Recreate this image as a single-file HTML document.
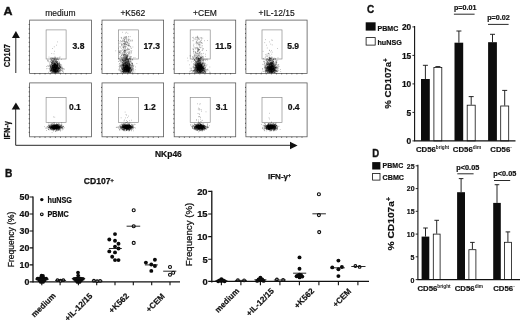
<!DOCTYPE html>
<html lang="en">
<head>
<meta charset="utf-8">
<title>Figure: CD107 and IFN-gamma responses of NK cells</title>
<style>
html,body{margin:0;padding:0;background:#fff;}
body{width:520px;height:322px;overflow:hidden;}
svg{display:block;font-family:'Liberation Sans', Arial, Helvetica, sans-serif;fill:#111;}
</style>
</head>
<body>
<svg width="520" height="322" viewBox="0 0 520 322">
<rect width="520" height="322" fill="#fff"/>
<g id="panelA">
<text x="3.5" y="14.5" font-size="10.5" font-weight="700" text-anchor="start" textLength="9" lengthAdjust="spacingAndGlyphs" stroke="#111" stroke-width="0.35">A</text>
<text x="60.4" y="15.6" font-size="8.5" text-anchor="middle" stroke="#111" stroke-width="0.15">medium</text>
<text x="132.8" y="15.6" font-size="8.5" text-anchor="middle" stroke="#111" stroke-width="0.15">+K562</text>
<text x="205.0" y="15.6" font-size="8.5" text-anchor="middle" stroke="#111" stroke-width="0.15">+CEM</text>
<text x="276.7" y="15.6" font-size="8.5" text-anchor="middle" stroke="#111" stroke-width="0.15">+IL-12/15</text>
<rect x="29.6" y="20.1" width="61.9" height="53.3" fill="none" stroke="#5a5a5a" stroke-width="0.8"/>
<path d="M28.7 24.5h0.9M34.8 74.3v-0.9M28.7 29.0h0.9M39.9 74.3v-0.9M28.7 33.4h0.9M45.1 74.3v-0.9M28.7 37.9h0.9M50.2 74.3v-0.9M28.7 42.3h0.9M55.4 74.3v-0.9M28.7 46.8h0.9M60.5 74.3v-0.9M28.7 51.2h0.9M65.7 74.3v-0.9M28.7 55.6h0.9M70.9 74.3v-0.9M28.7 60.1h0.9M76.0 74.3v-0.9M28.7 64.5h0.9M81.2 74.3v-0.9M28.7 69.0h0.9M86.3 74.3v-0.9" stroke="#222" stroke-width="0.8" fill="none"/>
<rect x="46.1" y="29.9" width="20" height="29.1" fill="none" stroke="#868686" stroke-width="0.65"/>
<text x="72.6" y="48.7" font-size="8.5" font-weight="700" stroke="#111" stroke-width="0.22" text-anchor="start">3.8</text>
<path d="M57.8 70.3h0.6M54.9 69.7h0.6M49.2 70.9h0.6M62.4 69.6h0.6M51.8 66.7h0.6M56.2 71.4h0.6M56.0 70.7h0.6M60.7 69.8h0.6M53.4 72.3h0.6M59.1 72.8h0.6M52.3 67.7h0.6M59.6 68.4h0.6M62.6 68.5h0.6M56.4 67.5h0.6M55.6 68.7h0.6M63.9 69.0h0.6M56.6 66.6h0.6M52.0 70.2h0.6M58.1 67.3h0.6M50.6 67.4h0.6M59.6 72.1h0.6M59.9 68.6h0.6M53.0 69.9h0.6M52.8 71.5h0.6M55.9 71.9h0.6M55.3 69.4h0.6M51.4 70.2h0.6M57.4 68.3h0.6M53.5 71.5h0.6M53.6 67.7h0.6M54.1 70.1h0.6M56.4 71.7h0.6M50.4 71.2h0.6M52.7 68.9h0.6M49.9 69.9h0.6M50.6 67.3h0.6M56.6 70.6h0.6M51.4 70.4h0.6M59.3 70.3h0.6M59.2 65.5h0.6M61.3 68.6h0.6M54.0 70.3h0.6M51.0 67.3h0.6M59.2 68.2h0.6M56.4 69.3h0.6M59.6 70.9h0.6M55.2 69.7h0.6M59.9 68.1h0.6M58.5 71.8h0.6M58.0 68.9h0.6M57.2 69.0h0.6M56.8 67.1h0.6M56.1 68.4h0.6M56.1 71.5h0.6M59.1 66.5h0.6M53.2 69.9h0.6M62.0 71.7h0.6M54.8 69.3h0.6M59.0 70.6h0.6M54.8 67.6h0.6M63.1 72.5h0.6M54.0 70.6h0.6M50.2 66.2h0.6M52.4 67.8h0.6M54.0 72.2h0.6M56.0 70.8h0.6M51.3 68.8h0.6M56.6 69.7h0.6M57.8 70.1h0.6M62.2 71.0h0.6M52.5 66.7h0.6M57.6 72.2h0.6M51.2 67.6h0.6M55.1 67.1h0.6M54.2 70.9h0.6M46.1 68.7h0.6M57.5 64.9h0.6M57.3 71.9h0.6M53.5 70.4h0.6M50.0 69.1h0.6M56.2 70.4h0.6M59.2 68.4h0.6M60.7 70.3h0.6M53.2 67.8h0.6M58.4 68.4h0.6M54.3 70.9h0.6M55.0 68.9h0.6M54.9 69.1h0.6M59.5 72.0h0.6M55.7 71.9h0.6M54.6 71.3h0.6M54.1 71.2h0.6M51.7 70.1h0.6M55.0 68.0h0.6M53.0 69.5h0.6M54.7 67.1h0.6M52.8 69.3h0.6M63.0 71.2h0.6M57.0 68.6h0.6M55.0 70.1h0.6M63.7 69.3h0.6M56.5 68.5h0.6M54.9 67.5h0.6M56.4 70.2h0.6M56.4 66.3h0.6M60.7 70.3h0.6M55.1 70.1h0.6M63.4 68.7h0.6M51.8 67.9h0.6M57.9 67.1h0.6M62.3 67.1h0.6M55.0 71.4h0.6M58.8 69.3h0.6M60.1 67.6h0.6M50.9 72.4h0.6M49.8 68.0h0.6M55.7 69.4h0.6M54.8 72.4h0.6M53.8 70.8h0.6M53.7 68.8h0.6M52.3 71.3h0.6M57.3 67.3h0.6M47.7 68.5h0.6M54.7 65.2h0.6M53.6 69.8h0.6M57.1 69.8h0.6M54.6 69.4h0.6M51.1 70.1h0.6M57.9 71.4h0.6M58.9 58.1h0.6M54.6 58.2h0.6M57.5 64.1h0.6M56.1 62.7h0.6M54.0 59.7h0.6M55.0 57.6h0.6M54.9 62.0h0.6M52.4 58.3h0.6M58.0 63.9h0.6M51.2 60.4h0.6M57.8 64.4h0.6M57.3 58.3h0.6M54.6 61.7h0.6M52.8 58.3h0.6M54.2 64.1h0.6M56.0 62.3h0.6M56.7 59.5h0.6M55.5 65.7h0.6M57.4 63.3h0.6M53.4 60.4h0.6M55.4 64.8h0.6M50.7 60.7h0.6M56.8 65.5h0.6M55.2 60.0h0.6M53.7 65.9h0.6M57.8 58.0h0.6M56.6 63.7h0.6M47.5 60.0h0.6M54.9 61.1h0.6M51.0 62.9h0.6M57.6 57.9h0.6M61.3 59.4h0.6M53.5 58.4h0.6M55.0 63.8h0.6M54.1 59.4h0.6M55.7 61.7h0.6M56.5 60.3h0.6M58.1 59.5h0.6M52.2 65.4h0.6M58.9 61.8h0.6M52.4 63.0h0.6M55.5 63.5h0.6M57.8 64.5h0.6M56.7 59.7h0.6M52.4 58.2h0.6M53.0 61.5h0.6M53.6 58.9h0.6M54.7 57.7h0.6M57.8 65.3h0.6M51.4 62.8h0.6M56.0 61.0h0.6M56.4 58.7h0.6M56.3 64.0h0.6M56.0 62.0h0.6M58.7 59.0h0.6M56.1 65.8h0.6M57.0 65.6h0.6M56.3 65.4h0.6M59.5 64.5h0.6M49.9 62.0h0.6M58.1 60.1h0.6M54.1 63.0h0.6M54.1 58.8h0.6M52.3 62.7h0.6M49.9 58.1h0.6M53.8 57.6h0.6M53.0 63.6h0.6M56.1 60.4h0.6M51.0 63.4h0.6M58.5 64.1h0.6M55.5 64.6h0.6M54.2 62.7h0.6M53.0 64.7h0.6M52.8 63.1h0.6M51.9 65.4h0.6M53.4 65.1h0.6M54.8 57.9h0.6M54.3 59.8h0.6M51.1 60.8h0.6M54.1 59.6h0.6M52.5 59.0h0.6M55.2 64.9h0.6M59.6 57.7h0.6M56.4 59.0h0.6M54.0 64.0h0.6M50.6 59.4h0.6M51.1 59.7h0.6M50.4 65.7h0.6M56.7 64.0h0.6M52.8 61.3h0.6M55.0 58.7h0.6M53.2 59.8h0.6M55.0 65.8h0.6M58.4 64.2h0.6M53.0 58.1h0.6M53.9 63.5h0.6M52.7 60.7h0.6M57.1 63.6h0.6M52.1 60.0h0.6M51.9 58.6h0.6M51.2 57.7h0.6M51.1 60.0h0.6M56.0 64.8h0.6M61.5 65.1h0.6M52.2 63.3h0.6M57.3 63.9h0.6M55.5 59.2h0.6M51.9 60.5h0.6M54.1 65.1h0.6M54.2 65.9h0.6M53.0 61.3h0.6M59.8 64.1h0.6M49.8 65.4h0.6M55.8 66.0h0.6M55.7 60.0h0.6M53.3 63.1h0.6M55.2 60.8h0.6M57.1 61.5h0.6M55.2 61.4h0.6M55.9 59.9h0.6M56.6 57.7h0.6M49.5 64.0h0.6M58.6 63.4h0.6M60.7 64.6h0.6M57.4 58.8h0.6M57.4 59.5h0.6M51.1 62.6h0.6M54.5 65.5h0.6M52.7 61.5h0.6M53.3 59.2h0.6M57.3 63.1h0.6M53.5 63.1h0.6M54.7 56.4h0.6M54.5 58.6h0.6M54.8 58.2h0.6M54.5 64.0h0.6M51.5 64.5h0.6M47.4 61.0h0.6M51.8 57.7h0.6M47.6 60.6h0.6M54.1 61.0h0.6M53.9 59.0h0.6M48.7 57.1h0.6M56.0 62.2h0.6M56.6 62.7h0.6M54.2 62.2h0.6M59.1 62.5h0.6M59.7 56.8h0.6M50.2 58.1h0.6M57.1 64.7h0.6M55.3 62.9h0.6M55.2 64.2h0.6M56.8 62.1h0.6M51.7 62.6h0.6M52.1 63.4h0.6M51.3 58.7h0.6M51.6 62.7h0.6M53.6 60.6h0.6M49.4 62.1h0.6M50.7 58.6h0.6M55.7 58.9h0.6M53.7 62.3h0.6M55.1 59.7h0.6M48.0 60.8h0.6M51.5 53.5h0.6M52.2 63.5h0.6M54.0 60.6h0.6M52.1 61.5h0.6M56.8 62.0h0.6M53.7 53.8h0.6M54.0 51.3h0.6M53.9 46.8h0.6M56.1 45.2h0.6M52.4 48.5h0.6M57.4 41.9h0.6" stroke="#111" stroke-width="0.6" stroke-opacity="0.62" fill="none"/>
<path d="M55.2 71.7h0.6M52.8 67.6h0.6M54.0 70.5h0.6M52.5 68.7h0.6M55.4 68.6h0.6M53.9 64.3h0.6M53.5 71.5h0.6M56.5 68.2h0.6M56.2 72.5h0.6M55.5 68.9h0.6M52.7 66.3h0.6M55.1 69.1h0.6M57.1 70.5h0.6M51.6 68.4h0.6M54.0 69.8h0.6M50.1 66.7h0.6M51.7 61.9h0.6M50.2 71.0h0.6M54.6 70.4h0.6M51.8 68.7h0.6M55.9 68.5h0.6M55.6 71.4h0.6M54.7 66.9h0.6M48.4 66.2h0.6M53.7 67.7h0.6M55.1 71.9h0.6M55.5 64.1h0.6M51.1 71.9h0.6M53.9 66.4h0.6M52.6 65.0h0.6M53.0 72.1h0.6M58.1 68.0h0.6M53.0 64.4h0.6M55.1 67.2h0.6M57.6 71.1h0.6M53.6 71.9h0.6M54.9 67.0h0.6M55.5 69.5h0.6M55.4 70.4h0.6M51.9 66.4h0.6M55.4 69.4h0.6M58.9 68.2h0.6M51.0 66.7h0.6M57.5 66.8h0.6M55.5 68.5h0.6M53.5 68.4h0.6M60.6 66.6h0.6M57.3 67.0h0.6M52.0 71.6h0.6M55.4 68.9h0.6M56.8 71.0h0.6M54.7 71.9h0.6M57.0 70.1h0.6M57.0 65.8h0.6M59.1 70.7h0.6M53.4 67.3h0.6M55.5 62.4h0.6M52.0 65.4h0.6M53.6 70.3h0.6M54.7 70.7h0.6M57.6 70.5h0.6M58.3 68.1h0.6M51.6 69.7h0.6M53.1 70.3h0.6M56.9 68.1h0.6M49.8 71.4h0.6M53.9 61.5h0.6M54.9 70.2h0.6M58.6 65.2h0.6M57.1 71.2h0.6M54.3 67.6h0.6M54.2 65.6h0.6M54.5 69.4h0.6M59.3 65.6h0.6M54.0 65.6h0.6M54.4 63.6h0.6M56.2 68.2h0.6M54.9 69.8h0.6M54.7 71.4h0.6M52.2 67.9h0.6M55.2 71.4h0.6M54.0 68.4h0.6M58.3 68.0h0.6M57.0 70.0h0.6M55.1 71.5h0.6M57.0 67.3h0.6M54.3 67.6h0.6M58.0 67.8h0.6M55.2 68.5h0.6M56.8 65.6h0.6M51.7 71.4h0.6M56.1 67.1h0.6M50.6 69.7h0.6M49.7 65.8h0.6M54.4 69.4h0.6M52.8 69.5h0.6M55.6 67.0h0.6M53.0 69.4h0.6M55.8 71.2h0.6M56.5 66.3h0.6M54.7 67.2h0.6M54.6 69.6h0.6M57.1 68.5h0.6M56.6 68.4h0.6M52.4 67.4h0.6M55.0 62.9h0.6M55.3 67.6h0.6M52.4 61.6h0.6M55.9 69.4h0.6M52.9 66.1h0.6M57.8 66.2h0.6M55.7 67.6h0.6M55.4 69.1h0.6M53.6 64.0h0.6M54.9 63.1h0.6M49.8 65.1h0.6M52.1 62.2h0.6M56.2 65.4h0.6M57.5 65.1h0.6M50.5 70.3h0.6M57.2 64.2h0.6M52.9 69.2h0.6M57.3 67.3h0.6M55.6 68.1h0.6M51.1 70.0h0.6M59.1 68.9h0.6M55.0 68.7h0.6M54.5 65.4h0.6M54.8 70.1h0.6M52.6 67.6h0.6M58.2 70.8h0.6M53.7 68.2h0.6M53.1 62.4h0.6M53.5 67.4h0.6M51.8 70.9h0.6M58.6 67.2h0.6M54.8 65.9h0.6M57.8 67.5h0.6M55.2 64.2h0.6M53.3 68.7h0.6M53.7 71.7h0.6M55.2 65.0h0.6M54.2 65.7h0.6M54.4 67.1h0.6M51.5 71.3h0.6M53.0 65.8h0.6M59.7 66.2h0.6M53.4 71.0h0.6M52.4 70.9h0.6M56.1 67.2h0.6M59.0 64.9h0.6M51.3 63.7h0.6M54.6 66.2h0.6M53.5 61.6h0.6M50.4 70.5h0.6M57.2 66.4h0.6M55.1 69.7h0.6M53.2 71.8h0.6M56.4 64.8h0.6M53.7 70.9h0.6M54.8 71.8h0.6M52.2 66.1h0.6M51.9 65.4h0.6M58.8 68.0h0.6M53.8 63.5h0.6M56.0 72.7h0.6M55.1 61.1h0.6M54.0 65.0h0.6M53.8 67.5h0.6M56.9 67.6h0.6M54.4 68.8h0.6M54.8 69.1h0.6M55.3 67.7h0.6M58.4 71.7h0.6M57.0 61.9h0.6M56.2 68.3h0.6M53.7 66.2h0.6M51.5 68.7h0.6M57.8 69.0h0.6M57.8 65.6h0.6M54.8 66.4h0.6M56.7 70.7h0.6M57.3 69.3h0.6M57.4 66.3h0.6M59.3 63.9h0.6M51.8 69.2h0.6M56.5 70.7h0.6M57.6 69.0h0.6M60.3 67.7h0.6M59.2 66.7h0.6M52.1 67.7h0.6M50.6 66.6h0.6M57.4 70.5h0.6M52.5 67.1h0.6M55.2 67.0h0.6M57.5 64.7h0.6M50.8 68.2h0.6M49.5 65.6h0.6M55.9 67.8h0.6M55.3 71.4h0.6M54.5 69.4h0.6M55.3 69.8h0.6M52.9 69.4h0.6M51.1 68.5h0.6M54.8 67.9h0.6M52.6 67.4h0.6M50.8 70.6h0.6M56.6 65.0h0.6M55.0 72.3h0.6M56.3 68.4h0.6M52.5 66.1h0.6M53.4 66.8h0.6M52.5 66.3h0.6M52.8 68.8h0.6M55.7 66.1h0.6M53.1 71.7h0.6M56.2 66.0h0.6M56.1 61.5h0.6M60.7 66.1h0.6M51.4 62.3h0.6M57.6 68.2h0.6M55.0 71.5h0.6M55.2 70.2h0.6M51.3 64.3h0.6M54.0 66.0h0.6M55.0 69.3h0.6M55.4 68.3h0.6M54.4 71.5h0.6M55.1 72.2h0.6M49.3 68.7h0.6M53.3 69.4h0.6M49.9 70.2h0.6M46.4 66.5h0.6M53.8 65.1h0.6M58.8 68.5h0.6M55.3 65.5h0.6M52.0 68.1h0.6M52.7 68.6h0.6M55.6 65.7h0.6M55.3 67.9h0.6M55.1 67.8h0.6M55.3 69.6h0.6M57.4 71.4h0.6M56.7 66.8h0.6M55.8 65.8h0.6M52.4 63.4h0.6M56.6 65.5h0.6M53.4 69.9h0.6M58.2 68.4h0.6M51.8 65.3h0.6M54.8 67.2h0.6M55.2 68.4h0.6M51.6 69.8h0.6M59.8 66.5h0.6M59.1 67.5h0.6M53.9 62.8h0.6M57.3 64.8h0.6M48.1 61.7h0.6M55.9 67.3h0.6M55.0 69.0h0.6M55.4 67.2h0.6M52.3 65.9h0.6M54.5 68.1h0.6M54.7 68.3h0.6M58.4 68.1h0.6M56.1 62.7h0.6M55.2 67.9h0.6M59.3 65.7h0.6M53.7 66.7h0.6M54.1 69.0h0.6M50.3 70.2h0.6M59.4 71.0h0.6M57.8 66.8h0.6M57.7 71.1h0.6M57.0 71.8h0.6M55.5 71.7h0.6M55.8 72.5h0.6M54.5 67.9h0.6M54.7 67.8h0.6M55.3 70.8h0.6M59.3 64.2h0.6M56.7 68.9h0.6M55.0 66.7h0.6M53.6 67.2h0.6M53.5 63.1h0.6M59.5 65.6h0.6M56.6 68.2h0.6M55.4 71.0h0.6M54.3 71.3h0.6M52.2 68.1h0.6M55.0 67.7h0.6M57.6 65.8h0.6M54.1 69.5h0.6M54.6 67.6h0.6M54.6 70.1h0.6M50.9 68.2h0.6M54.6 63.8h0.6M52.9 65.7h0.6M57.6 63.9h0.6M53.1 64.7h0.6M56.8 72.2h0.6M59.3 69.0h0.6M54.4 63.7h0.6M53.6 70.3h0.6M55.7 72.1h0.6M55.2 67.2h0.6M52.5 66.3h0.6M56.4 67.3h0.6M60.6 69.2h0.6M54.5 70.2h0.6M54.7 71.8h0.6M52.4 71.9h0.6M56.1 71.9h0.6M51.8 72.4h0.6M52.2 70.3h0.6M58.7 63.7h0.6M52.8 67.9h0.6M58.1 69.2h0.6M59.3 67.2h0.6M55.9 71.0h0.6M56.7 67.2h0.6M60.5 65.5h0.6M54.7 72.6h0.6M53.6 70.3h0.6M51.5 69.0h0.6M55.3 71.1h0.6M59.2 71.5h0.6M57.8 69.3h0.6M52.7 60.9h0.6M52.9 66.3h0.6M53.8 66.9h0.6M56.0 65.3h0.6M54.6 68.9h0.6M55.8 71.9h0.6M56.0 66.8h0.6M54.4 64.9h0.6M55.8 66.9h0.6M55.0 64.6h0.6M56.6 69.0h0.6M60.3 69.6h0.6M56.8 66.2h0.6M55.4 70.7h0.6M50.6 66.8h0.6M56.2 65.5h0.6M49.9 68.8h0.6M51.4 70.6h0.6M57.5 66.4h0.6M57.1 69.3h0.6M54.8 68.0h0.6M54.2 66.2h0.6M53.4 72.5h0.6M56.9 68.1h0.6M61.3 67.9h0.6M55.8 70.5h0.6M53.1 71.0h0.6M52.0 72.1h0.6M55.0 69.3h0.6M54.7 66.5h0.6M52.1 66.7h0.6M55.5 69.8h0.6M52.1 70.0h0.6M58.2 72.5h0.6M58.1 69.6h0.6M58.1 71.5h0.6M56.6 68.8h0.6M54.8 63.8h0.6M54.2 64.8h0.6M54.3 64.0h0.6M51.3 65.8h0.6M57.3 72.0h0.6M54.7 70.1h0.6M57.9 71.3h0.6M50.5 68.0h0.6M53.1 67.7h0.6M55.7 68.6h0.6M56.3 68.8h0.6M54.2 66.7h0.6M58.0 68.2h0.6M51.9 63.2h0.6M52.7 69.1h0.6M57.4 65.6h0.6M56.5 68.9h0.6M50.1 70.8h0.6M58.8 68.1h0.6M56.8 70.6h0.6M58.8 63.5h0.6M54.2 71.6h0.6M54.4 66.5h0.6M52.2 70.2h0.6M62.0 68.8h0.6M54.7 60.5h0.6M59.5 66.0h0.6M53.5 69.0h0.6M50.7 69.2h0.6M54.2 69.1h0.6M57.9 64.1h0.6M51.8 72.6h0.6M56.1 68.4h0.6M52.4 67.6h0.6M53.8 63.4h0.6M54.0 70.9h0.6M53.8 70.5h0.6M53.0 72.1h0.6M54.4 69.9h0.6M52.4 65.3h0.6M51.7 72.3h0.6M55.1 64.6h0.6M57.6 67.7h0.6M51.1 69.1h0.6M55.2 70.9h0.6M53.4 69.5h0.6M52.6 69.5h0.6M57.5 66.0h0.6M53.8 64.4h0.6M59.2 68.5h0.6M53.1 66.2h0.6M56.2 64.4h0.6M54.6 64.5h0.6M53.2 66.8h0.6M56.8 62.7h0.6M54.8 64.3h0.6M56.8 63.4h0.6M55.1 68.8h0.6M52.3 69.5h0.6M55.3 63.8h0.6M57.8 66.3h0.6M52.8 71.0h0.6M55.1 67.6h0.6M50.6 67.3h0.6M52.3 67.3h0.6M50.3 64.8h0.6M55.0 64.3h0.6M58.2 69.3h0.6M51.1 69.2h0.6M52.3 64.2h0.6M53.2 65.3h0.6M52.2 69.9h0.6M56.2 70.0h0.6M53.0 66.4h0.6M53.3 70.2h0.6M56.8 70.0h0.6M53.2 63.0h0.6M56.4 67.4h0.6M52.6 69.5h0.6M51.9 66.6h0.6M50.2 61.9h0.6M60.2 67.5h0.6M54.3 70.6h0.6M55.1 61.7h0.6M55.3 64.9h0.6M60.4 71.2h0.6M52.4 72.0h0.6M51.0 71.2h0.6M52.5 68.7h0.6M51.6 64.8h0.6M57.2 70.2h0.6M57.4 66.2h0.6M52.6 60.7h0.6M54.2 70.4h0.6M47.6 65.6h0.6M56.6 72.7h0.6M52.3 68.2h0.6M54.4 64.7h0.6M51.1 67.8h0.6M52.6 61.7h0.6M58.9 63.2h0.6M57.4 68.6h0.6M54.1 65.3h0.6M52.9 67.8h0.6M50.1 68.0h0.6M55.1 72.2h0.6M55.0 68.2h0.6M54.9 71.9h0.6M52.2 66.0h0.6M55.0 67.3h0.6M55.1 71.0h0.6M58.7 64.6h0.6M60.2 67.5h0.6M54.8 64.3h0.6M53.1 68.7h0.6M53.6 66.0h0.6M53.2 69.0h0.6M55.0 65.6h0.6M52.4 64.9h0.6M56.8 64.6h0.6M54.9 72.7h0.6M54.7 69.7h0.6M53.2 66.2h0.6M52.6 70.4h0.6M54.6 67.3h0.6M53.7 70.7h0.6M55.8 69.2h0.6M55.2 69.1h0.6M51.5 70.1h0.6M55.4 66.6h0.6M51.6 67.1h0.6M53.5 63.1h0.6M54.4 67.0h0.6M49.6 64.0h0.6M55.4 67.9h0.6M55.6 65.4h0.6M54.8 68.6h0.6M54.1 69.7h0.6M54.2 64.0h0.6M52.6 65.9h0.6M54.5 65.5h0.6M53.7 70.5h0.6M51.9 70.9h0.6M55.8 67.3h0.6M55.6 72.7h0.6M54.8 63.8h0.6M54.0 72.8h0.6M56.7 66.3h0.6M50.7 60.0h0.6M56.0 65.2h0.6M56.2 68.8h0.6M53.4 67.7h0.6M54.5 68.6h0.6M56.9 63.9h0.6M56.4 66.3h0.6M55.8 69.7h0.6M51.1 69.0h0.6M56.7 71.9h0.6M58.4 68.5h0.6M55.8 66.2h0.6M51.0 69.1h0.6M57.7 62.6h0.6M54.8 64.5h0.6M48.4 72.3h0.6M56.2 65.5h0.6M51.2 69.9h0.6M51.7 68.1h0.6M53.5 65.2h0.6M58.6 67.3h0.6M54.2 66.8h0.6M55.9 66.8h0.6M59.9 70.6h0.6M59.5 70.3h0.6M54.9 66.6h0.6M54.5 65.6h0.6M51.8 69.1h0.6M53.3 68.0h0.6M56.3 71.4h0.6M55.5 70.8h0.6M57.9 68.2h0.6M53.1 67.8h0.6M55.0 65.7h0.6M57.2 65.6h0.6M56.8 65.3h0.6M58.1 67.1h0.6M56.3 67.0h0.6M54.4 70.5h0.6M56.2 67.1h0.6M52.5 67.7h0.6M50.8 64.6h0.6M55.1 69.8h0.6M50.6 70.7h0.6M54.2 72.8h0.6M53.6 67.6h0.6M52.9 70.5h0.6M54.3 64.6h0.6M57.6 71.8h0.6M53.6 69.6h0.6M55.2 70.6h0.6M57.2 72.1h0.6M47.7 66.3h0.6M54.9 69.6h0.6M56.7 65.6h0.6M57.0 66.2h0.6M59.8 66.4h0.6M58.3 67.9h0.6M56.0 68.7h0.6M56.0 69.7h0.6M57.3 63.9h0.6M55.1 71.9h0.6M57.6 70.5h0.6M60.5 67.2h0.6M54.8 68.0h0.6M55.1 70.0h0.6M55.7 69.6h0.6M58.8 63.1h0.6M55.1 70.6h0.6M52.6 62.6h0.6M54.7 71.4h0.6M54.7 69.4h0.6M57.3 68.0h0.6M58.0 72.5h0.6M51.1 64.7h0.6M52.7 68.8h0.6M53.4 67.7h0.6M51.1 67.0h0.6M58.0 68.7h0.6M56.5 66.9h0.6M53.9 65.5h0.6M58.0 71.0h0.6M54.6 64.4h0.6M58.2 70.4h0.6M52.7 68.0h0.6M52.9 60.3h0.6M55.8 68.3h0.6M53.3 65.0h0.6M57.0 66.9h0.6M52.7 64.9h0.6M55.4 65.0h0.6M54.3 72.7h0.6M57.7 68.7h0.6M54.0 69.3h0.6M58.5 65.6h0.6M61.2 68.1h0.6M60.6 72.1h0.6M55.4 71.2h0.6M55.8 68.3h0.6M59.3 68.5h0.6M54.9 68.0h0.6M52.6 66.5h0.6M56.4 68.3h0.6M53.0 64.8h0.6M50.8 66.8h0.6M51.3 70.5h0.6M57.0 70.3h0.6M53.2 67.9h0.6M54.8 66.2h0.6M55.8 68.4h0.6M56.9 63.1h0.6M54.3 64.3h0.6M56.5 70.8h0.6M52.8 66.8h0.6M54.2 69.5h0.6M52.4 72.1h0.6M58.3 70.3h0.6M55.1 68.4h0.6M54.2 70.4h0.6M54.6 67.2h0.6M57.1 70.6h0.6M50.9 69.6h0.6M52.4 65.7h0.6M54.2 68.5h0.6M62.0 67.8h0.6M57.8 62.2h0.6M54.9 67.8h0.6M57.1 67.4h0.6M60.8 66.9h0.6M54.6 63.2h0.6M54.2 67.2h0.6M58.5 68.2h0.6M56.5 68.6h0.6M57.0 64.8h0.6M53.8 70.3h0.6M60.4 64.6h0.6M59.8 67.6h0.6M56.7 72.3h0.6M57.0 66.2h0.6M49.7 66.7h0.6M56.9 71.6h0.6M54.7 67.1h0.6M56.4 67.4h0.6M57.0 69.0h0.6M54.3 71.5h0.6M50.6 61.5h0.6M56.2 65.7h0.6M53.2 65.2h0.6M54.3 65.0h0.6M53.6 65.7h0.6M54.3 65.7h0.6M49.0 69.2h0.6M58.5 65.6h0.6M55.9 68.7h0.6M58.2 69.5h0.6M60.5 66.1h0.6M55.3 68.7h0.6M52.8 69.3h0.6M51.9 66.3h0.6M53.8 68.1h0.6M55.4 65.5h0.6M49.8 69.1h0.6M56.1 70.9h0.6M51.1 65.8h0.6M56.0 67.7h0.6M54.9 71.7h0.6M54.4 66.8h0.6M55.0 68.9h0.6M53.7 65.2h0.6M53.5 65.8h0.6M50.7 66.7h0.6M60.2 67.1h0.6M60.5 66.7h0.6M58.8 66.6h0.6M57.1 67.8h0.6M53.4 70.3h0.6M59.1 68.9h0.6M55.0 68.9h0.6M54.4 72.6h0.6M55.4 69.1h0.6M54.0 70.1h0.6M55.0 64.0h0.6M52.3 67.9h0.6M54.2 68.1h0.6M61.4 67.6h0.6M55.0 61.8h0.6M54.6 70.9h0.6M56.6 67.1h0.6M57.1 67.0h0.6M52.2 67.5h0.6M54.6 67.6h0.6M57.7 69.5h0.6M55.9 64.5h0.6M55.5 65.5h0.6M59.4 69.2h0.6M53.4 68.7h0.6M55.4 67.2h0.6M53.8 66.6h0.6M59.2 65.8h0.6M49.9 68.1h0.6M53.4 71.8h0.6M53.8 65.1h0.6M56.8 70.8h0.6M59.0 66.9h0.6M51.0 70.6h0.6M57.2 63.9h0.6M54.4 63.1h0.6M53.4 64.4h0.6M56.7 67.1h0.6M52.7 67.3h0.6M49.6 66.8h0.6M54.2 68.6h0.6M51.2 61.9h0.6M53.4 69.8h0.6M56.2 64.0h0.6M56.0 66.3h0.6M59.5 67.1h0.6M54.7 64.8h0.6M51.1 64.2h0.6M53.2 65.3h0.6M52.7 68.3h0.6M51.9 70.1h0.6M56.4 70.0h0.6M53.5 65.3h0.6M49.9 65.9h0.6M57.1 65.5h0.6M54.9 69.6h0.6M56.2 62.2h0.6M55.5 72.0h0.6M56.9 66.8h0.6M55.3 65.9h0.6M58.5 69.3h0.6M56.3 71.4h0.6M56.3 69.3h0.6M56.3 71.5h0.6M51.3 68.7h0.6M54.8 72.0h0.6M54.5 72.0h0.6M55.8 68.0h0.6M51.5 72.6h0.6M59.6 68.8h0.6M55.5 68.6h0.6M51.9 65.5h0.6M50.6 67.4h0.6M54.4 70.6h0.6M55.0 64.4h0.6M53.3 70.2h0.6M55.4 69.3h0.6M53.5 69.1h0.6M56.7 61.7h0.6M53.2 68.0h0.6M55.1 70.2h0.6M57.8 66.0h0.6M62.1 68.6h0.6M52.5 61.2h0.6M53.9 70.3h0.6M52.9 66.3h0.6M57.3 70.9h0.6M52.1 62.8h0.6M53.9 70.4h0.6M55.1 67.6h0.6M52.6 70.7h0.6M52.6 65.5h0.6M53.9 66.4h0.6M51.3 65.8h0.6M54.1 66.2h0.6M55.6 67.5h0.6M54.7 65.2h0.6M50.4 71.9h0.6M57.4 66.2h0.6M56.7 63.1h0.6M55.0 71.8h0.6M52.8 71.6h0.6M56.9 70.8h0.6M53.6 71.8h0.6M52.0 65.7h0.6M53.0 67.8h0.6M59.1 64.1h0.6M55.8 64.0h0.6M58.3 71.2h0.6M53.9 66.3h0.6M53.6 68.5h0.6M54.8 66.4h0.6M61.9 70.7h0.6M53.8 69.8h0.6M55.0 64.6h0.6M56.1 69.4h0.6M58.5 72.4h0.6M53.9 66.8h0.6M50.5 66.0h0.6M54.4 71.3h0.6M55.2 68.7h0.6M55.5 65.0h0.6M58.8 67.2h0.6M56.1 66.0h0.6M57.4 69.2h0.6M52.2 68.6h0.6M57.5 71.8h0.6M60.9 70.4h0.6M57.3 63.6h0.6M55.9 69.5h0.6M55.6 71.0h0.6M60.0 69.7h0.6M52.7 71.4h0.6M54.9 66.7h0.6M56.4 65.4h0.6M57.2 71.1h0.6M54.0 65.1h0.6M56.0 61.8h0.6M54.4 71.4h0.6M55.5 66.1h0.6M54.8 67.4h0.6M52.1 64.1h0.6M55.1 64.3h0.6M57.6 64.8h0.6M52.6 67.2h0.6M54.5 69.4h0.6M57.0 61.4h0.6M52.3 70.6h0.6M55.7 64.8h0.6M52.3 65.1h0.6" stroke="#000" stroke-width="0.6" stroke-opacity="0.6" fill="none"/>
<rect x="102.0" y="20.1" width="61.6" height="53.3" fill="none" stroke="#5a5a5a" stroke-width="0.8"/>
<path d="M101.1 24.5h0.9M107.1 74.3v-0.9M101.1 29.0h0.9M112.3 74.3v-0.9M101.1 33.4h0.9M117.4 74.3v-0.9M101.1 37.9h0.9M122.5 74.3v-0.9M101.1 42.3h0.9M127.7 74.3v-0.9M101.1 46.8h0.9M132.8 74.3v-0.9M101.1 51.2h0.9M137.9 74.3v-0.9M101.1 55.6h0.9M143.1 74.3v-0.9M101.1 60.1h0.9M148.2 74.3v-0.9M101.1 64.5h0.9M153.3 74.3v-0.9M101.1 69.0h0.9M158.5 74.3v-0.9" stroke="#222" stroke-width="0.8" fill="none"/>
<rect x="118.6" y="29.9" width="20" height="29.1" fill="none" stroke="#868686" stroke-width="0.65"/>
<text x="143.4" y="48.7" font-size="8.5" font-weight="700" stroke="#111" stroke-width="0.22" text-anchor="start">17.3</text>
<path d="M122.3 67.8h0.6M122.5 68.8h0.6M122.1 72.6h0.6M124.5 67.9h0.6M128.0 70.6h0.6M121.9 69.2h0.6M126.6 71.1h0.6M119.7 70.7h0.6M124.3 71.3h0.6M128.5 70.0h0.6M126.9 72.4h0.6M125.6 69.4h0.6M129.5 69.2h0.6M128.3 68.2h0.6M129.2 68.9h0.6M126.0 70.1h0.6M125.1 67.6h0.6M127.5 65.3h0.6M124.6 72.3h0.6M127.7 68.2h0.6M130.5 68.8h0.6M129.6 69.2h0.6M124.7 67.8h0.6M121.2 67.6h0.6M126.0 70.3h0.6M130.5 71.6h0.6M124.7 71.6h0.6M125.4 66.7h0.6M129.1 69.9h0.6M124.4 67.4h0.6M125.6 71.7h0.6M132.9 69.5h0.6M132.0 70.1h0.6M128.7 69.8h0.6M127.3 68.7h0.6M122.4 66.6h0.6M128.4 71.2h0.6M126.4 66.9h0.6M127.1 67.4h0.6M124.2 69.3h0.6M126.2 68.4h0.6M125.5 70.5h0.6M127.4 72.2h0.6M131.8 70.5h0.6M127.6 70.4h0.6M119.8 70.0h0.6M122.4 71.9h0.6M120.1 65.9h0.6M123.1 70.8h0.6M128.4 67.9h0.6M127.8 67.3h0.6M123.9 70.0h0.6M127.3 69.1h0.6M123.3 71.3h0.6M120.7 72.4h0.6M120.7 64.9h0.6M122.9 69.8h0.6M121.0 71.9h0.6M131.4 70.2h0.6M125.5 66.8h0.6M126.0 67.5h0.6M123.8 71.5h0.6M126.1 72.1h0.6M128.8 68.4h0.6M126.2 69.4h0.6M130.1 70.5h0.6M130.8 66.1h0.6M127.5 69.2h0.6M127.5 69.7h0.6M127.8 68.8h0.6M127.0 68.2h0.6M122.8 65.0h0.6M134.6 72.1h0.6M122.4 69.1h0.6M127.3 70.7h0.6M118.7 70.4h0.6M123.1 66.0h0.6M122.4 69.2h0.6M125.7 69.6h0.6M127.4 65.1h0.6M130.5 72.0h0.6M129.3 72.1h0.6M130.8 68.6h0.6M128.5 70.2h0.6M124.4 70.8h0.6M130.5 72.1h0.6M124.3 70.2h0.6M132.1 69.4h0.6M129.3 68.6h0.6M127.0 68.9h0.6M129.1 64.4h0.6M129.6 68.2h0.6M120.9 72.2h0.6M125.8 70.6h0.6M121.6 68.2h0.6M126.7 70.7h0.6M123.6 65.5h0.6M131.5 69.4h0.6M128.2 71.1h0.6M123.0 71.5h0.6M126.1 68.3h0.6M121.5 72.0h0.6M128.3 69.0h0.6M127.2 71.6h0.6M118.7 66.6h0.6M124.9 65.7h0.6M128.2 71.3h0.6M127.4 70.1h0.6M130.7 70.4h0.6M121.2 68.7h0.6M128.2 69.3h0.6M123.6 71.8h0.6M127.8 69.5h0.6M128.9 66.4h0.6M123.9 72.8h0.6M126.9 71.3h0.6M121.6 71.5h0.6M120.7 70.4h0.6M126.0 70.2h0.6M119.9 71.1h0.6M122.9 65.9h0.6M126.2 68.7h0.6M132.2 68.5h0.6M130.2 69.9h0.6M129.3 70.8h0.6M119.2 68.3h0.6M128.0 67.6h0.6M127.7 69.0h0.6M127.8 70.5h0.6M125.3 67.2h0.6M133.0 71.2h0.6M131.9 71.4h0.6M125.8 69.3h0.6M130.8 61.2h0.6M126.1 64.5h0.6M126.6 64.1h0.6M123.4 64.8h0.6M121.5 61.2h0.6M124.2 63.0h0.6M125.0 58.3h0.6M124.7 58.1h0.6M127.9 58.4h0.6M119.7 63.8h0.6M122.9 60.5h0.6M121.1 65.2h0.6M129.4 58.2h0.6M124.4 59.0h0.6M124.5 64.6h0.6M123.0 61.1h0.6M128.2 59.4h0.6M124.8 64.1h0.6M126.4 59.5h0.6M120.6 65.8h0.6M128.9 59.8h0.6M126.9 64.8h0.6M127.3 61.6h0.6M129.1 65.5h0.6M125.4 60.0h0.6M125.4 65.4h0.6M127.7 60.1h0.6M127.0 61.3h0.6M125.2 62.9h0.6M126.0 62.2h0.6M124.6 63.2h0.6M127.7 63.4h0.6M128.3 59.8h0.6M125.9 57.6h0.6M130.8 63.6h0.6M121.9 62.6h0.6M125.3 62.3h0.6M130.3 61.7h0.6M124.8 65.4h0.6M121.7 60.0h0.6M129.5 65.3h0.6M127.3 58.9h0.6M122.8 63.4h0.6M127.9 65.5h0.6M123.2 58.8h0.6M122.4 64.0h0.6M125.5 59.8h0.6M124.6 58.0h0.6M123.0 61.2h0.6M124.9 63.4h0.6M123.3 59.9h0.6M126.0 65.6h0.6M125.8 57.5h0.6M127.8 59.8h0.6M124.7 60.4h0.6M122.4 60.7h0.6M122.4 60.0h0.6M125.2 57.7h0.6M129.9 59.3h0.6M128.1 59.7h0.6M124.2 63.2h0.6M128.3 60.7h0.6M122.9 63.6h0.6M128.5 61.3h0.6M124.9 60.4h0.6M127.9 58.9h0.6M127.5 59.4h0.6M125.2 65.2h0.6M126.7 61.4h0.6M123.1 60.2h0.6M125.7 59.4h0.6M128.7 65.0h0.6M136.6 63.5h0.6M127.7 63.4h0.6M126.1 64.3h0.6M123.2 59.6h0.6M128.6 63.7h0.6M121.6 58.1h0.6M123.8 63.2h0.6M126.8 60.2h0.6M122.7 63.1h0.6M129.9 59.4h0.6M128.7 60.5h0.6M124.4 63.2h0.6M124.4 65.5h0.6M122.4 60.4h0.6M122.2 58.9h0.6M127.0 58.6h0.6M127.5 63.2h0.6M126.8 65.1h0.6M126.6 57.6h0.6M124.4 60.4h0.6M126.8 58.9h0.6M122.0 65.6h0.6M125.9 58.6h0.6M129.7 58.1h0.6M129.3 64.0h0.6M124.7 66.0h0.6M125.0 64.1h0.6M129.5 58.5h0.6M130.5 61.0h0.6M122.0 61.9h0.6M124.8 65.1h0.6M126.5 63.9h0.6M129.1 58.0h0.6M123.7 61.4h0.6M127.6 64.1h0.6M125.1 62.1h0.6M132.1 63.2h0.6M127.0 65.7h0.6M125.5 65.8h0.6M125.0 64.6h0.6M128.6 62.4h0.6M127.7 60.1h0.6M123.1 58.9h0.6M126.4 58.9h0.6M122.4 62.9h0.6M123.9 64.1h0.6M122.5 64.8h0.6M122.4 65.3h0.6M124.1 59.9h0.6M123.3 60.3h0.6M127.3 59.2h0.6M128.0 62.1h0.6M125.3 65.5h0.6M123.0 63.9h0.6M128.0 61.2h0.6M120.6 58.9h0.6M120.8 64.7h0.6M127.8 65.1h0.6M124.7 59.3h0.6M126.3 56.9h0.6M124.1 61.7h0.6M124.9 52.4h0.6M134.7 57.5h0.6M124.4 52.1h0.6M122.1 32.3h0.6M125.9 56.2h0.6M124.1 57.7h0.6M124.1 60.8h0.6M124.8 47.0h0.6M127.5 45.4h0.6M125.8 54.6h0.6M121.4 44.8h0.6M124.7 59.8h0.6M126.6 60.6h0.6M123.7 52.0h0.6M128.7 53.7h0.6M127.5 58.7h0.6M122.0 60.0h0.6M126.1 59.1h0.6M131.2 48.4h0.6M129.9 57.9h0.6M124.9 54.9h0.6M127.9 52.1h0.6M123.0 54.8h0.6M120.6 52.1h0.6M126.8 61.9h0.6M125.9 59.1h0.6M126.7 50.7h0.6M125.0 58.5h0.6M126.1 41.1h0.6M123.5 55.8h0.6M126.6 55.5h0.6M127.7 55.3h0.6M124.9 58.4h0.6M127.6 54.5h0.6M119.6 50.9h0.6M122.7 57.1h0.6M129.6 56.1h0.6M130.6 60.2h0.6M125.9 62.2h0.6M124.8 46.7h0.6M121.2 57.9h0.6M126.2 57.6h0.6M127.5 57.4h0.6M120.5 50.6h0.6M126.8 49.5h0.6M126.6 62.5h0.6M126.5 58.6h0.6M121.6 55.3h0.6M126.8 57.3h0.6M120.5 60.2h0.6M129.7 54.0h0.6M125.5 61.8h0.6M121.5 60.8h0.6M129.3 58.3h0.6M128.7 61.4h0.6M123.1 46.2h0.6M131.9 40.7h0.6M122.0 64.8h0.6M126.1 59.8h0.6M128.8 43.6h0.6M118.1 48.2h0.6M128.2 61.4h0.6M124.9 62.8h0.6M125.1 60.8h0.6M121.8 50.3h0.6M126.1 53.4h0.6M121.7 59.3h0.6M122.1 59.1h0.6M123.7 62.1h0.6M121.3 54.9h0.6M130.0 60.0h0.6M121.0 62.1h0.6M122.8 61.3h0.6M124.1 44.1h0.6M125.1 63.8h0.6M127.6 49.4h0.6M127.6 48.7h0.6M124.2 54.9h0.6M123.9 60.4h0.6M125.2 57.3h0.6M127.6 54.8h0.6M127.3 57.3h0.6M123.5 63.8h0.6M118.7 61.6h0.6M131.7 59.2h0.6M128.0 61.8h0.6M125.9 55.9h0.6M126.2 57.6h0.6M123.5 41.7h0.6M122.0 59.8h0.6M124.1 58.8h0.6M124.4 43.6h0.6M123.2 51.3h0.6M120.6 62.2h0.6M124.1 52.6h0.6M126.9 61.8h0.6M123.6 54.8h0.6M125.2 33.1h0.6M118.7 59.0h0.6M124.5 50.6h0.6M124.7 53.5h0.6M121.3 44.5h0.6M119.7 60.2h0.6M126.4 57.0h0.6M122.6 52.9h0.6M126.6 59.3h0.6M123.8 60.4h0.6M127.0 55.6h0.6M124.0 51.8h0.6M120.4 53.6h0.6M124.8 61.4h0.6M124.1 56.0h0.6M127.1 56.8h0.6M123.7 46.5h0.6M123.9 61.0h0.6M127.8 59.4h0.6M128.7 43.0h0.6M127.5 59.2h0.6M128.3 61.8h0.6M126.5 59.8h0.6M127.5 60.1h0.6M127.8 60.1h0.6M126.4 44.4h0.6M125.3 61.0h0.6M125.5 63.3h0.6M132.6 47.0h0.6M125.1 56.3h0.6M124.4 54.1h0.6M124.0 56.2h0.6M125.0 54.4h0.6M125.9 53.1h0.6M121.6 55.9h0.6M119.0 63.5h0.6M126.0 57.2h0.6M120.1 61.9h0.6M125.9 55.7h0.6M125.5 57.1h0.6M128.7 45.8h0.6M130.3 61.7h0.6M126.2 62.0h0.6M123.4 62.1h0.6M121.5 53.8h0.6M122.6 62.3h0.6M125.2 62.1h0.6M118.7 52.7h0.6M125.3 62.7h0.6M125.1 63.6h0.6M127.1 62.1h0.6M124.1 57.1h0.6M125.4 63.2h0.6M122.8 57.6h0.6M123.7 61.2h0.6M119.6 51.2h0.6M125.5 58.9h0.6M129.9 41.2h0.6M125.6 58.4h0.6M126.2 61.6h0.6M122.1 57.4h0.6M129.5 59.0h0.6M122.7 60.5h0.6M127.6 33.3h0.6M125.4 47.4h0.6M122.1 49.8h0.6M128.3 49.7h0.6M125.1 62.0h0.6M125.7 60.5h0.6M126.5 62.7h0.6M125.0 49.3h0.6M123.9 41.2h0.6M126.5 59.8h0.6M123.8 58.2h0.6M125.3 59.8h0.6M123.0 55.5h0.6M120.5 56.9h0.6M123.0 55.7h0.6M123.6 54.3h0.6M125.1 56.8h0.6M128.8 59.0h0.6M119.9 47.2h0.6M125.5 54.9h0.6M118.2 61.4h0.6M121.9 45.7h0.6M123.5 58.1h0.6M118.1 51.0h0.6M119.3 58.1h0.6M125.6 42.1h0.6M125.3 42.1h0.6M124.7 57.4h0.6M122.6 58.5h0.6M131.8 59.3h0.6M124.6 54.2h0.6M122.4 53.8h0.6M130.3 64.2h0.6M127.0 61.9h0.6M124.0 46.0h0.6M128.8 56.6h0.6M125.6 64.3h0.6M127.1 57.6h0.6M125.8 61.3h0.6M121.9 59.9h0.6M128.1 62.1h0.6M125.6 59.9h0.6M122.0 62.5h0.6M122.7 60.3h0.6M128.1 61.7h0.6M124.0 51.3h0.6M125.2 59.6h0.6M127.1 56.4h0.6M125.5 60.9h0.6M120.4 52.4h0.6M127.1 56.6h0.6M128.0 60.3h0.6M127.8 49.6h0.6M130.1 58.9h0.6M126.2 32.3h0.6M127.5 56.3h0.6M130.0 56.8h0.6M124.2 56.7h0.6M130.5 46.9h0.6M130.5 56.5h0.6M127.5 59.9h0.6M130.8 62.7h0.6M127.7 41.9h0.6M122.4 47.0h0.6M128.6 44.2h0.6M126.1 58.1h0.6M126.4 62.5h0.6M125.6 55.9h0.6M129.3 61.9h0.6M126.8 60.2h0.6M122.9 47.6h0.6M126.6 60.4h0.6M127.4 62.8h0.6M122.9 57.2h0.6M123.8 47.5h0.6M123.9 37.6h0.6M123.2 53.1h0.6M126.2 38.9h0.6M128.3 55.9h0.6M131.0 51.5h0.6M128.8 41.2h0.6M128.3 53.6h0.6M128.6 45.1h0.6M129.2 49.3h0.6M123.9 50.1h0.6M127.3 43.2h0.6M126.1 46.7h0.6M124.7 55.8h0.6M123.7 57.7h0.6M123.5 57.3h0.6M124.3 50.4h0.6M121.3 57.9h0.6M126.7 39.9h0.6M125.0 60.6h0.6M125.4 37.6h0.6M126.1 58.5h0.6M127.3 55.9h0.6M123.3 46.1h0.6M124.8 55.9h0.6M120.1 60.0h0.6M118.2 40.5h0.6M119.1 52.4h0.6M129.9 36.6h0.6M119.4 52.8h0.6M126.6 38.0h0.6M129.7 52.9h0.6M123.7 37.2h0.6M130.2 46.4h0.6M130.8 57.7h0.6M128.0 44.0h0.6M132.5 60.2h0.6M127.0 48.0h0.6M122.8 41.0h0.6M126.7 59.4h0.6M123.7 40.3h0.6M121.1 51.1h0.6M121.2 59.6h0.6M132.3 59.5h0.6M123.4 50.1h0.6M125.0 41.7h0.6M123.1 48.8h0.6M125.6 43.7h0.6M124.4 44.2h0.6M123.9 44.3h0.6M121.4 41.4h0.6M120.8 37.4h0.6M122.8 54.9h0.6M126.0 36.8h0.6M131.6 50.5h0.6M128.4 45.5h0.6M130.8 52.4h0.6M126.6 50.7h0.6M124.9 48.2h0.6M121.0 55.5h0.6M125.2 50.5h0.6M118.5 58.5h0.6M124.2 50.8h0.6M130.2 58.0h0.6M126.2 57.7h0.6M128.7 53.8h0.6M124.0 44.6h0.6M120.9 48.4h0.6M123.7 38.4h0.6M123.9 54.3h0.6M128.9 52.3h0.6M131.3 56.5h0.6M122.9 38.6h0.6M124.1 39.6h0.6M124.7 52.3h0.6M124.1 54.4h0.6M121.3 38.3h0.6M125.5 37.3h0.6M126.3 44.5h0.6M126.4 44.8h0.6M121.4 37.8h0.6M124.8 38.9h0.6M119.8 41.5h0.6M128.0 36.8h0.6M122.0 40.1h0.6M124.3 37.1h0.6M123.8 45.6h0.6M123.4 54.8h0.6M121.9 52.7h0.6M119.7 51.3h0.6M130.6 48.0h0.6M126.0 41.1h0.6M126.0 37.7h0.6M131.7 41.0h0.6M124.9 59.7h0.6M126.9 56.4h0.6M125.3 50.5h0.6M128.9 51.5h0.6M126.8 54.8h0.6M126.2 56.6h0.6M124.4 42.4h0.6M126.1 56.2h0.6M128.8 52.4h0.6M118.8 43.3h0.6M124.8 43.5h0.6M123.9 40.7h0.6M124.3 49.9h0.6M119.1 60.2h0.6M127.5 55.8h0.6M122.6 40.6h0.6M124.5 39.4h0.6M123.6 43.4h0.6M120.0 40.5h0.6M123.8 40.0h0.6M119.5 54.4h0.6M122.3 44.2h0.6M124.2 50.4h0.6M125.2 44.2h0.6M125.4 60.6h0.6M124.8 51.0h0.6M131.8 39.9h0.6M126.6 55.5h0.6M121.4 43.6h0.6M123.3 47.6h0.6M123.2 43.5h0.6M124.7 48.5h0.6M123.3 44.0h0.6M122.6 44.4h0.6M130.3 40.4h0.6M125.3 60.0h0.6M124.2 41.6h0.6M124.4 43.4h0.6M124.5 46.6h0.6M129.5 39.4h0.6M126.7 42.1h0.6M128.7 46.5h0.6M115.5 50.8h0.6M126.2 49.6h0.6M128.5 45.5h0.6M131.3 53.1h0.6M125.3 54.8h0.6M119.9 43.0h0.6M127.0 42.4h0.6M123.4 51.8h0.6M119.7 46.6h0.6M123.3 56.8h0.6M128.5 36.7h0.6M128.9 49.8h0.6M127.4 45.0h0.6M122.0 41.7h0.6M133.0 57.8h0.6M121.6 41.8h0.6M125.0 55.8h0.6M120.7 57.4h0.6M129.3 60.2h0.6M126.6 39.4h0.6M128.0 40.3h0.6M125.5 38.6h0.6M125.0 44.4h0.6M125.8 58.7h0.6M119.4 52.3h0.6M128.3 40.3h0.6M128.1 39.1h0.6M124.0 54.9h0.6M125.2 51.8h0.6M126.2 36.6h0.6M130.1 50.9h0.6M126.6 41.2h0.6M125.4 43.7h0.6M123.6 39.0h0.6M120.6 60.8h0.6M123.4 47.7h0.6M125.5 51.6h0.6M124.5 41.5h0.6M125.5 45.7h0.6M127.5 52.4h0.6M126.6 54.8h0.6M126.1 58.7h0.6M127.3 42.6h0.6M125.8 42.4h0.6M125.1 46.4h0.6M126.7 44.1h0.6M119.9 56.6h0.6M129.1 45.6h0.6M121.2 45.7h0.6M127.8 48.8h0.6M125.3 50.3h0.6M128.7 45.2h0.6M125.4 36.7h0.6M122.3 54.5h0.6M128.6 39.3h0.6M125.8 57.4h0.6M125.6 42.5h0.6" stroke="#111" stroke-width="0.6" stroke-opacity="0.62" fill="none"/>
<path d="M127.6 71.6h0.6M126.8 68.2h0.6M126.5 71.4h0.6M127.8 65.5h0.6M129.1 70.1h0.6M129.0 67.6h0.6M127.4 68.9h0.6M128.8 68.5h0.6M126.7 71.1h0.6M129.8 62.2h0.6M126.3 69.3h0.6M120.8 63.8h0.6M130.0 71.9h0.6M126.7 62.4h0.6M123.2 65.3h0.6M125.9 63.3h0.6M132.1 64.4h0.6M127.7 68.6h0.6M122.2 66.7h0.6M127.9 62.9h0.6M125.3 67.3h0.6M131.6 70.3h0.6M123.6 67.7h0.6M120.3 71.1h0.6M126.6 67.2h0.6M125.5 68.3h0.6M125.3 67.1h0.6M120.6 69.3h0.6M130.9 69.4h0.6M121.2 68.9h0.6M129.6 66.4h0.6M124.9 66.0h0.6M132.7 72.7h0.6M127.6 65.0h0.6M125.9 65.6h0.6M129.4 68.0h0.6M127.8 67.0h0.6M128.3 61.2h0.6M125.0 69.4h0.6M121.6 70.4h0.6M131.9 64.9h0.6M125.5 66.4h0.6M124.8 69.6h0.6M122.2 65.5h0.6M122.7 63.6h0.6M125.1 71.2h0.6M126.6 67.3h0.6M129.4 61.7h0.6M125.1 72.7h0.6M127.7 67.7h0.6M128.0 71.7h0.6M123.5 68.2h0.6M127.0 67.2h0.6M123.9 66.9h0.6M129.3 72.7h0.6M127.6 72.6h0.6M126.4 61.9h0.6M122.8 65.5h0.6M124.3 67.2h0.6M128.3 64.2h0.6M126.1 68.3h0.6M124.2 68.0h0.6M128.9 68.0h0.6M128.3 66.9h0.6M124.8 67.4h0.6M129.5 66.9h0.6M125.6 69.3h0.6M125.6 65.9h0.6M126.7 67.4h0.6M124.4 67.9h0.6M125.2 72.2h0.6M126.0 69.4h0.6M130.5 68.0h0.6M130.4 69.9h0.6M125.7 69.5h0.6M130.7 71.6h0.6M126.3 69.8h0.6M128.8 72.3h0.6M127.2 68.2h0.6M132.9 67.1h0.6M127.1 70.9h0.6M123.2 69.8h0.6M129.9 68.0h0.6M125.3 63.9h0.6M125.6 62.8h0.6M118.3 69.3h0.6M129.1 70.6h0.6M128.6 70.7h0.6M128.6 64.4h0.6M129.0 71.4h0.6M131.0 66.7h0.6M126.3 69.5h0.6M128.9 69.6h0.6M124.4 65.9h0.6M125.4 66.5h0.6M129.3 62.1h0.6M127.5 65.5h0.6M122.8 62.9h0.6M127.4 69.6h0.6M125.9 68.5h0.6M124.2 71.0h0.6M127.6 69.4h0.6M125.3 66.4h0.6M122.2 69.3h0.6M123.4 67.1h0.6M131.2 70.1h0.6M122.3 69.2h0.6M127.0 65.3h0.6M128.0 68.3h0.6M128.1 68.5h0.6M123.1 67.4h0.6M125.5 71.0h0.6M128.6 67.2h0.6M124.7 67.2h0.6M123.3 61.6h0.6M129.1 67.9h0.6M129.4 67.0h0.6M127.4 61.8h0.6M124.8 69.2h0.6M127.5 70.1h0.6M126.7 66.1h0.6M128.7 67.2h0.6M123.0 65.4h0.6M126.7 70.6h0.6M126.0 63.7h0.6M123.4 67.4h0.6M126.5 68.5h0.6M125.3 69.7h0.6M127.5 67.9h0.6M122.6 64.8h0.6M126.3 68.2h0.6M127.6 69.5h0.6M127.2 65.2h0.6M129.3 69.3h0.6M123.2 72.0h0.6M122.3 71.5h0.6M127.0 63.6h0.6M127.6 65.4h0.6M132.1 63.5h0.6M128.1 71.5h0.6M124.0 70.1h0.6M128.6 70.4h0.6M124.1 65.7h0.6M122.4 64.8h0.6M133.4 68.5h0.6M127.3 68.6h0.6M128.3 65.7h0.6M127.9 68.7h0.6M131.3 70.2h0.6M127.2 69.0h0.6M129.7 65.2h0.6M123.6 62.0h0.6M122.6 67.5h0.6M130.3 68.8h0.6M130.4 67.5h0.6M127.8 67.0h0.6M127.0 66.2h0.6M126.8 70.4h0.6M124.5 68.1h0.6M130.6 68.7h0.6M128.2 65.4h0.6M127.8 66.4h0.6M127.4 68.8h0.6M129.2 65.3h0.6M127.8 64.5h0.6M128.4 67.3h0.6M123.2 71.9h0.6M127.8 68.9h0.6M132.3 72.7h0.6M125.0 67.9h0.6M126.1 67.4h0.6M128.8 64.1h0.6M129.0 66.6h0.6M128.1 72.6h0.6M122.0 69.3h0.6M127.8 70.5h0.6M123.2 70.4h0.6M124.2 68.3h0.6M127.9 67.7h0.6M125.6 68.7h0.6M128.6 70.3h0.6M134.9 69.7h0.6M128.5 69.8h0.6M128.4 68.8h0.6M124.0 66.0h0.6M124.7 67.5h0.6M123.5 65.5h0.6M125.0 71.3h0.6M123.5 62.0h0.6M124.6 67.6h0.6M123.7 67.3h0.6M122.6 64.9h0.6M122.7 68.2h0.6M127.6 72.2h0.6M126.6 67.8h0.6M129.2 70.1h0.6M129.2 68.6h0.6M125.5 67.2h0.6M122.5 68.5h0.6M132.6 66.7h0.6M129.6 66.8h0.6M125.8 69.4h0.6M123.3 69.5h0.6M127.4 70.6h0.6M121.4 68.7h0.6M124.3 64.0h0.6M128.4 69.9h0.6M126.6 67.4h0.6M125.1 67.4h0.6M129.0 63.9h0.6M123.6 66.6h0.6M127.2 66.1h0.6M125.1 68.2h0.6M124.1 63.9h0.6M127.7 68.5h0.6M123.7 68.7h0.6M131.5 64.9h0.6M124.8 66.4h0.6M131.8 65.7h0.6M123.4 71.0h0.6M128.0 60.7h0.6M123.2 67.3h0.6M122.8 63.3h0.6M126.8 67.0h0.6M128.2 70.8h0.6M123.0 66.4h0.6M129.6 68.7h0.6M124.2 65.8h0.6M127.4 71.0h0.6M128.0 71.7h0.6M121.5 64.3h0.6M130.8 65.0h0.6M127.9 71.5h0.6M125.3 67.7h0.6M123.6 67.5h0.6M121.8 69.3h0.6M122.7 64.5h0.6M127.9 70.6h0.6M125.5 68.4h0.6M123.3 69.7h0.6M125.0 66.3h0.6M130.6 69.8h0.6M125.5 66.2h0.6M124.8 71.2h0.6M130.0 71.7h0.6M127.6 71.0h0.6M126.5 69.8h0.6M124.8 70.2h0.6M122.2 60.2h0.6M123.2 70.8h0.6M125.1 67.5h0.6M125.8 68.6h0.6M127.4 67.4h0.6M127.9 64.1h0.6M127.0 66.7h0.6M127.0 70.3h0.6M123.7 72.6h0.6M120.6 66.4h0.6M125.0 65.6h0.6M123.8 72.7h0.6M124.6 65.7h0.6M123.0 68.5h0.6M123.4 65.6h0.6M126.1 71.3h0.6M124.6 64.0h0.6M125.8 67.5h0.6M123.6 72.8h0.6M126.5 67.2h0.6M131.5 63.6h0.6M124.6 69.8h0.6M129.5 71.1h0.6M124.2 70.4h0.6M131.8 67.6h0.6M126.7 66.7h0.6M125.7 67.4h0.6M125.8 65.8h0.6M128.0 67.5h0.6M126.5 60.7h0.6M125.9 68.8h0.6M129.9 68.2h0.6M123.6 70.6h0.6M128.5 66.9h0.6M128.3 70.0h0.6M129.4 64.6h0.6M123.5 66.5h0.6M129.3 62.7h0.6M127.7 72.6h0.6M131.2 70.1h0.6M123.0 64.8h0.6M127.0 68.1h0.6M125.7 71.1h0.6M122.1 69.8h0.6M124.5 69.4h0.6M129.4 65.7h0.6M125.1 66.4h0.6M124.4 68.6h0.6M128.7 71.1h0.6M129.1 65.8h0.6M129.1 64.9h0.6M124.3 71.7h0.6M126.2 65.5h0.6M129.2 71.5h0.6M124.6 69.0h0.6M124.4 70.9h0.6M130.6 70.4h0.6M123.3 70.6h0.6M119.4 65.5h0.6M122.5 66.2h0.6M123.7 70.2h0.6M128.1 72.5h0.6M124.5 69.2h0.6M126.8 68.9h0.6M123.8 71.3h0.6M126.3 68.4h0.6M124.7 68.1h0.6M133.6 65.2h0.6M128.6 71.3h0.6M124.1 65.1h0.6M123.7 69.8h0.6M125.2 64.0h0.6M122.0 71.6h0.6M124.4 65.2h0.6M124.4 70.8h0.6M128.8 63.5h0.6M125.2 67.0h0.6M124.3 71.8h0.6M122.8 65.9h0.6M123.2 68.5h0.6M126.2 66.9h0.6M125.8 61.4h0.6M129.5 69.2h0.6M124.7 69.6h0.6M129.3 65.0h0.6M127.1 70.0h0.6M126.4 65.9h0.6M121.0 65.3h0.6M122.9 68.3h0.6M128.4 66.3h0.6M127.0 63.6h0.6M128.5 70.5h0.6M125.3 71.3h0.6M125.4 62.4h0.6M124.6 63.1h0.6M129.0 70.0h0.6M127.3 66.9h0.6M125.8 69.5h0.6M125.5 71.7h0.6M127.9 67.2h0.6M127.3 65.1h0.6M124.2 60.1h0.6M131.0 68.9h0.6M127.1 65.5h0.6M126.4 69.2h0.6M130.4 69.0h0.6M129.2 64.1h0.6M127.8 71.5h0.6M123.5 70.8h0.6M124.7 64.7h0.6M120.3 67.1h0.6M129.7 66.7h0.6M121.3 67.1h0.6M128.2 64.9h0.6M124.2 69.6h0.6M123.8 69.0h0.6M125.9 69.4h0.6M127.1 66.8h0.6M128.1 72.2h0.6M131.2 68.9h0.6M127.4 60.1h0.6M128.8 66.4h0.6M124.8 68.1h0.6M128.3 71.2h0.6M126.8 67.4h0.6M125.1 67.5h0.6M126.1 66.3h0.6M126.2 70.3h0.6M126.9 67.0h0.6M127.5 66.5h0.6M125.0 66.1h0.6M124.4 70.0h0.6M128.4 66.7h0.6M121.8 63.3h0.6M124.7 70.2h0.6M130.6 66.2h0.6M119.1 69.4h0.6M124.5 69.4h0.6M128.3 71.9h0.6M121.9 71.4h0.6M133.4 66.6h0.6M119.4 67.8h0.6M130.3 64.4h0.6M128.9 69.6h0.6M125.8 72.5h0.6M127.4 67.3h0.6M124.0 62.2h0.6M123.4 68.6h0.6M125.7 68.7h0.6M129.1 68.5h0.6M123.4 70.2h0.6M125.4 69.9h0.6M126.8 63.5h0.6M122.8 71.6h0.6M129.5 66.7h0.6M127.3 66.9h0.6M126.3 71.1h0.6M124.3 67.3h0.6M124.6 62.7h0.6M126.6 68.8h0.6M124.5 69.9h0.6M129.0 68.1h0.6M124.5 64.6h0.6M129.1 65.9h0.6M126.3 64.5h0.6M128.7 68.9h0.6M124.9 70.8h0.6M125.0 71.4h0.6M123.3 66.1h0.6M128.0 69.0h0.6M128.9 70.0h0.6M132.1 66.8h0.6M129.9 67.9h0.6M125.8 68.9h0.6M127.4 70.9h0.6M126.3 67.0h0.6M130.4 68.4h0.6M128.9 63.2h0.6M124.1 68.2h0.6M124.5 71.9h0.6M127.2 71.9h0.6M125.8 70.4h0.6M129.6 68.5h0.6M125.4 66.5h0.6M125.6 67.8h0.6M125.2 70.1h0.6M121.1 65.9h0.6M128.7 71.1h0.6M123.1 65.3h0.6M124.9 63.0h0.6M124.4 65.3h0.6M128.4 63.3h0.6M126.2 64.2h0.6M126.4 71.7h0.6M121.9 67.7h0.6M126.2 69.0h0.6M122.4 71.8h0.6M127.2 72.1h0.6M127.4 66.8h0.6M126.4 72.3h0.6M131.9 69.5h0.6M127.8 68.3h0.6M128.0 69.6h0.6M126.8 64.0h0.6M125.9 65.9h0.6M129.0 68.0h0.6M129.4 70.1h0.6M122.9 67.2h0.6M129.2 67.9h0.6M127.8 71.2h0.6M129.0 72.5h0.6M127.7 70.6h0.6M123.0 72.1h0.6M123.2 67.1h0.6M131.3 67.4h0.6M127.1 69.3h0.6M122.6 67.4h0.6M127.3 66.8h0.6M121.4 67.7h0.6M120.2 65.4h0.6M122.1 69.8h0.6M126.3 68.5h0.6M125.7 72.0h0.6M127.2 67.0h0.6M128.0 66.8h0.6M120.7 66.2h0.6M125.6 67.9h0.6M123.1 64.8h0.6M126.1 65.3h0.6M125.7 67.6h0.6M122.5 70.8h0.6M125.1 70.2h0.6M131.8 69.1h0.6M123.6 63.4h0.6M121.8 69.4h0.6M127.1 65.2h0.6M127.7 67.7h0.6M123.4 68.9h0.6M129.1 64.9h0.6M124.3 66.9h0.6M123.3 64.4h0.6M124.8 71.2h0.6M126.1 67.5h0.6M128.3 70.0h0.6M128.1 66.2h0.6M126.3 66.8h0.6M128.9 72.2h0.6M126.6 65.4h0.6M128.8 62.9h0.6M122.6 69.5h0.6M122.1 64.9h0.6M128.5 67.0h0.6M122.6 71.0h0.6M125.6 65.8h0.6M126.1 70.9h0.6M125.1 66.3h0.6M125.2 72.8h0.6M130.2 72.3h0.6M119.6 66.9h0.6M128.8 67.7h0.6M132.6 65.8h0.6M126.5 68.9h0.6M126.3 71.7h0.6M128.4 64.0h0.6M131.3 71.1h0.6M123.2 64.3h0.6M126.6 65.7h0.6M125.9 62.9h0.6M126.8 68.5h0.6M128.2 69.0h0.6M125.3 66.3h0.6M126.5 71.5h0.6M124.6 62.0h0.6M124.6 68.4h0.6M126.0 67.2h0.6M123.2 68.4h0.6M130.6 70.3h0.6M126.0 65.9h0.6M122.7 68.4h0.6M129.4 71.2h0.6M124.4 68.9h0.6M127.8 69.4h0.6M126.4 67.3h0.6M127.1 69.2h0.6M126.9 68.5h0.6M124.8 72.7h0.6M126.5 70.5h0.6M131.9 67.6h0.6M120.4 61.0h0.6M126.6 70.4h0.6M127.6 70.6h0.6M123.6 65.5h0.6M122.7 62.3h0.6M132.2 64.9h0.6M125.4 71.1h0.6M132.0 65.1h0.6M127.8 66.9h0.6M126.6 69.0h0.6M127.7 72.0h0.6M128.1 68.2h0.6M129.6 68.0h0.6M127.6 66.7h0.6M126.9 71.5h0.6M130.1 68.0h0.6M128.6 64.1h0.6M123.7 65.9h0.6M124.7 70.0h0.6M127.3 66.1h0.6M124.7 71.0h0.6M125.4 69.4h0.6M123.8 69.2h0.6M125.7 70.3h0.6M127.5 69.8h0.6M129.1 65.7h0.6M126.4 67.3h0.6M126.2 64.7h0.6M135.0 66.9h0.6M129.1 71.5h0.6M127.7 67.8h0.6M125.1 65.9h0.6M118.8 64.3h0.6M126.0 69.9h0.6M126.9 71.4h0.6M131.6 72.5h0.6M122.7 68.5h0.6M131.5 71.4h0.6M125.7 65.2h0.6M128.4 68.8h0.6M119.5 66.3h0.6M126.8 68.8h0.6M125.5 70.6h0.6M128.2 71.5h0.6M126.6 65.3h0.6M123.3 72.1h0.6M129.0 66.9h0.6M128.3 65.2h0.6M128.0 67.8h0.6M129.1 63.9h0.6M129.4 68.3h0.6M126.3 69.2h0.6M122.7 67.7h0.6M122.7 69.9h0.6M130.0 67.4h0.6M128.3 68.3h0.6M126.7 64.0h0.6M125.2 68.4h0.6M126.5 65.7h0.6M126.5 67.0h0.6M125.5 68.0h0.6M124.5 68.9h0.6M132.2 63.4h0.6M127.0 63.6h0.6M124.8 67.4h0.6M122.9 69.7h0.6M124.4 69.4h0.6M128.3 71.0h0.6M128.4 72.2h0.6M125.8 69.8h0.6M126.5 68.2h0.6M125.6 65.2h0.6M123.4 65.5h0.6M129.9 66.9h0.6M127.4 69.1h0.6M133.1 69.0h0.6M124.4 68.3h0.6M126.0 67.8h0.6M128.8 70.2h0.6M125.7 68.9h0.6M122.7 69.2h0.6M123.8 69.2h0.6M126.7 66.7h0.6M127.3 65.2h0.6M126.1 69.8h0.6M129.1 69.6h0.6M129.1 67.6h0.6M127.3 67.1h0.6M125.7 66.0h0.6M127.9 67.6h0.6M128.9 69.1h0.6M126.6 64.8h0.6M127.6 68.7h0.6M122.6 71.1h0.6M123.7 70.2h0.6M128.5 70.1h0.6M127.6 68.6h0.6M130.7 71.2h0.6M126.6 67.8h0.6M128.7 67.0h0.6M130.0 68.6h0.6M129.1 71.0h0.6M124.8 69.3h0.6M125.9 70.3h0.6M126.8 62.2h0.6M123.7 71.9h0.6M129.2 72.3h0.6M125.1 67.3h0.6M131.7 65.8h0.6M125.6 69.1h0.6M125.9 65.3h0.6M125.8 70.5h0.6M124.5 66.7h0.6M127.5 71.2h0.6M126.5 72.4h0.6M130.9 62.2h0.6M128.0 69.2h0.6M127.9 66.2h0.6M125.8 64.1h0.6M122.6 66.4h0.6M126.2 67.6h0.6M124.1 71.4h0.6M129.0 63.7h0.6M126.3 71.5h0.6M128.4 70.1h0.6M128.7 69.9h0.6M127.0 68.3h0.6M127.0 64.8h0.6M128.2 69.9h0.6M128.9 69.5h0.6M124.5 70.5h0.6M133.5 70.5h0.6M126.2 69.6h0.6M124.5 64.3h0.6M122.5 64.9h0.6M129.6 67.2h0.6M126.6 66.3h0.6M127.2 70.4h0.6M131.4 67.3h0.6M129.2 70.6h0.6M128.1 67.1h0.6M127.5 70.2h0.6M127.7 70.7h0.6M126.3 65.1h0.6M130.7 69.3h0.6M128.1 70.4h0.6M127.3 68.9h0.6M128.8 71.9h0.6M127.6 65.8h0.6M127.3 68.7h0.6M131.1 65.8h0.6M127.8 70.0h0.6M126.2 65.7h0.6M124.1 71.1h0.6M125.5 69.5h0.6M123.6 71.2h0.6M126.7 67.9h0.6M127.1 63.9h0.6M126.5 67.8h0.6M128.2 72.4h0.6M126.9 69.6h0.6M123.8 70.3h0.6M124.5 69.3h0.6M123.1 72.5h0.6M123.5 63.8h0.6M126.4 70.9h0.6M129.1 67.6h0.6M129.6 67.9h0.6M127.0 68.3h0.6M123.2 69.3h0.6M124.0 62.7h0.6M125.9 68.4h0.6M121.6 66.2h0.6M126.7 71.8h0.6M128.1 67.0h0.6M126.0 69.7h0.6M127.6 67.1h0.6M123.9 70.3h0.6M122.5 71.3h0.6M124.7 67.1h0.6M129.5 68.4h0.6M129.2 64.0h0.6M125.2 69.2h0.6M129.7 70.9h0.6M125.5 66.6h0.6M130.5 71.7h0.6M127.7 62.1h0.6M125.2 62.7h0.6M128.5 64.1h0.6M124.3 66.8h0.6M123.9 68.4h0.6M122.5 68.1h0.6M127.1 68.1h0.6M126.3 70.5h0.6M126.2 66.9h0.6M125.3 64.5h0.6M130.3 64.6h0.6M124.4 61.2h0.6M129.8 67.8h0.6M130.2 72.7h0.6M127.3 69.8h0.6M121.7 65.8h0.6M124.8 68.3h0.6M128.1 70.9h0.6M126.4 71.9h0.6M130.6 65.6h0.6M122.7 70.6h0.6M128.2 69.1h0.6M124.7 71.6h0.6M130.0 72.5h0.6M126.2 67.3h0.6M129.2 64.0h0.6M124.7 69.5h0.6M123.4 70.4h0.6M124.8 69.0h0.6M129.6 65.2h0.6M130.0 71.0h0.6M127.1 66.6h0.6M123.6 68.4h0.6M126.1 68.6h0.6M130.3 65.5h0.6M127.3 66.7h0.6M127.7 63.5h0.6M125.3 69.8h0.6M121.0 66.9h0.6M124.3 69.6h0.6M123.4 65.1h0.6M127.4 67.2h0.6M126.7 71.4h0.6M124.2 67.8h0.6M125.4 70.2h0.6M130.6 69.9h0.6M123.8 67.2h0.6M123.9 63.6h0.6M125.8 71.3h0.6M124.5 68.8h0.6M125.2 71.2h0.6M127.8 62.3h0.6M131.1 63.3h0.6M121.6 61.9h0.6M126.4 65.7h0.6M126.5 71.4h0.6M126.2 70.0h0.6M125.9 68.2h0.6M125.5 68.7h0.6M129.1 70.6h0.6M125.1 67.4h0.6M126.1 69.5h0.6M126.4 68.7h0.6M126.7 61.7h0.6M125.9 67.1h0.6M129.1 72.4h0.6M126.4 67.1h0.6M126.9 67.9h0.6M126.3 66.5h0.6M123.7 66.8h0.6M124.2 71.7h0.6M123.6 67.5h0.6M126.9 65.2h0.6M124.5 59.0h0.6M123.5 66.6h0.6M127.0 62.4h0.6M127.8 62.8h0.6M121.6 70.7h0.6M131.0 70.4h0.6M126.5 62.5h0.6M126.1 70.9h0.6M129.3 69.7h0.6M126.6 65.9h0.6M124.8 70.5h0.6M132.3 63.4h0.6M123.5 64.7h0.6M126.1 64.0h0.6M128.7 65.0h0.6M123.5 70.9h0.6M126.1 64.3h0.6M127.4 64.8h0.6M132.9 65.4h0.6M124.0 68.9h0.6M126.3 67.3h0.6M128.2 70.9h0.6M126.6 66.2h0.6M123.2 64.4h0.6M127.5 66.8h0.6M126.7 68.4h0.6M127.6 65.5h0.6M129.5 69.1h0.6M127.5 66.5h0.6M127.2 68.4h0.6M123.4 72.3h0.6M126.0 66.3h0.6M127.0 65.7h0.6M125.3 65.0h0.6M126.7 69.5h0.6M124.2 69.8h0.6M130.5 67.8h0.6M132.2 68.4h0.6M125.3 72.1h0.6M127.5 70.8h0.6M125.8 64.0h0.6M129.8 68.2h0.6M127.6 68.6h0.6M126.6 70.4h0.6M125.8 67.6h0.6M126.7 66.3h0.6M123.7 66.9h0.6M128.2 62.9h0.6M124.5 68.1h0.6M127.8 66.4h0.6M126.8 69.6h0.6" stroke="#000" stroke-width="0.6" stroke-opacity="0.6" fill="none"/>
<rect x="174.2" y="20.1" width="61.5" height="53.3" fill="none" stroke="#5a5a5a" stroke-width="0.8"/>
<path d="M173.3 24.5h0.9M179.3 74.3v-0.9M173.3 29.0h0.9M184.4 74.3v-0.9M173.3 33.4h0.9M189.6 74.3v-0.9M173.3 37.9h0.9M194.7 74.3v-0.9M173.3 42.3h0.9M199.8 74.3v-0.9M173.3 46.8h0.9M204.9 74.3v-0.9M173.3 51.2h0.9M210.1 74.3v-0.9M173.3 55.6h0.9M215.2 74.3v-0.9M173.3 60.1h0.9M220.3 74.3v-0.9M173.3 64.5h0.9M225.4 74.3v-0.9M173.3 69.0h0.9M230.6 74.3v-0.9" stroke="#222" stroke-width="0.8" fill="none"/>
<rect x="190.2" y="29.9" width="20" height="29.1" fill="none" stroke="#868686" stroke-width="0.65"/>
<text x="215.3" y="48.7" font-size="8.5" font-weight="700" stroke="#111" stroke-width="0.22" text-anchor="start">11.5</text>
<path d="M197.8 70.3h0.6M201.4 72.3h0.6M205.8 69.7h0.6M197.1 72.1h0.6M198.5 66.6h0.6M194.9 63.4h0.6M198.9 69.4h0.6M199.1 71.1h0.6M197.9 69.3h0.6M196.7 67.9h0.6M193.5 71.0h0.6M195.8 69.9h0.6M201.8 68.5h0.6M197.5 68.2h0.6M201.8 70.0h0.6M201.5 71.4h0.6M196.6 72.8h0.6M197.1 72.5h0.6M201.8 68.1h0.6M200.8 72.2h0.6M196.3 72.0h0.6M200.3 71.2h0.6M199.3 72.3h0.6M203.5 68.9h0.6M196.2 69.9h0.6M202.7 68.9h0.6M201.0 71.8h0.6M195.7 68.7h0.6M203.3 71.0h0.6M202.8 67.7h0.6M194.5 69.8h0.6M206.8 69.3h0.6M195.1 69.8h0.6M196.0 70.4h0.6M198.2 69.7h0.6M202.3 69.6h0.6M201.6 65.5h0.6M199.0 72.5h0.6M204.5 68.7h0.6M200.9 69.6h0.6M204.6 68.3h0.6M209.9 72.3h0.6M200.1 68.1h0.6M189.8 71.2h0.6M197.7 72.7h0.6M199.7 72.7h0.6M199.8 71.5h0.6M194.8 67.5h0.6M198.4 72.7h0.6M198.7 71.9h0.6M189.6 71.9h0.6M203.0 70.3h0.6M199.5 69.0h0.6M199.4 72.5h0.6M195.6 67.8h0.6M199.2 72.1h0.6M203.3 70.7h0.6M203.5 72.1h0.6M201.1 70.7h0.6M198.3 72.6h0.6M196.3 72.4h0.6M204.4 72.1h0.6M201.4 67.1h0.6M197.8 71.9h0.6M191.2 70.2h0.6M196.1 67.7h0.6M192.1 71.7h0.6M204.1 67.1h0.6M200.1 72.1h0.6M198.4 69.0h0.6M209.3 72.1h0.6M204.0 71.1h0.6M194.3 71.6h0.6M198.9 67.2h0.6M194.7 71.5h0.6M192.8 70.4h0.6M200.1 71.8h0.6M208.6 70.2h0.6M205.3 72.5h0.6M199.6 70.7h0.6M198.0 71.6h0.6M203.3 70.6h0.6M193.8 72.3h0.6M192.3 70.7h0.6M206.6 71.3h0.6M200.5 69.0h0.6M205.5 71.8h0.6M205.1 70.0h0.6M197.1 71.9h0.6M201.3 71.1h0.6M205.4 67.8h0.6M203.3 70.9h0.6M202.8 69.1h0.6M196.8 66.3h0.6M193.9 70.6h0.6M201.4 68.8h0.6M202.7 70.1h0.6M194.6 70.2h0.6M202.7 68.8h0.6M202.0 70.7h0.6M197.6 69.0h0.6M189.8 68.2h0.6M203.3 70.0h0.6M202.8 68.4h0.6M192.7 67.7h0.6M193.6 70.0h0.6M203.3 68.7h0.6M202.5 67.2h0.6M198.4 65.6h0.6M197.3 67.1h0.6M198.2 70.4h0.6M200.4 65.6h0.6M197.8 67.2h0.6M202.2 70.6h0.6M196.3 69.0h0.6M206.5 70.1h0.6M195.0 68.1h0.6M201.1 70.4h0.6M204.4 69.4h0.6M190.8 70.5h0.6M203.3 72.8h0.6M205.0 68.9h0.6M190.8 70.8h0.6M196.8 69.0h0.6M199.0 68.8h0.6M197.7 69.3h0.6M204.6 68.8h0.6M196.8 66.4h0.6M204.2 65.9h0.6M201.6 68.6h0.6M193.7 70.5h0.6M195.5 72.8h0.6M197.6 69.0h0.6M198.7 63.1h0.6M200.8 63.7h0.6M201.0 57.5h0.6M198.8 60.1h0.6M199.0 60.4h0.6M203.9 63.0h0.6M198.2 58.3h0.6M197.8 59.8h0.6M195.0 59.0h0.6M200.2 57.9h0.6M198.4 61.5h0.6M204.0 59.2h0.6M198.2 61.6h0.6M201.2 59.3h0.6M201.5 64.2h0.6M203.3 58.4h0.6M195.8 64.1h0.6M203.1 63.1h0.6M199.1 58.8h0.6M198.8 60.7h0.6M198.3 60.7h0.6M198.1 61.4h0.6M198.2 63.2h0.6M193.2 57.6h0.6M200.4 58.9h0.6M199.3 63.4h0.6M196.7 58.3h0.6M198.9 64.7h0.6M204.9 60.6h0.6M200.1 57.8h0.6M198.1 64.0h0.6M203.4 59.6h0.6M197.1 66.0h0.6M198.7 65.3h0.6M197.7 65.0h0.6M198.5 65.0h0.6M200.9 58.1h0.6M200.6 57.7h0.6M197.2 60.9h0.6M198.8 61.1h0.6M199.3 61.0h0.6M198.1 62.6h0.6M199.0 64.2h0.6M197.3 64.2h0.6M197.2 65.4h0.6M199.2 63.3h0.6M196.5 65.0h0.6M200.1 58.3h0.6M198.6 57.7h0.6M196.7 61.3h0.6M197.5 65.0h0.6M197.9 60.8h0.6M198.7 58.4h0.6M199.4 58.6h0.6M198.6 59.4h0.6M196.9 64.8h0.6M202.7 60.4h0.6M201.4 64.8h0.6M199.4 65.5h0.6M201.5 64.1h0.6M199.9 65.3h0.6M198.4 59.7h0.6M199.3 59.2h0.6M205.8 59.6h0.6M201.6 57.7h0.6M201.7 65.4h0.6M198.1 59.3h0.6M200.6 62.9h0.6M204.8 59.9h0.6M200.2 62.1h0.6M201.8 61.2h0.6M202.3 63.6h0.6M200.7 59.2h0.6M203.1 60.0h0.6M199.7 58.7h0.6M200.3 60.3h0.6M197.5 64.6h0.6M205.7 65.7h0.6M199.8 57.6h0.6M199.4 64.7h0.6M202.6 63.7h0.6M197.8 58.2h0.6M199.1 58.9h0.6M197.1 64.9h0.6M199.1 59.2h0.6M198.1 65.2h0.6M200.4 62.1h0.6M198.8 65.9h0.6M197.6 61.8h0.6M198.3 58.6h0.6M198.8 62.7h0.6M197.8 61.3h0.6M201.4 58.1h0.6M200.8 64.5h0.6M199.4 65.1h0.6M196.1 65.7h0.6M200.4 63.0h0.6M195.9 62.5h0.6M199.5 59.2h0.6M199.2 65.7h0.6M197.6 63.7h0.6M197.0 63.2h0.6M197.3 63.4h0.6M204.2 64.7h0.6M198.4 60.4h0.6M198.6 58.5h0.6M201.5 65.9h0.6M200.1 57.8h0.6M201.7 59.8h0.6M196.0 61.7h0.6M196.3 57.8h0.6M207.4 60.1h0.6M199.0 64.9h0.6M198.3 62.8h0.6M199.5 62.5h0.6M201.6 57.7h0.6M196.1 61.1h0.6M199.8 58.5h0.6M199.0 60.8h0.6M200.8 60.8h0.6M199.5 61.1h0.6M197.7 60.2h0.6M196.9 64.1h0.6M193.0 61.4h0.6M201.5 65.2h0.6M195.4 60.4h0.6M198.1 58.7h0.6M203.2 60.5h0.6M198.0 64.9h0.6M200.6 60.6h0.6M198.8 62.7h0.6M194.5 57.0h0.6M194.5 62.6h0.6M197.3 61.5h0.6M198.3 63.1h0.6M194.2 59.8h0.6M194.7 64.9h0.6M199.7 62.0h0.6M201.2 62.6h0.6M196.3 63.5h0.6M195.8 59.0h0.6M195.7 62.5h0.6M205.7 59.2h0.6M199.5 63.4h0.6M197.8 61.0h0.6M201.1 53.7h0.6M205.1 56.4h0.6M201.6 60.8h0.6M193.6 63.8h0.6M197.7 61.5h0.6M196.7 53.0h0.6M196.9 55.0h0.6M194.2 64.7h0.6M196.8 58.1h0.6M194.6 63.1h0.6M199.0 49.5h0.6M198.1 58.5h0.6M193.6 51.5h0.6M192.7 48.8h0.6M196.5 57.5h0.6M200.0 56.7h0.6M199.5 52.8h0.6M197.8 61.6h0.6M187.7 60.8h0.6M196.4 58.1h0.6M195.7 55.1h0.6M196.9 61.3h0.6M194.2 60.3h0.6M196.6 42.2h0.6M195.9 57.5h0.6M206.4 50.5h0.6M200.2 62.6h0.6M197.4 51.6h0.6M197.8 49.2h0.6M198.6 60.7h0.6M196.7 61.9h0.6M197.9 57.8h0.6M201.2 57.6h0.6M200.6 61.7h0.6M198.9 49.5h0.6M202.1 58.8h0.6M198.7 57.9h0.6M194.9 51.8h0.6M192.5 57.2h0.6M195.8 56.7h0.6M197.8 64.6h0.6M199.2 55.1h0.6M201.3 56.5h0.6M196.2 59.5h0.6M195.5 52.0h0.6M200.4 51.8h0.6M201.6 62.0h0.6M196.5 48.0h0.6M199.0 62.7h0.6M202.3 56.7h0.6M199.0 42.1h0.6M197.8 53.5h0.6M191.5 61.9h0.6M202.1 59.0h0.6M200.0 62.1h0.6M198.4 50.4h0.6M196.5 59.7h0.6M194.1 56.3h0.6M197.7 59.4h0.6M197.6 53.6h0.6M201.4 55.8h0.6M194.2 55.8h0.6M202.5 56.9h0.6M198.1 62.4h0.6M201.7 50.3h0.6M195.0 52.3h0.6M199.1 63.5h0.6M201.8 63.3h0.6M198.3 59.0h0.6M193.4 53.2h0.6M196.9 63.3h0.6M199.6 53.3h0.6M193.6 52.2h0.6M193.5 50.3h0.6M198.7 59.0h0.6M195.0 52.8h0.6M200.1 60.3h0.6M194.3 60.0h0.6M192.3 56.9h0.6M195.6 58.6h0.6M202.6 57.1h0.6M195.3 49.1h0.6M198.0 55.5h0.6M198.7 58.7h0.6M195.0 61.1h0.6M201.4 64.8h0.6M198.5 49.3h0.6M199.4 54.9h0.6M192.8 56.5h0.6M192.5 59.4h0.6M189.4 64.8h0.6M197.4 58.9h0.6M197.3 53.9h0.6M200.2 57.0h0.6M202.6 60.2h0.6M197.2 60.4h0.6M197.1 37.1h0.6M199.4 60.6h0.6M202.7 56.2h0.6M195.4 61.4h0.6M199.9 41.0h0.6M197.2 63.7h0.6M196.9 61.8h0.6M200.5 54.7h0.6M195.5 63.9h0.6M194.7 54.3h0.6M200.1 60.6h0.6M197.9 58.5h0.6M197.2 57.7h0.6M197.6 51.4h0.6M199.5 62.4h0.6M196.8 48.7h0.6M200.4 59.0h0.6M199.3 63.8h0.6M202.6 63.5h0.6M201.9 64.8h0.6M200.6 60.8h0.6M197.4 55.9h0.6M198.4 49.6h0.6M196.1 53.2h0.6M206.8 59.1h0.6M197.3 36.2h0.6M199.7 53.2h0.6M202.2 60.3h0.6M193.8 60.1h0.6M195.4 37.4h0.6M196.8 56.0h0.6M194.9 61.3h0.6M194.1 60.0h0.6M196.4 61.7h0.6M202.0 63.0h0.6M200.2 63.5h0.6M198.1 63.2h0.6M198.1 60.3h0.6M192.8 49.2h0.6M200.2 64.3h0.6M199.3 60.3h0.6M194.6 57.8h0.6M198.6 39.5h0.6M197.4 40.4h0.6M196.4 61.1h0.6M194.9 47.7h0.6M195.9 57.3h0.6M195.1 63.1h0.6M199.4 62.4h0.6M199.1 59.8h0.6M199.0 44.4h0.6M197.4 57.4h0.6M196.7 47.3h0.6M204.3 40.7h0.6M192.2 37.6h0.6M201.7 53.9h0.6M199.1 45.0h0.6M198.2 60.4h0.6M196.4 41.8h0.6M197.3 59.9h0.6M194.3 55.0h0.6M193.7 55.2h0.6M197.7 51.4h0.6M192.9 58.2h0.6M200.6 42.2h0.6M201.5 57.8h0.6M187.3 58.1h0.6M193.2 51.4h0.6M198.9 52.7h0.6M198.7 42.1h0.6M198.4 48.5h0.6M199.3 50.9h0.6M200.3 44.2h0.6M200.7 37.5h0.6M203.6 59.8h0.6M198.1 56.2h0.6M200.7 45.4h0.6M193.0 49.5h0.6M197.6 51.0h0.6M194.2 60.0h0.6M202.3 50.2h0.6M205.3 54.2h0.6M199.7 56.2h0.6M194.0 39.0h0.6M197.7 50.8h0.6M198.1 59.3h0.6M198.6 56.7h0.6M201.4 59.1h0.6M201.0 40.5h0.6M189.8 55.6h0.6M202.3 43.3h0.6M196.5 58.0h0.6M196.3 55.7h0.6M202.4 45.7h0.6M197.2 50.7h0.6M193.8 48.0h0.6M193.9 59.6h0.6M198.2 50.1h0.6M200.8 38.4h0.6M202.7 49.6h0.6M197.5 37.0h0.6M196.6 39.8h0.6M203.1 48.5h0.6M196.6 47.8h0.6M202.5 38.2h0.6M198.8 44.8h0.6M198.8 43.5h0.6M197.3 43.5h0.6M198.9 47.4h0.6M196.6 37.3h0.6M195.9 37.3h0.6M197.6 42.3h0.6M196.0 54.0h0.6M199.0 59.4h0.6M198.3 55.0h0.6M197.2 38.4h0.6M197.4 56.7h0.6M197.3 56.6h0.6M203.4 57.2h0.6M198.0 54.3h0.6M196.2 42.9h0.6M197.1 48.6h0.6M200.1 47.3h0.6M197.4 37.4h0.6M197.6 49.7h0.6M197.2 43.0h0.6M198.5 59.8h0.6M199.2 52.8h0.6M199.4 56.3h0.6M193.0 37.3h0.6M194.7 53.9h0.6M189.9 56.2h0.6M200.5 47.8h0.6M201.5 42.7h0.6M202.1 48.4h0.6M198.5 50.0h0.6M201.6 47.1h0.6M197.9 44.3h0.6M197.7 52.9h0.6M193.3 58.3h0.6M195.6 43.1h0.6M196.2 58.1h0.6M200.9 37.8h0.6M203.2 53.4h0.6M196.6 44.9h0.6M199.2 49.4h0.6M198.9 45.2h0.6M195.6 38.5h0.6M192.7 40.6h0.6M195.7 60.7h0.6M193.6 46.7h0.6M197.0 59.8h0.6M197.6 49.2h0.6M197.5 58.5h0.6M197.5 47.4h0.6M199.5 60.8h0.6M195.1 48.2h0.6M200.8 42.8h0.6M192.8 40.8h0.6M198.2 38.3h0.6M199.2 39.2h0.6M195.6 53.2h0.6M193.1 45.4h0.6M200.0 57.9h0.6M195.9 41.3h0.6M200.4 59.4h0.6M200.4 41.2h0.6M198.0 43.1h0.6M198.0 44.8h0.6M201.1 42.9h0.6M199.2 46.7h0.6M195.1 56.2h0.6M198.5 38.2h0.6M199.7 42.5h0.6M198.6 37.8h0.6M198.6 55.5h0.6M197.6 39.4h0.6M197.6 49.0h0.6M195.1 57.8h0.6M193.6 44.2h0.6M201.5 39.3h0.6M196.0 43.0h0.6M198.7 59.5h0.6M193.4 38.8h0.6M198.5 57.7h0.6M195.5 39.5h0.6M207.2 40.5h0.6M194.9 55.4h0.6" stroke="#111" stroke-width="0.6" stroke-opacity="0.62" fill="none"/>
<path d="M199.8 64.2h0.6M202.2 71.3h0.6M201.7 68.5h0.6M200.2 69.4h0.6M195.3 69.2h0.6M198.4 72.7h0.6M199.8 64.6h0.6M204.4 71.4h0.6M200.6 65.8h0.6M199.3 70.4h0.6M202.8 72.2h0.6M199.2 64.1h0.6M199.5 69.4h0.6M200.0 67.4h0.6M195.5 67.3h0.6M202.1 68.3h0.6M200.7 65.1h0.6M198.8 65.3h0.6M196.5 70.1h0.6M200.1 70.7h0.6M203.3 66.5h0.6M197.8 63.9h0.6M200.7 71.5h0.6M195.2 69.3h0.6M193.6 65.1h0.6M198.4 66.5h0.6M197.7 68.9h0.6M198.8 65.4h0.6M200.4 68.6h0.6M199.0 69.4h0.6M197.9 65.1h0.6M198.3 65.5h0.6M201.3 65.9h0.6M202.1 69.0h0.6M202.0 67.4h0.6M201.4 67.3h0.6M190.7 69.1h0.6M196.9 68.9h0.6M198.7 72.6h0.6M200.1 67.6h0.6M195.2 65.2h0.6M203.4 68.2h0.6M200.4 72.5h0.6M197.9 66.6h0.6M200.0 68.3h0.6M198.6 67.1h0.6M197.5 69.4h0.6M200.9 69.0h0.6M198.3 65.8h0.6M195.8 67.5h0.6M197.8 71.0h0.6M199.3 71.4h0.6M196.6 70.9h0.6M203.0 70.7h0.6M196.6 67.2h0.6M204.3 67.1h0.6M202.0 70.9h0.6M197.0 64.7h0.6M199.9 68.0h0.6M202.8 62.7h0.6M199.1 67.1h0.6M196.3 66.1h0.6M199.9 64.6h0.6M204.9 69.9h0.6M195.5 66.0h0.6M201.1 67.1h0.6M199.6 67.4h0.6M199.3 66.0h0.6M198.5 72.4h0.6M198.7 66.7h0.6M202.4 68.8h0.6M201.2 64.4h0.6M196.9 66.8h0.6M203.8 67.2h0.6M196.1 67.3h0.6M201.4 66.5h0.6M200.1 68.6h0.6M202.8 72.8h0.6M200.5 67.8h0.6M202.4 67.8h0.6M199.5 67.1h0.6M205.4 69.8h0.6M197.7 70.3h0.6M202.8 66.1h0.6M200.8 67.8h0.6M200.1 68.8h0.6M198.1 68.6h0.6M200.8 65.7h0.6M195.6 65.9h0.6M195.9 69.7h0.6M201.5 69.1h0.6M195.4 62.0h0.6M203.5 68.5h0.6M198.9 71.9h0.6M200.3 66.3h0.6M199.8 68.9h0.6M200.7 63.9h0.6M198.8 70.7h0.6M198.6 64.9h0.6M199.3 64.5h0.6M202.4 67.3h0.6M203.0 66.4h0.6M200.6 64.5h0.6M199.1 69.6h0.6M195.1 68.9h0.6M201.9 64.5h0.6M198.5 63.5h0.6M201.8 67.3h0.6M203.1 69.3h0.6M199.9 69.3h0.6M202.5 71.4h0.6M200.4 63.8h0.6M194.9 65.8h0.6M198.3 67.8h0.6M198.5 70.7h0.6M201.0 69.6h0.6M197.3 67.0h0.6M198.4 65.2h0.6M197.0 70.8h0.6M199.5 71.0h0.6M202.2 67.7h0.6M200.1 64.7h0.6M200.3 66.6h0.6M199.9 66.2h0.6M199.9 66.8h0.6M203.8 65.6h0.6M192.9 66.6h0.6M199.1 68.1h0.6M200.5 66.9h0.6M202.7 70.2h0.6M196.7 68.0h0.6M200.5 68.2h0.6M201.9 72.5h0.6M198.4 69.1h0.6M194.5 68.7h0.6M198.6 68.2h0.6M196.4 68.4h0.6M201.4 69.9h0.6M197.3 65.9h0.6M204.4 71.6h0.6M197.4 71.6h0.6M198.2 66.8h0.6M196.7 63.5h0.6M200.7 66.9h0.6M203.6 68.7h0.6M199.0 70.6h0.6M202.1 67.7h0.6M197.1 67.3h0.6M200.4 72.7h0.6M205.8 66.2h0.6M195.8 71.3h0.6M202.9 70.9h0.6M202.8 64.3h0.6M194.5 69.0h0.6M195.7 66.6h0.6M197.0 65.4h0.6M202.2 62.8h0.6M198.4 63.6h0.6M199.2 69.4h0.6M201.5 67.1h0.6M199.9 69.0h0.6M200.2 65.1h0.6M198.7 67.3h0.6M202.6 67.4h0.6M197.5 63.7h0.6M204.1 63.3h0.6M198.7 69.5h0.6M197.5 68.6h0.6M201.4 65.5h0.6M200.8 67.9h0.6M194.3 70.2h0.6M196.0 65.6h0.6M197.4 70.0h0.6M197.3 68.4h0.6M200.6 72.5h0.6M198.6 60.6h0.6M204.8 72.5h0.6M199.3 68.2h0.6M196.4 62.7h0.6M196.6 70.5h0.6M197.1 71.3h0.6M199.9 71.8h0.6M199.6 71.7h0.6M202.2 68.1h0.6M200.0 66.0h0.6M199.9 66.9h0.6M200.5 68.1h0.6M199.2 69.4h0.6M200.4 66.8h0.6M201.7 68.4h0.6M201.7 70.8h0.6M198.1 69.2h0.6M200.3 64.8h0.6M192.9 66.5h0.6M198.3 64.4h0.6M200.8 64.8h0.6M198.0 69.8h0.6M196.6 65.3h0.6M204.3 65.1h0.6M203.3 67.4h0.6M198.9 70.6h0.6M203.1 67.2h0.6M203.1 67.2h0.6M196.5 70.9h0.6M206.8 69.6h0.6M197.0 69.6h0.6M198.8 71.0h0.6M196.6 65.2h0.6M199.8 68.8h0.6M196.0 66.3h0.6M199.5 71.2h0.6M202.5 70.6h0.6M200.1 65.1h0.6M198.8 72.2h0.6M203.7 64.8h0.6M197.1 71.7h0.6M202.2 68.8h0.6M198.7 65.6h0.6M200.1 64.9h0.6M199.6 67.3h0.6M199.9 68.1h0.6M199.4 66.1h0.6M197.4 69.9h0.6M198.0 64.1h0.6M200.7 68.2h0.6M199.2 68.2h0.6M196.4 62.7h0.6M197.6 69.1h0.6M197.7 64.5h0.6M199.4 60.8h0.6M200.0 66.4h0.6M199.8 67.5h0.6M197.8 70.9h0.6M199.6 66.8h0.6M195.8 72.6h0.6M191.7 72.5h0.6M199.4 71.4h0.6M195.0 72.1h0.6M197.0 69.2h0.6M196.2 66.6h0.6M201.2 70.1h0.6M196.2 71.1h0.6M200.2 68.9h0.6M198.2 67.5h0.6M196.2 63.6h0.6M195.2 70.2h0.6M200.7 69.2h0.6M200.5 64.4h0.6M201.6 68.5h0.6M204.4 70.3h0.6M200.2 67.9h0.6M200.2 70.5h0.6M199.1 70.4h0.6M199.7 63.8h0.6M198.5 67.3h0.6M197.0 69.6h0.6M204.8 70.9h0.6M194.4 72.4h0.6M200.1 62.5h0.6M200.6 68.0h0.6M199.8 70.3h0.6M196.8 71.8h0.6M198.2 65.4h0.6M196.5 67.1h0.6M199.3 65.1h0.6M198.3 70.6h0.6M197.9 64.3h0.6M201.3 71.7h0.6M196.6 71.0h0.6M200.6 69.7h0.6M197.8 61.8h0.6M200.6 66.2h0.6M199.6 70.4h0.6M200.1 64.0h0.6M196.8 67.5h0.6M197.3 67.9h0.6M197.1 70.8h0.6M199.9 69.0h0.6M201.4 69.0h0.6M202.3 66.9h0.6M198.0 68.2h0.6M199.6 67.8h0.6M195.0 70.4h0.6M193.4 67.7h0.6M197.0 71.3h0.6M197.6 63.2h0.6M195.2 71.8h0.6M194.6 67.7h0.6M200.8 71.6h0.6M197.2 68.5h0.6M194.8 70.7h0.6M205.6 72.6h0.6M199.8 66.6h0.6M198.5 68.4h0.6M201.2 67.7h0.6M197.3 68.8h0.6M203.6 63.4h0.6M195.2 67.7h0.6M195.8 67.5h0.6M199.0 65.9h0.6M197.3 67.6h0.6M203.1 63.6h0.6M195.0 72.3h0.6M197.4 69.5h0.6M200.8 65.6h0.6M202.0 64.7h0.6M200.3 69.0h0.6M205.3 63.3h0.6M198.0 68.9h0.6M199.8 66.1h0.6M201.6 67.2h0.6M198.5 69.0h0.6M198.5 68.3h0.6M197.6 70.1h0.6M196.3 64.4h0.6M197.8 71.1h0.6M195.1 64.2h0.6M200.3 68.5h0.6M195.0 64.5h0.6M204.9 65.7h0.6M203.9 72.1h0.6M202.3 66.5h0.6M198.7 66.3h0.6M197.7 66.5h0.6M202.6 67.3h0.6M199.8 72.5h0.6M200.8 64.7h0.6M197.3 64.5h0.6M202.1 69.9h0.6M197.1 63.5h0.6M199.6 67.1h0.6M194.6 71.5h0.6M197.5 68.2h0.6M200.6 66.8h0.6M198.1 66.1h0.6M198.1 65.5h0.6M201.4 66.4h0.6M199.1 68.6h0.6M202.6 71.9h0.6M192.8 71.0h0.6M200.8 66.5h0.6M200.6 66.0h0.6M195.1 70.2h0.6M195.8 62.8h0.6M201.6 66.9h0.6M196.4 67.2h0.6M197.5 64.9h0.6M200.9 65.2h0.6M198.4 69.2h0.6M200.5 63.3h0.6M196.9 65.4h0.6M200.1 66.2h0.6M202.2 68.4h0.6M200.1 64.1h0.6M193.4 71.4h0.6M201.0 67.2h0.6M199.4 67.4h0.6M196.8 67.1h0.6M203.0 66.1h0.6M194.6 65.2h0.6M204.3 71.5h0.6M197.6 68.7h0.6M203.5 67.8h0.6M199.1 71.1h0.6M195.7 66.0h0.6M199.5 70.0h0.6M200.1 68.2h0.6M200.7 65.5h0.6M202.1 70.4h0.6M196.8 63.7h0.6M200.6 70.0h0.6M201.2 65.5h0.6M198.5 69.3h0.6M196.7 72.2h0.6M196.7 69.8h0.6M201.3 66.3h0.6M201.4 68.0h0.6M197.0 67.0h0.6M195.7 64.6h0.6M202.6 64.8h0.6M195.1 68.2h0.6M199.7 69.7h0.6M197.1 62.9h0.6M194.5 67.9h0.6M199.6 69.6h0.6M198.7 68.4h0.6M203.1 65.1h0.6M205.4 71.1h0.6M198.7 64.5h0.6M202.0 70.0h0.6M202.1 72.8h0.6M197.8 62.0h0.6M196.9 68.8h0.6M203.6 69.0h0.6M198.3 68.7h0.6M199.2 65.8h0.6M198.5 67.1h0.6M198.9 63.9h0.6M197.6 68.4h0.6M201.3 69.6h0.6M202.6 66.1h0.6M198.2 65.3h0.6M195.5 66.6h0.6M199.4 68.0h0.6M195.3 68.2h0.6M197.5 67.7h0.6M202.6 68.2h0.6M205.5 64.2h0.6M200.3 60.0h0.6M196.4 69.8h0.6M201.3 72.2h0.6M193.2 63.8h0.6M197.4 66.1h0.6M203.3 68.9h0.6M201.3 70.8h0.6M195.5 69.9h0.6M194.8 71.8h0.6M201.5 67.9h0.6M199.1 69.2h0.6M197.7 69.2h0.6M200.4 66.7h0.6M197.7 71.5h0.6M194.1 69.8h0.6M201.4 70.9h0.6M197.5 66.9h0.6M196.6 71.0h0.6M195.7 64.9h0.6M199.9 69.2h0.6M197.1 60.3h0.6M200.9 65.0h0.6M198.5 70.2h0.6M202.2 66.7h0.6M198.2 68.5h0.6M197.5 63.2h0.6M194.0 72.6h0.6M196.3 69.8h0.6M201.2 67.9h0.6M207.5 69.2h0.6M195.9 69.0h0.6M196.5 72.2h0.6M200.2 68.6h0.6M200.5 63.7h0.6M197.4 67.3h0.6M199.5 71.8h0.6M194.9 69.7h0.6M198.5 66.8h0.6M201.7 69.8h0.6M203.6 68.3h0.6M198.8 69.8h0.6M198.6 63.3h0.6M200.5 65.4h0.6M202.2 70.0h0.6M200.6 67.3h0.6M197.2 69.0h0.6M201.9 67.1h0.6M197.3 68.7h0.6M195.7 66.4h0.6M200.6 66.2h0.6M200.2 67.8h0.6M201.8 63.7h0.6M199.5 61.8h0.6M197.5 72.0h0.6M198.1 67.7h0.6M196.5 71.3h0.6M196.7 68.4h0.6M197.7 68.4h0.6M198.0 70.0h0.6M202.3 70.1h0.6M196.0 64.5h0.6M199.1 71.5h0.6M197.7 65.2h0.6M203.3 68.6h0.6M198.3 68.2h0.6M199.4 67.0h0.6M198.0 69.8h0.6M203.4 68.2h0.6M201.2 69.2h0.6M203.9 65.5h0.6M202.4 65.3h0.6M201.4 69.0h0.6M199.6 63.4h0.6M196.4 65.5h0.6M201.2 69.9h0.6M199.5 66.2h0.6M201.1 65.4h0.6M199.3 64.8h0.6M197.4 68.4h0.6M196.6 66.9h0.6M201.2 68.4h0.6M202.7 67.5h0.6M200.5 66.7h0.6M203.0 62.3h0.6M197.0 68.3h0.6M198.4 68.0h0.6M196.3 68.5h0.6M202.4 63.3h0.6M200.0 71.3h0.6M198.0 67.9h0.6M194.8 67.9h0.6M198.8 63.4h0.6M202.0 69.4h0.6M198.5 67.8h0.6M198.2 72.0h0.6M201.0 66.8h0.6M196.0 64.4h0.6M199.4 68.4h0.6M200.9 65.3h0.6M197.2 69.2h0.6M197.1 64.8h0.6M200.0 67.6h0.6M199.0 67.3h0.6M198.7 67.9h0.6M199.9 66.5h0.6M199.9 65.6h0.6M196.8 67.8h0.6M197.5 66.3h0.6M200.5 68.5h0.6M202.3 67.2h0.6M202.9 61.5h0.6M197.0 67.8h0.6M202.2 72.1h0.6M201.3 68.9h0.6M199.2 69.8h0.6M200.6 69.3h0.6M201.5 66.6h0.6M204.1 64.1h0.6M196.5 70.4h0.6M200.9 71.1h0.6M198.9 69.7h0.6M198.8 69.2h0.6M202.4 69.2h0.6M201.5 67.9h0.6M196.6 68.8h0.6M198.6 68.0h0.6M199.9 69.0h0.6M195.5 65.3h0.6M201.6 66.2h0.6M199.1 69.7h0.6M199.7 67.0h0.6M200.2 61.0h0.6M204.1 68.4h0.6M199.4 61.4h0.6M204.0 70.1h0.6M198.0 70.0h0.6M197.9 66.1h0.6M195.6 64.7h0.6M202.2 67.4h0.6M200.0 68.1h0.6M200.6 65.8h0.6M199.8 68.5h0.6M199.0 70.0h0.6M197.2 69.7h0.6M197.2 65.0h0.6M200.5 61.8h0.6M199.7 68.0h0.6M203.7 66.1h0.6M197.3 69.3h0.6M198.0 72.8h0.6M196.6 72.8h0.6M203.0 68.9h0.6M196.0 71.2h0.6M201.4 72.8h0.6M203.2 68.2h0.6M198.9 68.8h0.6M201.3 70.5h0.6M193.6 67.9h0.6M198.3 66.6h0.6M194.9 65.9h0.6M199.8 68.1h0.6M199.4 66.3h0.6M197.3 70.3h0.6M201.8 67.1h0.6M200.3 72.2h0.6M197.9 71.5h0.6M198.0 64.5h0.6M195.4 71.2h0.6M198.8 66.9h0.6M205.0 72.0h0.6M197.4 69.5h0.6M200.5 67.9h0.6M197.9 70.0h0.6M201.5 66.5h0.6M200.5 69.0h0.6M198.7 69.2h0.6M194.6 67.6h0.6M198.0 69.2h0.6M202.5 65.2h0.6M198.7 69.7h0.6M201.0 64.6h0.6M198.0 69.9h0.6M194.4 69.4h0.6M200.5 70.1h0.6M200.2 66.5h0.6M198.3 67.4h0.6M200.1 68.5h0.6M197.8 65.9h0.6M200.3 72.2h0.6M198.8 66.8h0.6M193.0 70.9h0.6M198.9 65.4h0.6M197.7 69.0h0.6M197.1 67.1h0.6M200.4 70.8h0.6M198.0 67.3h0.6M200.8 65.7h0.6M202.3 69.4h0.6M199.7 64.7h0.6M195.2 65.4h0.6M197.4 70.3h0.6M201.8 62.8h0.6M198.6 70.3h0.6M197.2 67.0h0.6M199.1 65.5h0.6M200.7 68.8h0.6M200.0 69.9h0.6M201.1 66.5h0.6M197.1 67.6h0.6M198.6 70.4h0.6M198.7 70.3h0.6M199.3 68.0h0.6M193.8 66.0h0.6M198.7 65.5h0.6M195.8 66.5h0.6M203.1 70.1h0.6M203.5 69.8h0.6M203.8 69.0h0.6M201.5 72.1h0.6M198.1 67.3h0.6M201.9 67.1h0.6M198.8 67.1h0.6M196.9 62.4h0.6M197.8 69.0h0.6M200.6 69.5h0.6M204.1 68.4h0.6M205.4 71.5h0.6M206.7 70.4h0.6M195.9 65.7h0.6M199.3 69.6h0.6M196.8 67.2h0.6M199.0 68.3h0.6M197.9 68.8h0.6M199.2 66.9h0.6M201.9 70.0h0.6M200.0 71.2h0.6M199.4 68.8h0.6M199.7 62.8h0.6M199.7 71.3h0.6M200.9 71.3h0.6M199.4 67.7h0.6M200.7 66.9h0.6M195.9 70.1h0.6M201.5 66.0h0.6M204.0 70.5h0.6M199.8 65.2h0.6M195.6 65.7h0.6M203.0 68.3h0.6M198.5 64.1h0.6M191.4 68.3h0.6M198.8 69.8h0.6M201.0 64.5h0.6M200.4 70.9h0.6M202.7 66.7h0.6M201.0 69.8h0.6M199.7 68.9h0.6M194.1 67.0h0.6M196.4 66.8h0.6M199.8 63.5h0.6M201.2 66.3h0.6M196.6 66.1h0.6M200.6 71.1h0.6M194.3 64.4h0.6M194.2 70.5h0.6M198.8 68.9h0.6M200.0 67.2h0.6M198.1 69.6h0.6M193.2 70.5h0.6M199.4 66.7h0.6M195.8 67.5h0.6M201.1 68.7h0.6M199.1 65.5h0.6M200.1 68.8h0.6M201.1 68.1h0.6M198.0 66.4h0.6M201.6 65.9h0.6M202.7 69.1h0.6M200.4 70.7h0.6M202.9 69.2h0.6M197.7 65.9h0.6M201.8 70.4h0.6M200.1 68.8h0.6M196.7 70.0h0.6M199.2 71.6h0.6M198.0 65.8h0.6M197.9 67.9h0.6M199.6 66.6h0.6M202.2 65.8h0.6M199.7 70.9h0.6M195.4 63.3h0.6M199.7 69.5h0.6M202.5 66.7h0.6M201.5 71.5h0.6M200.6 68.5h0.6M198.0 67.8h0.6M196.8 68.7h0.6M199.1 69.4h0.6M195.8 68.4h0.6M196.1 67.7h0.6M201.9 67.9h0.6M196.9 69.7h0.6M204.2 65.1h0.6M195.5 68.3h0.6M200.5 68.0h0.6M196.2 66.9h0.6M199.8 70.4h0.6M196.6 64.7h0.6M199.5 67.3h0.6M199.0 65.9h0.6M198.2 69.8h0.6M200.7 67.0h0.6M203.4 68.4h0.6M197.8 69.4h0.6M201.7 63.8h0.6M199.6 69.6h0.6M199.3 66.2h0.6M205.2 67.6h0.6M193.6 68.0h0.6M197.5 70.6h0.6M194.5 70.4h0.6M198.8 68.8h0.6M209.6 67.0h0.6M200.3 66.9h0.6M204.2 70.1h0.6M202.8 72.8h0.6M198.2 69.3h0.6M200.7 66.7h0.6M203.8 69.1h0.6M199.8 69.0h0.6M199.9 68.4h0.6M200.7 66.2h0.6M195.3 61.2h0.6M197.2 66.8h0.6M200.3 71.2h0.6M200.8 68.9h0.6M196.9 62.1h0.6M198.5 68.3h0.6M199.0 63.1h0.6M201.2 68.8h0.6M199.7 64.9h0.6M199.8 70.5h0.6M195.6 66.1h0.6M196.5 69.9h0.6M200.2 68.4h0.6M195.1 65.0h0.6M200.1 70.2h0.6M197.6 64.5h0.6M197.2 72.1h0.6M201.1 68.5h0.6M197.5 65.4h0.6M197.1 63.2h0.6M199.5 72.4h0.6M206.7 64.8h0.6M199.3 68.8h0.6M198.7 67.7h0.6M201.9 68.1h0.6M198.4 67.5h0.6M192.7 72.3h0.6M202.9 68.7h0.6M196.4 63.1h0.6M195.7 70.8h0.6M196.4 65.2h0.6M198.0 67.3h0.6M201.6 65.8h0.6M201.6 68.4h0.6M197.7 69.4h0.6M200.7 69.0h0.6M198.3 66.6h0.6M199.6 66.1h0.6M199.8 70.7h0.6M201.0 68.0h0.6M199.0 66.0h0.6M199.9 70.5h0.6M199.6 68.4h0.6M197.2 66.2h0.6M203.9 72.1h0.6M198.1 68.6h0.6M201.4 65.8h0.6M199.9 67.4h0.6M202.6 71.2h0.6M193.5 64.9h0.6M204.8 72.2h0.6M198.8 70.2h0.6M196.0 67.5h0.6M199.7 72.1h0.6M200.7 70.0h0.6M196.0 68.8h0.6M202.9 72.5h0.6M195.6 65.7h0.6M198.8 67.7h0.6M198.5 67.7h0.6M205.1 67.1h0.6M198.5 64.1h0.6M202.8 70.8h0.6M197.5 68.5h0.6M197.2 68.6h0.6M202.0 72.3h0.6M201.0 66.7h0.6M194.7 68.1h0.6M201.0 69.1h0.6M201.0 67.1h0.6M197.7 68.0h0.6M199.9 70.5h0.6M200.0 68.3h0.6M198.0 72.0h0.6M197.7 66.2h0.6M197.5 68.9h0.6M198.6 64.3h0.6M195.7 68.0h0.6M199.2 66.3h0.6M195.3 72.1h0.6M199.5 70.4h0.6M199.1 69.7h0.6M201.6 72.4h0.6M204.5 70.3h0.6M202.9 66.4h0.6M195.6 64.2h0.6M202.7 68.2h0.6M199.9 67.3h0.6M199.2 66.5h0.6M197.7 67.5h0.6M199.3 63.6h0.6M203.0 72.5h0.6M200.8 65.1h0.6M198.2 66.4h0.6M197.5 69.9h0.6M198.2 63.7h0.6M200.9 70.9h0.6M204.3 71.0h0.6M196.5 67.4h0.6M199.3 65.3h0.6M198.3 67.0h0.6M197.3 63.1h0.6M200.4 72.2h0.6M200.8 68.5h0.6M195.5 66.2h0.6M196.5 65.7h0.6M202.5 69.9h0.6M200.2 72.6h0.6M200.7 64.7h0.6M198.0 66.7h0.6M198.3 63.3h0.6M200.5 70.2h0.6M198.0 68.7h0.6M199.3 68.0h0.6M201.7 67.1h0.6M196.5 66.3h0.6M202.1 70.7h0.6M201.2 63.7h0.6M197.0 70.4h0.6M199.3 69.0h0.6M199.2 66.9h0.6M201.0 65.7h0.6M201.1 71.3h0.6" stroke="#000" stroke-width="0.6" stroke-opacity="0.6" fill="none"/>
<rect x="245.9" y="20.1" width="61.2" height="53.3" fill="none" stroke="#5a5a5a" stroke-width="0.8"/>
<path d="M245.0 24.5h0.9M251.0 74.3v-0.9M245.0 29.0h0.9M256.1 74.3v-0.9M245.0 33.4h0.9M261.2 74.3v-0.9M245.0 37.9h0.9M266.3 74.3v-0.9M245.0 42.3h0.9M271.4 74.3v-0.9M245.0 46.8h0.9M276.5 74.3v-0.9M245.0 51.2h0.9M281.6 74.3v-0.9M245.0 55.6h0.9M286.7 74.3v-0.9M245.0 60.1h0.9M291.8 74.3v-0.9M245.0 64.5h0.9M296.9 74.3v-0.9M245.0 69.0h0.9M302.0 74.3v-0.9" stroke="#222" stroke-width="0.8" fill="none"/>
<rect x="262.0" y="29.9" width="20" height="29.1" fill="none" stroke="#868686" stroke-width="0.65"/>
<text x="287.2" y="48.7" font-size="8.5" font-weight="700" stroke="#111" stroke-width="0.22" text-anchor="start">5.9</text>
<path d="M269.9 68.3h0.6M272.2 68.7h0.6M272.6 68.1h0.6M276.0 68.3h0.6M267.4 65.1h0.6M277.1 67.7h0.6M269.0 67.5h0.6M271.3 72.8h0.6M269.5 67.4h0.6M277.0 71.8h0.6M267.7 69.7h0.6M267.6 71.9h0.6M274.8 70.9h0.6M271.0 68.5h0.6M278.1 66.3h0.6M277.2 68.1h0.6M273.5 70.1h0.6M271.7 69.3h0.6M273.7 68.5h0.6M265.6 72.2h0.6M271.4 67.8h0.6M271.3 72.1h0.6M268.9 69.1h0.6M271.7 70.4h0.6M265.0 67.7h0.6M274.2 70.1h0.6M275.7 68.4h0.6M265.7 66.3h0.6M271.3 70.1h0.6M276.7 70.0h0.6M272.3 71.9h0.6M266.7 70.7h0.6M266.9 67.9h0.6M274.0 68.8h0.6M277.8 64.7h0.6M266.5 67.7h0.6M269.6 71.8h0.6M271.9 70.8h0.6M270.5 71.4h0.6M268.0 71.2h0.6M278.8 66.4h0.6M270.1 68.2h0.6M270.0 72.7h0.6M275.0 72.7h0.6M270.7 70.6h0.6M269.9 69.4h0.6M274.4 69.3h0.6M266.7 68.9h0.6M273.6 68.1h0.6M274.7 65.9h0.6M273.2 70.4h0.6M270.0 69.1h0.6M270.6 69.6h0.6M270.2 71.4h0.6M271.8 68.6h0.6M274.0 71.4h0.6M271.2 66.8h0.6M269.2 72.4h0.6M267.4 70.7h0.6M270.5 69.7h0.6M271.2 71.4h0.6M270.7 69.1h0.6M268.7 68.0h0.6M268.8 70.1h0.6M262.1 68.6h0.6M264.5 70.9h0.6M266.1 68.7h0.6M272.5 71.5h0.6M270.4 69.5h0.6M271.2 68.7h0.6M266.6 70.8h0.6M275.1 65.7h0.6M272.2 69.6h0.6M267.9 68.1h0.6M276.4 67.5h0.6M265.2 68.8h0.6M266.3 69.1h0.6M269.9 70.2h0.6M272.2 68.4h0.6M269.9 66.1h0.6M262.4 68.9h0.6M269.5 72.0h0.6M270.3 67.1h0.6M280.5 71.5h0.6M276.0 71.1h0.6M271.1 69.1h0.6M266.5 70.8h0.6M272.0 68.5h0.6M266.2 69.2h0.6M271.4 67.9h0.6M272.1 71.1h0.6M271.6 68.6h0.6M269.4 72.7h0.6M268.5 65.4h0.6M276.6 68.2h0.6M272.9 67.9h0.6M267.7 68.8h0.6M271.3 71.8h0.6M272.8 65.6h0.6M273.9 70.4h0.6M276.3 71.3h0.6M272.4 70.0h0.6M266.4 64.1h0.6M278.5 70.5h0.6M275.1 71.9h0.6M275.8 71.0h0.6M264.9 66.4h0.6M269.2 69.6h0.6M268.7 72.1h0.6M275.2 68.3h0.6M266.1 71.3h0.6M269.4 69.1h0.6M276.5 70.3h0.6M273.2 71.8h0.6M269.2 68.5h0.6M265.5 70.4h0.6M272.4 70.9h0.6M269.8 68.5h0.6M272.6 70.2h0.6M269.6 69.5h0.6M267.4 66.9h0.6M271.5 66.7h0.6M265.6 70.7h0.6M272.7 69.9h0.6M269.4 64.3h0.6M274.2 65.4h0.6M268.9 69.4h0.6M268.1 69.9h0.6M272.2 71.4h0.6M275.4 67.4h0.6M262.7 71.4h0.6M271.1 69.4h0.6M273.1 69.0h0.6M265.2 69.8h0.6M267.3 72.3h0.6M273.1 71.3h0.6M272.5 60.2h0.6M268.4 62.6h0.6M269.5 58.6h0.6M267.2 64.0h0.6M268.8 63.3h0.6M269.2 64.3h0.6M269.0 59.5h0.6M272.1 62.1h0.6M271.3 64.8h0.6M272.2 61.2h0.6M270.5 62.3h0.6M273.0 61.0h0.6M270.5 63.8h0.6M272.7 62.8h0.6M271.5 63.9h0.6M272.1 65.7h0.6M270.0 64.1h0.6M267.0 62.4h0.6M266.4 59.7h0.6M275.3 61.9h0.6M271.2 65.5h0.6M271.4 65.9h0.6M269.8 58.5h0.6M269.0 63.2h0.6M277.7 57.7h0.6M267.3 58.4h0.6M270.0 60.7h0.6M270.1 58.3h0.6M267.3 63.0h0.6M266.9 61.7h0.6M268.4 60.8h0.6M269.3 64.7h0.6M268.9 60.5h0.6M272.3 59.6h0.6M267.1 59.9h0.6M271.3 57.7h0.6M274.0 63.6h0.6M272.5 63.0h0.6M267.2 61.0h0.6M262.5 64.4h0.6M272.4 60.3h0.6M271.5 59.3h0.6M268.7 57.8h0.6M273.5 59.0h0.6M269.1 61.3h0.6M270.5 60.3h0.6M267.5 61.3h0.6M271.0 58.0h0.6M269.1 57.7h0.6M268.9 63.2h0.6M273.0 61.0h0.6M270.8 64.2h0.6M266.3 64.7h0.6M272.0 60.6h0.6M272.4 61.4h0.6M268.0 64.0h0.6M269.2 58.6h0.6M270.3 64.3h0.6M269.6 60.6h0.6M270.5 59.6h0.6M271.9 61.5h0.6M268.9 63.0h0.6M275.6 64.6h0.6M268.3 64.5h0.6M268.8 57.8h0.6M275.3 58.9h0.6M276.4 60.4h0.6M270.3 58.0h0.6M269.7 61.3h0.6M267.4 61.3h0.6M273.2 61.9h0.6M270.7 60.5h0.6M268.0 59.5h0.6M271.3 62.5h0.6M273.8 58.0h0.6M272.0 57.8h0.6M275.9 63.8h0.6M273.2 59.1h0.6M271.3 58.9h0.6M270.1 59.6h0.6M271.6 62.4h0.6M273.4 59.5h0.6M272.4 63.1h0.6M272.9 62.9h0.6M270.8 60.9h0.6M272.2 65.4h0.6M273.4 63.9h0.6M269.8 58.7h0.6M266.8 59.4h0.6M274.7 58.4h0.6M271.7 63.6h0.6M269.1 59.1h0.6M270.8 61.3h0.6M269.6 58.3h0.6M265.8 65.0h0.6M269.7 63.8h0.6M266.5 63.2h0.6M270.7 63.4h0.6M269.9 60.6h0.6M273.1 59.1h0.6M269.9 57.7h0.6M271.2 61.0h0.6M269.4 65.2h0.6M269.2 57.7h0.6M266.6 59.1h0.6M272.8 62.0h0.6M270.6 58.1h0.6M268.7 60.0h0.6M270.7 63.9h0.6M269.1 59.3h0.6M268.3 60.1h0.6M270.8 59.9h0.6M273.4 59.2h0.6M269.5 64.4h0.6M266.5 65.6h0.6M268.6 62.5h0.6M274.9 59.7h0.6M268.1 59.6h0.6M273.3 63.4h0.6M269.6 63.6h0.6M272.1 64.4h0.6M269.9 58.7h0.6M266.1 59.2h0.6M269.1 60.4h0.6M275.7 61.1h0.6M269.9 64.4h0.6M271.7 58.2h0.6M269.3 60.0h0.6M269.9 58.5h0.6M271.0 64.3h0.6M271.1 63.2h0.6M262.8 51.4h0.6M263.6 61.5h0.6M270.8 62.3h0.6M269.7 55.7h0.6M268.3 60.7h0.6M271.2 50.6h0.6M275.5 59.8h0.6M270.4 62.5h0.6M263.7 61.9h0.6M268.8 60.1h0.6M265.2 65.0h0.6M266.8 62.5h0.6M270.3 60.3h0.6M268.8 57.5h0.6M266.0 60.3h0.6M269.2 57.0h0.6M266.8 62.3h0.6M270.9 62.4h0.6M268.5 64.5h0.6M270.5 44.1h0.6M268.5 53.4h0.6M271.6 59.3h0.6M268.9 60.0h0.6M269.2 63.4h0.6M267.5 63.8h0.6M269.7 58.6h0.6M263.8 61.5h0.6M277.5 60.3h0.6M267.2 59.3h0.6M269.6 64.3h0.6M267.8 55.9h0.6M267.8 62.0h0.6M270.5 51.9h0.6M267.7 62.9h0.6M267.9 53.8h0.6M265.0 54.7h0.6M266.4 60.9h0.6M265.6 62.3h0.6M274.8 58.6h0.6M265.1 60.0h0.6M265.9 60.6h0.6M269.9 63.1h0.6M273.7 64.8h0.6M264.0 63.9h0.6M264.5 63.7h0.6M269.6 61.6h0.6M270.3 60.8h0.6M264.9 57.5h0.6M263.7 59.9h0.6M266.3 62.1h0.6M271.6 61.4h0.6M269.1 50.6h0.6M271.6 56.8h0.6M268.9 59.3h0.6M269.1 50.2h0.6M271.1 58.6h0.6M268.9 54.2h0.6M270.0 58.9h0.6M266.4 55.1h0.6M267.4 56.0h0.6M270.7 64.7h0.6M268.5 53.4h0.6M266.9 63.5h0.6M271.3 40.0h0.6M270.9 60.3h0.6M269.2 41.9h0.6M266.9 48.0h0.6M272.0 40.3h0.6M277.0 48.5h0.6M266.7 56.6h0.6M264.5 42.6h0.6M266.8 54.0h0.6M266.3 45.2h0.6M265.3 39.6h0.6M265.6 56.4h0.6M271.9 44.9h0.6M271.9 52.2h0.6M273.8 59.8h0.6M271.5 54.2h0.6" stroke="#111" stroke-width="0.6" stroke-opacity="0.62" fill="none"/>
<path d="M267.9 65.1h0.6M273.1 70.9h0.6M273.6 61.8h0.6M271.2 63.5h0.6M272.9 66.5h0.6M267.2 66.4h0.6M272.4 70.7h0.6M269.1 70.8h0.6M267.8 69.6h0.6M269.6 70.1h0.6M269.3 69.9h0.6M266.8 68.2h0.6M276.5 62.5h0.6M269.3 61.2h0.6M268.5 61.2h0.6M272.8 68.3h0.6M270.3 67.7h0.6M274.1 68.0h0.6M269.8 69.1h0.6M271.5 67.7h0.6M270.8 65.3h0.6M271.0 63.7h0.6M270.0 62.5h0.6M270.2 72.2h0.6M275.0 71.3h0.6M268.7 64.2h0.6M269.1 67.6h0.6M269.6 69.8h0.6M271.6 66.5h0.6M273.0 69.0h0.6M266.9 72.0h0.6M271.2 63.0h0.6M270.0 66.1h0.6M269.8 68.3h0.6M271.0 66.1h0.6M271.3 71.1h0.6M270.9 69.0h0.6M266.7 65.4h0.6M270.3 71.1h0.6M274.7 70.4h0.6M269.5 66.8h0.6M272.1 67.0h0.6M269.9 63.8h0.6M268.3 68.2h0.6M268.1 71.1h0.6M269.5 71.5h0.6M274.0 70.2h0.6M272.7 71.0h0.6M268.6 66.5h0.6M273.2 66.9h0.6M270.2 72.2h0.6M268.7 69.8h0.6M271.7 65.9h0.6M268.1 70.0h0.6M266.3 71.0h0.6M274.0 70.6h0.6M265.6 68.7h0.6M272.0 66.8h0.6M266.4 69.6h0.6M270.0 68.8h0.6M269.3 66.3h0.6M264.7 69.4h0.6M270.2 64.5h0.6M270.4 69.1h0.6M268.1 67.4h0.6M270.3 71.4h0.6M273.2 68.7h0.6M268.6 71.7h0.6M267.5 67.7h0.6M271.5 65.8h0.6M272.2 69.8h0.6M277.1 68.1h0.6M272.9 68.8h0.6M271.7 66.5h0.6M274.3 70.1h0.6M267.9 68.6h0.6M273.4 61.6h0.6M269.1 67.6h0.6M268.9 69.4h0.6M273.5 72.1h0.6M271.2 66.6h0.6M274.1 65.9h0.6M266.7 72.0h0.6M271.3 66.5h0.6M269.1 68.7h0.6M269.8 69.8h0.6M265.5 70.7h0.6M273.0 68.4h0.6M271.1 64.9h0.6M267.9 71.5h0.6M267.0 67.0h0.6M268.2 66.7h0.6M270.3 71.1h0.6M269.7 65.1h0.6M271.9 66.9h0.6M270.6 67.6h0.6M271.2 66.0h0.6M272.5 62.4h0.6M271.4 70.9h0.6M272.9 70.8h0.6M267.4 69.1h0.6M270.7 67.1h0.6M269.6 69.0h0.6M270.8 70.4h0.6M270.5 65.1h0.6M268.9 67.3h0.6M269.6 66.6h0.6M273.1 70.5h0.6M269.1 69.2h0.6M267.3 64.3h0.6M272.1 66.4h0.6M269.9 65.3h0.6M270.9 68.8h0.6M268.4 66.4h0.6M270.0 72.2h0.6M273.5 68.2h0.6M272.7 67.0h0.6M271.0 64.7h0.6M269.9 67.6h0.6M266.3 70.9h0.6M271.4 70.4h0.6M271.8 64.2h0.6M275.9 67.6h0.6M271.6 65.1h0.6M273.1 68.7h0.6M267.6 66.4h0.6M273.8 66.5h0.6M272.9 66.4h0.6M274.2 68.1h0.6M272.4 66.8h0.6M271.8 63.0h0.6M274.5 70.0h0.6M268.8 66.7h0.6M272.3 72.1h0.6M273.5 70.0h0.6M268.5 70.3h0.6M267.6 68.9h0.6M271.8 72.4h0.6M270.9 67.3h0.6M272.2 65.3h0.6M272.3 69.4h0.6M268.6 59.9h0.6M271.5 67.2h0.6M273.6 69.0h0.6M269.7 67.0h0.6M269.9 72.2h0.6M267.7 70.5h0.6M272.8 68.7h0.6M275.8 67.1h0.6M267.0 71.7h0.6M272.6 66.2h0.6M273.0 67.0h0.6M269.2 70.6h0.6M269.7 70.2h0.6M268.6 67.7h0.6M271.1 62.5h0.6M272.4 70.4h0.6M270.9 72.2h0.6M272.9 67.8h0.6M274.5 66.3h0.6M273.8 66.8h0.6M268.8 64.4h0.6M275.3 70.0h0.6M271.9 70.5h0.6M271.0 70.2h0.6M275.7 64.5h0.6M264.1 66.0h0.6M266.4 63.9h0.6M272.5 63.3h0.6M270.0 64.1h0.6M268.2 63.4h0.6M274.6 67.8h0.6M271.9 69.6h0.6M267.3 70.2h0.6M268.9 68.2h0.6M272.9 66.2h0.6M275.4 68.3h0.6M265.4 70.1h0.6M271.3 67.4h0.6M269.7 68.5h0.6M266.1 67.4h0.6M270.2 66.7h0.6M266.5 68.4h0.6M269.3 64.9h0.6M274.9 71.6h0.6M272.0 63.5h0.6M272.7 69.7h0.6M272.3 64.1h0.6M273.2 71.0h0.6M267.6 65.8h0.6M269.7 66.9h0.6M272.9 64.8h0.6M268.8 68.1h0.6M269.5 69.6h0.6M274.7 64.1h0.6M269.1 72.1h0.6M268.5 66.5h0.6M272.2 69.2h0.6M271.4 71.0h0.6M268.9 70.0h0.6M272.3 69.6h0.6M272.2 67.7h0.6M270.9 68.3h0.6M278.4 68.8h0.6M274.3 72.0h0.6M272.8 63.8h0.6M273.4 66.8h0.6M278.5 64.5h0.6M273.6 65.3h0.6M268.8 65.8h0.6M271.6 71.7h0.6M269.2 72.5h0.6M271.4 64.6h0.6M271.4 68.5h0.6M270.6 64.8h0.6M269.4 69.7h0.6M272.9 72.2h0.6M266.5 70.1h0.6M272.9 71.0h0.6M270.7 67.8h0.6M271.4 62.2h0.6M264.4 62.2h0.6M275.1 68.0h0.6M266.1 70.1h0.6M268.4 72.2h0.6M272.4 67.2h0.6M269.1 68.5h0.6M269.6 69.1h0.6M264.8 71.6h0.6M269.6 68.1h0.6M271.3 64.9h0.6M272.5 71.6h0.6M270.0 69.6h0.6M271.3 69.5h0.6M271.9 64.4h0.6M268.9 68.3h0.6M268.7 63.0h0.6M275.9 62.1h0.6M268.5 67.6h0.6M274.0 67.0h0.6M270.9 70.0h0.6M274.6 72.7h0.6M269.0 68.2h0.6M271.6 66.5h0.6M270.1 70.6h0.6M271.5 64.4h0.6M268.7 68.7h0.6M270.5 67.3h0.6M269.7 67.7h0.6M272.7 70.1h0.6M270.5 62.5h0.6M267.0 68.7h0.6M269.7 65.8h0.6M270.5 68.7h0.6M268.3 69.5h0.6M274.2 67.2h0.6M271.8 67.2h0.6M273.0 64.7h0.6M268.7 70.0h0.6M269.7 66.2h0.6M273.4 69.7h0.6M266.9 63.9h0.6M271.7 72.5h0.6M271.0 65.2h0.6M269.4 71.9h0.6M271.0 66.9h0.6M267.9 70.0h0.6M271.3 67.9h0.6M267.5 70.4h0.6M267.3 68.3h0.6M274.4 72.2h0.6M268.9 70.4h0.6M265.1 70.4h0.6M268.7 66.2h0.6M261.4 72.3h0.6M270.6 68.5h0.6M273.2 63.7h0.6M271.7 69.8h0.6M275.3 67.7h0.6M272.3 66.8h0.6M268.1 68.5h0.6M271.2 69.0h0.6M274.8 62.4h0.6M272.1 69.9h0.6M271.2 65.2h0.6M265.5 72.6h0.6M267.3 68.3h0.6M272.8 63.4h0.6M268.8 68.9h0.6M271.7 68.8h0.6M268.1 70.5h0.6M275.7 67.4h0.6M267.6 64.6h0.6M271.1 67.9h0.6M277.7 65.5h0.6M268.4 66.1h0.6M272.4 66.3h0.6M273.4 68.2h0.6M273.0 64.5h0.6M265.5 66.9h0.6M271.3 67.9h0.6M265.1 66.8h0.6M275.8 67.5h0.6M270.9 72.1h0.6M269.5 69.6h0.6M272.5 64.2h0.6M272.0 67.0h0.6M267.6 70.6h0.6M275.1 66.3h0.6M270.1 68.6h0.6M266.0 68.2h0.6M274.5 69.9h0.6M274.8 67.7h0.6M274.1 67.9h0.6M272.2 65.7h0.6M268.4 69.4h0.6M273.2 65.4h0.6M272.9 68.2h0.6M275.0 67.6h0.6M268.7 70.7h0.6M273.5 68.0h0.6M273.2 68.6h0.6M266.8 68.1h0.6M266.4 66.1h0.6M268.8 65.5h0.6M271.0 66.1h0.6M271.9 71.8h0.6M270.1 66.4h0.6M270.6 67.1h0.6M270.4 66.9h0.6M271.0 70.4h0.6M272.1 65.5h0.6M270.6 70.0h0.6M271.4 68.7h0.6M269.5 67.4h0.6M272.9 69.9h0.6M269.4 64.4h0.6M275.1 70.9h0.6M270.7 69.0h0.6M271.5 65.2h0.6M269.8 70.9h0.6M271.2 71.9h0.6M270.8 63.8h0.6M269.1 67.5h0.6M267.6 66.7h0.6M270.9 70.2h0.6M271.2 72.5h0.6M272.2 62.4h0.6M274.1 68.4h0.6M269.9 67.9h0.6M265.4 71.4h0.6M270.4 68.2h0.6M265.8 64.4h0.6M267.3 67.7h0.6M273.5 65.1h0.6M272.3 65.9h0.6M269.0 68.4h0.6M269.0 66.8h0.6M270.5 69.2h0.6M266.0 63.6h0.6M269.8 72.2h0.6M275.7 70.5h0.6M267.9 64.3h0.6M273.4 61.7h0.6M268.9 65.7h0.6M273.5 67.6h0.6M272.7 72.3h0.6M269.6 66.7h0.6M268.5 72.0h0.6M270.3 72.1h0.6M272.0 68.3h0.6M271.8 72.0h0.6M275.0 69.3h0.6M273.0 66.3h0.6M263.7 64.7h0.6M269.7 67.9h0.6M265.4 71.4h0.6M269.7 64.1h0.6M272.4 63.4h0.6M267.2 70.0h0.6M267.6 60.0h0.6M270.0 67.0h0.6M275.0 70.5h0.6M272.2 63.8h0.6M275.5 65.1h0.6M270.7 67.4h0.6M268.1 67.9h0.6M271.4 69.0h0.6M273.5 71.5h0.6M274.4 72.4h0.6M270.7 68.6h0.6M268.8 67.3h0.6M268.7 68.2h0.6M267.0 69.2h0.6M271.1 72.3h0.6M274.4 68.7h0.6M264.9 65.7h0.6M274.5 69.9h0.6M271.7 72.3h0.6M267.4 69.3h0.6M272.9 65.6h0.6M272.9 66.1h0.6M271.2 67.8h0.6M273.0 69.3h0.6M270.9 67.5h0.6M272.3 63.8h0.6M275.7 66.0h0.6M273.7 69.9h0.6M269.0 70.9h0.6M268.6 64.0h0.6M270.1 67.2h0.6M270.2 63.2h0.6M271.0 66.6h0.6M272.5 68.5h0.6M270.9 67.2h0.6M271.8 66.5h0.6M270.8 64.6h0.6M272.4 62.6h0.6M267.6 68.2h0.6M275.0 67.5h0.6M272.0 63.3h0.6M272.4 69.6h0.6M273.7 72.4h0.6M272.8 62.3h0.6M271.4 70.3h0.6M270.3 63.4h0.6M266.4 69.9h0.6M270.0 68.3h0.6M269.9 69.2h0.6M277.3 66.2h0.6M265.8 69.2h0.6M270.9 71.8h0.6M274.1 67.7h0.6M273.4 67.9h0.6M274.1 69.5h0.6M267.4 70.8h0.6M268.2 63.3h0.6M272.5 68.5h0.6M270.0 66.2h0.6M275.4 69.8h0.6M271.4 71.5h0.6M271.3 69.3h0.6M272.0 72.3h0.6M270.1 65.3h0.6M271.1 67.0h0.6M269.0 65.3h0.6M270.7 68.5h0.6M269.5 68.6h0.6M271.5 67.7h0.6M267.0 64.6h0.6M266.8 68.1h0.6M272.1 67.0h0.6M271.4 70.2h0.6M268.2 67.5h0.6M270.2 71.9h0.6M268.0 69.0h0.6M276.3 62.6h0.6M266.6 67.8h0.6M275.5 63.9h0.6M268.6 71.3h0.6M272.0 72.7h0.6M270.1 68.2h0.6M269.8 69.7h0.6M273.4 63.9h0.6M273.0 61.4h0.6M270.1 66.6h0.6M268.4 67.5h0.6M276.4 63.7h0.6M274.6 68.6h0.6M271.2 69.3h0.6M270.0 70.3h0.6M271.1 70.8h0.6M274.1 67.2h0.6M268.2 68.6h0.6M270.9 70.1h0.6M268.7 65.1h0.6M274.4 72.4h0.6M275.7 71.1h0.6M270.6 67.6h0.6M272.3 66.3h0.6M270.0 70.9h0.6M268.3 71.2h0.6M272.2 71.3h0.6M270.3 69.0h0.6M274.8 70.5h0.6M271.5 65.5h0.6M266.0 70.5h0.6M271.8 63.6h0.6M270.7 69.6h0.6M275.9 70.0h0.6M270.8 63.5h0.6M272.0 64.8h0.6M271.5 71.5h0.6M267.0 66.7h0.6M271.2 69.3h0.6M270.0 66.3h0.6M277.3 71.5h0.6M268.2 70.7h0.6M268.6 70.5h0.6M269.1 68.8h0.6M269.0 67.6h0.6M271.0 70.2h0.6M273.8 68.8h0.6M267.3 67.9h0.6M266.7 64.1h0.6M265.9 67.4h0.6M273.8 70.2h0.6M274.4 66.9h0.6M266.7 69.4h0.6M266.4 67.9h0.6M271.2 65.2h0.6M273.8 65.6h0.6M273.6 66.1h0.6M271.4 67.5h0.6M272.7 67.6h0.6M271.7 71.8h0.6M269.4 65.0h0.6M276.0 62.1h0.6M270.9 70.5h0.6M267.9 67.0h0.6M269.6 68.0h0.6M273.8 70.2h0.6M267.4 71.3h0.6M273.9 68.7h0.6M276.5 71.3h0.6M271.9 66.5h0.6M267.7 66.2h0.6M268.6 66.9h0.6M267.5 66.5h0.6M270.2 72.0h0.6M270.4 67.9h0.6M272.5 71.7h0.6M267.6 67.4h0.6M275.9 71.3h0.6M273.7 68.0h0.6M273.3 67.5h0.6M269.1 68.3h0.6M275.6 68.9h0.6M269.9 66.6h0.6M275.8 64.2h0.6M268.4 67.2h0.6M269.6 62.8h0.6M275.9 61.4h0.6M273.6 59.8h0.6M270.4 66.5h0.6M271.4 72.6h0.6M271.4 63.4h0.6M268.8 67.4h0.6M270.3 62.7h0.6M269.1 71.8h0.6M269.7 69.5h0.6M272.1 69.4h0.6M268.3 72.6h0.6M271.2 71.6h0.6M272.9 66.6h0.6M273.3 64.3h0.6M274.2 65.2h0.6M272.6 63.0h0.6M270.4 67.8h0.6M272.4 68.8h0.6M268.4 69.0h0.6M272.9 66.7h0.6M270.7 72.1h0.6M272.1 69.4h0.6M268.0 68.0h0.6M274.6 62.5h0.6M269.3 71.3h0.6M271.9 66.1h0.6M270.8 67.0h0.6M273.4 69.1h0.6M269.8 68.7h0.6M268.2 71.9h0.6M265.7 66.4h0.6M270.0 68.9h0.6M267.6 69.3h0.6M272.3 68.5h0.6M274.8 70.5h0.6M264.8 67.6h0.6M267.4 72.1h0.6M271.7 66.2h0.6M274.2 64.0h0.6M271.7 68.3h0.6M271.7 72.1h0.6M272.2 66.8h0.6M272.4 66.5h0.6M275.3 67.4h0.6M272.5 68.9h0.6M267.5 67.9h0.6M269.6 69.4h0.6M271.4 63.1h0.6M270.1 70.2h0.6M269.4 65.8h0.6M269.0 72.7h0.6M272.7 69.8h0.6M267.9 64.8h0.6M271.0 68.6h0.6M276.6 62.1h0.6M271.6 70.8h0.6M274.9 67.5h0.6M272.2 65.3h0.6M265.0 67.8h0.6M271.9 62.4h0.6M268.5 70.2h0.6M267.2 67.8h0.6M267.9 67.6h0.6M275.7 72.8h0.6M266.6 68.5h0.6M269.2 66.4h0.6M274.0 65.5h0.6M272.7 68.2h0.6M266.2 71.7h0.6M270.6 66.6h0.6M269.5 65.2h0.6M270.3 71.3h0.6M272.9 68.6h0.6M269.3 68.3h0.6M274.8 64.7h0.6M265.8 69.0h0.6M269.8 62.9h0.6M272.1 67.5h0.6M267.5 70.2h0.6M269.1 71.9h0.6M267.3 64.5h0.6M271.3 71.0h0.6M269.2 70.8h0.6M273.0 68.0h0.6M271.0 68.4h0.6M269.8 65.7h0.6M271.6 69.7h0.6M271.0 62.7h0.6M273.8 71.5h0.6M271.5 67.2h0.6M273.0 70.3h0.6M267.1 70.1h0.6M276.6 66.5h0.6M272.5 64.4h0.6M266.9 62.1h0.6M270.9 67.5h0.6M270.7 63.6h0.6M271.4 67.9h0.6M270.2 69.7h0.6M272.2 67.1h0.6M269.6 65.5h0.6M271.5 72.1h0.6M269.0 67.8h0.6M271.1 69.1h0.6M273.6 71.4h0.6M269.5 64.4h0.6M272.7 65.6h0.6M269.8 67.9h0.6M270.2 65.2h0.6M274.2 67.6h0.6M268.8 66.7h0.6M274.2 64.6h0.6M266.8 67.2h0.6M270.4 68.4h0.6M273.3 68.4h0.6M272.7 70.1h0.6M268.1 63.1h0.6M267.5 63.8h0.6M273.2 70.9h0.6M267.4 67.1h0.6M272.4 72.2h0.6M269.4 69.4h0.6M270.8 64.1h0.6M277.1 70.1h0.6M275.1 65.3h0.6M273.1 69.2h0.6M267.1 72.2h0.6M271.0 68.2h0.6M270.6 70.6h0.6M274.5 69.4h0.6M266.1 70.9h0.6M271.7 60.5h0.6M271.2 67.2h0.6M268.8 69.3h0.6M275.5 69.9h0.6M267.4 66.1h0.6M270.9 71.0h0.6M271.0 71.8h0.6M264.8 68.6h0.6M266.9 67.7h0.6M268.2 67.3h0.6M273.0 68.9h0.6M273.4 72.1h0.6M271.5 67.0h0.6M264.8 65.6h0.6M271.4 66.0h0.6M269.4 71.5h0.6M274.0 69.1h0.6M274.5 69.3h0.6M276.9 69.9h0.6M272.8 69.6h0.6M273.0 68.0h0.6M268.0 65.2h0.6M271.0 66.5h0.6M267.4 68.8h0.6M273.3 69.6h0.6M267.5 67.3h0.6M270.2 67.1h0.6M268.6 72.6h0.6M269.5 67.0h0.6M272.1 69.1h0.6M269.3 67.4h0.6M271.4 65.8h0.6M268.1 63.8h0.6M274.6 66.8h0.6M269.0 65.9h0.6M273.6 71.0h0.6M276.7 64.9h0.6M264.1 67.2h0.6M268.1 70.4h0.6M270.2 68.1h0.6M274.0 69.9h0.6M269.5 71.0h0.6M271.8 63.3h0.6M268.8 67.2h0.6M272.3 65.5h0.6M267.5 72.6h0.6M273.1 68.1h0.6M262.6 69.9h0.6M275.8 67.3h0.6M271.3 68.7h0.6M268.3 69.7h0.6M276.8 67.6h0.6M273.7 72.3h0.6M273.9 70.9h0.6M269.6 71.5h0.6M272.5 68.6h0.6M272.2 67.4h0.6M266.2 67.3h0.6M272.4 67.3h0.6M270.3 63.4h0.6M274.3 69.5h0.6M274.4 70.9h0.6M269.0 68.4h0.6M269.1 66.9h0.6M271.3 68.5h0.6M272.6 69.1h0.6M269.7 69.4h0.6M272.5 65.8h0.6M272.0 69.5h0.6M274.0 70.5h0.6M271.4 68.7h0.6M268.3 67.7h0.6M265.9 65.3h0.6M273.0 66.6h0.6M269.9 70.6h0.6M270.0 66.4h0.6M266.5 69.9h0.6M269.7 70.0h0.6M263.6 71.5h0.6M269.7 69.2h0.6M268.3 69.8h0.6M275.9 71.1h0.6M272.0 64.9h0.6M270.2 68.6h0.6M271.2 63.0h0.6M272.8 62.4h0.6M268.7 65.9h0.6M270.1 63.7h0.6M269.8 70.0h0.6M277.6 71.4h0.6M271.0 67.5h0.6M265.3 68.0h0.6M273.0 67.7h0.6M277.9 67.6h0.6M268.1 68.8h0.6M280.4 69.5h0.6M270.6 67.0h0.6M273.5 66.0h0.6M269.2 66.8h0.6M270.0 70.8h0.6M267.4 67.1h0.6M264.8 67.7h0.6M273.9 72.6h0.6M267.6 64.8h0.6M271.8 66.3h0.6M271.7 69.9h0.6M269.0 69.9h0.6M270.9 67.9h0.6M269.4 68.6h0.6M270.9 69.3h0.6M270.9 66.7h0.6M267.2 71.0h0.6M268.4 69.7h0.6M271.1 63.5h0.6M274.6 69.5h0.6M274.9 67.0h0.6M271.6 69.6h0.6M273.4 71.2h0.6M271.1 66.1h0.6M273.8 69.1h0.6M271.1 71.1h0.6M271.9 68.9h0.6M270.0 67.4h0.6M270.7 65.2h0.6M276.0 66.4h0.6M267.4 64.6h0.6M270.8 71.4h0.6M269.1 68.7h0.6M273.4 64.7h0.6M275.8 68.4h0.6M269.9 64.5h0.6M263.0 58.5h0.6M272.5 72.0h0.6M272.5 71.9h0.6M266.1 64.0h0.6M270.1 66.2h0.6M270.6 69.0h0.6M264.3 67.2h0.6M272.6 65.8h0.6M272.0 66.8h0.6M271.4 67.7h0.6M267.8 66.7h0.6M268.8 69.0h0.6M269.0 67.7h0.6M272.1 66.1h0.6M268.0 68.5h0.6M274.8 63.4h0.6M271.8 72.7h0.6M264.7 63.2h0.6M275.5 68.1h0.6M271.2 69.4h0.6M269.2 69.6h0.6M271.0 69.2h0.6M265.6 72.2h0.6M271.3 65.0h0.6M263.9 68.2h0.6M267.9 68.8h0.6M274.5 66.9h0.6M274.3 66.6h0.6M269.8 72.3h0.6M268.0 66.2h0.6M273.3 66.9h0.6M270.6 67.6h0.6M271.3 67.7h0.6M272.5 68.9h0.6" stroke="#000" stroke-width="0.6" stroke-opacity="0.6" fill="none"/>
<rect x="29.6" y="82.9" width="61.9" height="53.9" fill="none" stroke="#5a5a5a" stroke-width="0.8"/>
<path d="M28.7 87.4h0.9M34.8 137.7v-0.9M28.7 91.9h0.9M39.9 137.7v-0.9M28.7 96.4h0.9M45.1 137.7v-0.9M28.7 100.9h0.9M50.2 137.7v-0.9M28.7 105.4h0.9M55.4 137.7v-0.9M28.7 109.9h0.9M60.5 137.7v-0.9M28.7 114.3h0.9M65.7 137.7v-0.9M28.7 118.8h0.9M70.9 137.7v-0.9M28.7 123.3h0.9M76.0 137.7v-0.9M28.7 127.8h0.9M81.2 137.7v-0.9M28.7 132.3h0.9M86.3 137.7v-0.9" stroke="#222" stroke-width="0.8" fill="none"/>
<rect x="46.1" y="97.5" width="20" height="24.9" fill="none" stroke="#868686" stroke-width="0.65"/>
<text x="69.0" y="109.9" font-size="8.5" font-weight="700" stroke="#111" stroke-width="0.22" text-anchor="start">0.1</text>
<path d="M54.8 124.7h0.6M56.0 125.9h0.6M55.4 126.1h0.6M49.7 128.8h0.6M45.9 128.2h0.6M57.3 127.5h0.6M53.2 125.4h0.6M56.6 126.6h0.6M54.0 128.7h0.6M54.4 129.5h0.6M60.0 124.8h0.6M50.7 126.6h0.6M55.0 127.5h0.6M51.1 127.9h0.6M55.3 127.3h0.6M56.8 128.5h0.6M57.4 124.9h0.6M55.6 130.0h0.6M50.1 125.4h0.6M55.9 127.4h0.6M58.3 128.2h0.6M58.6 129.3h0.6M62.8 128.9h0.6M57.1 128.8h0.6M51.4 129.5h0.6M53.2 127.1h0.6M55.4 128.6h0.6M58.8 130.0h0.6M50.9 126.0h0.6M58.3 124.9h0.6M57.4 125.6h0.6M51.9 129.8h0.6M57.2 129.5h0.6M52.3 126.7h0.6M55.0 127.8h0.6M54.0 128.2h0.6M55.9 129.2h0.6M50.8 124.1h0.6M57.0 126.4h0.6M47.2 126.9h0.6M53.6 127.9h0.6M53.0 127.5h0.6M60.7 126.8h0.6M57.0 127.9h0.6M53.3 122.9h0.6M51.8 132.6h0.6M55.2 128.8h0.6M52.8 128.9h0.6M63.1 126.2h0.6M45.0 128.1h0.6M55.3 130.9h0.6M46.2 130.5h0.6M58.8 127.5h0.6M52.2 125.2h0.6M60.8 127.6h0.6M53.1 126.8h0.6M59.0 128.8h0.6M55.8 125.2h0.6M59.3 127.0h0.6M55.1 127.8h0.6M44.3 126.6h0.6M52.4 129.2h0.6M49.4 125.4h0.6M58.5 125.2h0.6M57.0 126.8h0.6M55.1 128.8h0.6M56.7 126.8h0.6M55.8 126.4h0.6M53.0 128.8h0.6M62.1 127.8h0.6M55.9 126.5h0.6M54.4 127.6h0.6M49.8 127.0h0.6M52.8 128.4h0.6M55.1 127.6h0.6M54.4 126.0h0.6M53.3 126.5h0.6M54.9 126.7h0.6M51.0 128.0h0.6M55.1 128.0h0.6M53.3 116.9h0.6M54.5 117.2h0.6" stroke="#111" stroke-width="0.6" stroke-opacity="0.62" fill="none"/>
<path d="M53.7 130.3h0.6M58.4 127.4h0.6M53.3 128.7h0.6M54.1 126.6h0.6M51.6 125.2h0.6M58.8 129.1h0.6M58.2 127.0h0.6M53.7 125.9h0.6M54.2 126.1h0.6M55.2 126.1h0.6M55.7 126.2h0.6M57.7 124.8h0.6M55.3 128.9h0.6M56.3 127.7h0.6M50.6 128.5h0.6M54.2 126.6h0.6M49.7 127.6h0.6M60.5 127.3h0.6M59.3 128.8h0.6M57.3 128.3h0.6M58.4 127.6h0.6M61.1 126.1h0.6M57.9 125.3h0.6M50.3 125.9h0.6M54.5 126.2h0.6M48.1 126.3h0.6M52.7 125.3h0.6M51.4 129.6h0.6M55.1 127.5h0.6M56.3 124.1h0.6M52.3 125.5h0.6M54.3 125.1h0.6M55.9 127.5h0.6M54.6 128.7h0.6M54.6 125.6h0.6M47.9 128.0h0.6M53.8 126.7h0.6M57.5 128.8h0.6M55.9 129.1h0.6M50.7 127.6h0.6M54.3 128.2h0.6M55.9 127.1h0.6M52.2 126.5h0.6M57.1 125.4h0.6M52.7 127.6h0.6M54.1 127.0h0.6M54.8 126.5h0.6M61.8 127.0h0.6M54.1 126.8h0.6M53.4 125.6h0.6M57.2 126.3h0.6M53.7 128.8h0.6M55.7 126.8h0.6M48.3 129.2h0.6M56.0 125.4h0.6M55.0 125.1h0.6M51.2 127.3h0.6M59.2 128.2h0.6M54.4 126.1h0.6M54.5 128.0h0.6M51.1 128.5h0.6M50.2 128.7h0.6M53.4 126.9h0.6M50.5 127.0h0.6M56.6 124.7h0.6M57.7 127.1h0.6M53.2 127.5h0.6M50.3 129.2h0.6M53.9 125.2h0.6M51.9 125.9h0.6M55.6 125.6h0.6M55.6 128.4h0.6M53.8 123.4h0.6M55.3 125.5h0.6M58.2 130.1h0.6M60.2 128.1h0.6M53.5 125.1h0.6M57.2 127.0h0.6M54.4 128.3h0.6M51.9 127.9h0.6M58.9 126.8h0.6M56.3 125.9h0.6M55.5 128.3h0.6M56.1 127.1h0.6M54.6 128.3h0.6M51.9 127.7h0.6M60.4 126.4h0.6M57.8 129.2h0.6M55.9 126.4h0.6M58.0 127.7h0.6M58.9 126.2h0.6M54.5 126.8h0.6M56.8 126.7h0.6M54.1 126.1h0.6M57.0 127.4h0.6M54.3 129.0h0.6M62.4 129.8h0.6M54.0 129.2h0.6M56.6 126.8h0.6M56.5 129.2h0.6M54.1 127.7h0.6M57.9 129.7h0.6M54.8 125.3h0.6M53.8 129.3h0.6M55.1 126.2h0.6M52.8 128.8h0.6M58.7 126.4h0.6M57.0 128.4h0.6M58.0 126.7h0.6M51.0 124.4h0.6M55.9 125.7h0.6M52.8 126.7h0.6M55.3 127.1h0.6M58.9 123.8h0.6M55.8 125.3h0.6M54.5 126.0h0.6M58.4 126.8h0.6M58.1 127.4h0.6M60.6 125.9h0.6M49.5 124.9h0.6M56.1 127.5h0.6M53.8 126.6h0.6M52.5 128.4h0.6M55.4 126.3h0.6M51.6 128.0h0.6M48.4 125.8h0.6M52.4 127.5h0.6M54.3 127.2h0.6M60.7 127.8h0.6M52.9 125.7h0.6M51.6 126.9h0.6M49.1 125.9h0.6M54.0 126.9h0.6M54.4 128.0h0.6M55.5 131.5h0.6M50.7 127.2h0.6M52.8 128.1h0.6M48.3 127.3h0.6M55.6 128.8h0.6M50.4 127.8h0.6M46.8 128.6h0.6M58.6 127.6h0.6M56.6 130.6h0.6M56.1 129.1h0.6M56.1 124.6h0.6M52.0 127.5h0.6M58.3 127.2h0.6M51.9 123.9h0.6M60.8 125.8h0.6M55.8 126.4h0.6M49.5 126.0h0.6M57.7 127.3h0.6M61.0 124.5h0.6M54.3 128.2h0.6M58.3 128.2h0.6M54.4 127.6h0.6M53.2 126.6h0.6M47.3 127.1h0.6M58.8 126.4h0.6M53.7 128.8h0.6M56.2 127.8h0.6M51.7 130.0h0.6M52.4 126.6h0.6M58.4 129.2h0.6M53.9 126.3h0.6M53.9 126.9h0.6M51.3 125.6h0.6M55.7 127.9h0.6M57.4 127.0h0.6M53.7 128.0h0.6M54.5 129.3h0.6M51.4 127.0h0.6M59.3 127.7h0.6M53.2 128.4h0.6M54.6 127.0h0.6M60.1 126.3h0.6M54.4 127.6h0.6M50.4 127.8h0.6M52.3 128.2h0.6M54.0 128.3h0.6M60.4 126.1h0.6M55.8 127.8h0.6M54.4 128.9h0.6M57.6 126.4h0.6M59.0 127.6h0.6M52.8 126.2h0.6M59.4 127.4h0.6M57.7 129.6h0.6M56.5 127.4h0.6M48.0 125.7h0.6M55.7 127.6h0.6M59.3 127.4h0.6M54.3 128.7h0.6M62.1 125.1h0.6M55.3 125.8h0.6M52.0 127.0h0.6M56.9 124.9h0.6M56.0 128.8h0.6M57.6 124.2h0.6M54.4 125.9h0.6M59.0 125.0h0.6M53.4 126.2h0.6M55.5 128.3h0.6M51.4 128.0h0.6M52.7 128.5h0.6M55.7 128.0h0.6M53.1 124.2h0.6M53.8 127.5h0.6M54.5 124.4h0.6M55.9 126.4h0.6M57.4 126.5h0.6M57.4 126.3h0.6M58.2 127.8h0.6M55.7 125.9h0.6M53.5 129.6h0.6M50.3 128.0h0.6M54.1 128.8h0.6M52.7 128.2h0.6M49.6 128.4h0.6M60.1 127.0h0.6M49.6 130.0h0.6M56.2 125.6h0.6M56.8 127.8h0.6M54.4 127.1h0.6M63.0 126.8h0.6M55.2 127.6h0.6M52.8 126.0h0.6M60.5 128.4h0.6M52.7 128.3h0.6M50.8 127.3h0.6M52.1 128.2h0.6M53.2 125.6h0.6M55.3 124.5h0.6M56.2 126.3h0.6M50.5 126.8h0.6M56.2 130.7h0.6M61.9 126.8h0.6M53.0 128.6h0.6M54.7 128.3h0.6M57.2 130.2h0.6M58.8 127.3h0.6M53.1 128.1h0.6M52.2 126.8h0.6M52.1 125.9h0.6M58.5 125.7h0.6M57.9 126.0h0.6M48.5 129.2h0.6M48.6 127.5h0.6M51.4 126.9h0.6M50.6 127.1h0.6M56.4 126.3h0.6M55.8 127.1h0.6M61.1 127.1h0.6M57.6 128.1h0.6M55.5 128.4h0.6M58.7 124.7h0.6M52.4 127.5h0.6M50.9 129.1h0.6M55.2 125.6h0.6M58.0 126.8h0.6M50.2 127.4h0.6M57.9 128.7h0.6M57.8 128.0h0.6M53.6 126.8h0.6M55.6 127.8h0.6M54.3 128.6h0.6M55.4 127.7h0.6M57.6 129.8h0.6M52.7 127.7h0.6M58.3 125.6h0.6M57.8 126.0h0.6M57.9 126.9h0.6M49.1 126.8h0.6M49.5 128.0h0.6M57.2 127.6h0.6M53.3 129.6h0.6M53.0 128.3h0.6M52.8 129.3h0.6M51.0 126.0h0.6M54.3 126.5h0.6M52.9 128.1h0.6M53.1 127.3h0.6M56.6 128.0h0.6M51.5 127.5h0.6M58.6 126.2h0.6M48.4 129.6h0.6M62.8 128.8h0.6M51.0 124.9h0.6M56.9 126.2h0.6M57.9 127.2h0.6M55.1 128.1h0.6M57.4 127.0h0.6M54.8 125.1h0.6M49.8 128.3h0.6M56.2 126.8h0.6M58.6 128.9h0.6M53.4 127.6h0.6M50.0 128.6h0.6M53.3 128.3h0.6M56.1 128.4h0.6M56.1 126.4h0.6M58.5 128.6h0.6M56.8 127.4h0.6M56.7 125.3h0.6M49.0 126.6h0.6M61.9 126.6h0.6M55.3 127.8h0.6M57.8 128.1h0.6M54.1 125.5h0.6M54.7 128.2h0.6M55.3 127.0h0.6M59.9 125.6h0.6M59.8 128.3h0.6M57.0 126.0h0.6M61.2 125.4h0.6M53.9 128.2h0.6M56.7 128.4h0.6M53.7 126.2h0.6M59.1 128.7h0.6M55.3 128.6h0.6M58.1 126.4h0.6M60.4 130.0h0.6M48.8 127.1h0.6M61.8 127.5h0.6M56.1 123.7h0.6M54.2 128.1h0.6M49.3 126.2h0.6M54.2 127.8h0.6M48.1 124.7h0.6M55.4 128.8h0.6M54.6 129.2h0.6M60.7 129.9h0.6M54.2 122.9h0.6M58.4 128.0h0.6M58.7 127.6h0.6M61.5 122.8h0.6M54.4 126.1h0.6M57.5 127.0h0.6M50.5 129.2h0.6M51.8 125.9h0.6M54.3 127.4h0.6M55.1 127.1h0.6M51.4 127.7h0.6M53.9 126.6h0.6M57.3 128.4h0.6M53.8 128.6h0.6M54.7 125.2h0.6M52.4 128.8h0.6M59.4 126.1h0.6M60.6 126.8h0.6M55.8 128.8h0.6M54.8 127.3h0.6M60.3 128.0h0.6M56.6 128.3h0.6M53.1 128.0h0.6M51.0 126.4h0.6M53.4 125.8h0.6M61.9 128.1h0.6M53.4 128.3h0.6M64.1 127.7h0.6M55.2 126.9h0.6M54.5 128.4h0.6M59.3 127.1h0.6M54.4 125.2h0.6M56.3 127.6h0.6M52.0 127.9h0.6M51.4 128.3h0.6M52.9 125.9h0.6M55.9 126.1h0.6M53.1 127.7h0.6M49.1 126.5h0.6M56.7 127.1h0.6M54.7 128.5h0.6M54.3 127.7h0.6M53.3 129.8h0.6M48.3 127.6h0.6M60.1 129.7h0.6M53.7 128.7h0.6M56.8 130.9h0.6M59.5 127.2h0.6M58.7 127.1h0.6M55.8 129.1h0.6M55.2 126.5h0.6M56.1 126.5h0.6M58.0 127.6h0.6M57.0 127.7h0.6M53.8 125.2h0.6M56.6 127.6h0.6M56.4 126.8h0.6M57.3 127.2h0.6M55.8 127.5h0.6M59.4 126.9h0.6M55.8 128.8h0.6M57.9 127.9h0.6M55.3 127.0h0.6M53.4 127.3h0.6M52.3 128.7h0.6M54.7 128.4h0.6M56.8 129.1h0.6M59.1 127.0h0.6M54.9 127.4h0.6M53.6 130.1h0.6M53.6 127.2h0.6M59.2 129.7h0.6M55.5 128.5h0.6M53.7 126.6h0.6M57.5 125.2h0.6M51.1 128.2h0.6M55.6 126.2h0.6M55.1 126.2h0.6M54.8 124.8h0.6M51.6 129.0h0.6M58.2 127.4h0.6M60.4 127.3h0.6M51.1 127.8h0.6M55.6 127.6h0.6M57.2 127.4h0.6M62.1 128.0h0.6M53.9 126.9h0.6M52.3 123.5h0.6M55.2 128.3h0.6M61.4 127.9h0.6M55.4 127.3h0.6M56.0 129.5h0.6M60.7 125.2h0.6M48.6 123.1h0.6M48.5 129.4h0.6M58.0 127.8h0.6M57.6 124.9h0.6M50.9 126.7h0.6M56.8 128.1h0.6M55.3 125.5h0.6M55.9 128.1h0.6M52.7 130.3h0.6M53.8 129.3h0.6M52.5 127.2h0.6M55.4 127.7h0.6M54.5 125.9h0.6M60.4 127.4h0.6M57.1 126.8h0.6M50.4 125.8h0.6M56.5 125.3h0.6M59.6 130.0h0.6M56.1 127.4h0.6M58.5 125.8h0.6M55.1 126.6h0.6M57.4 129.4h0.6M52.3 129.6h0.6M57.6 126.4h0.6M51.0 127.5h0.6M59.2 128.5h0.6M50.5 126.8h0.6M48.7 125.6h0.6M56.8 125.8h0.6M54.7 127.3h0.6M55.6 126.1h0.6M56.5 125.4h0.6M55.1 126.9h0.6M52.5 128.6h0.6M55.8 128.2h0.6M56.3 126.9h0.6M56.7 130.0h0.6M61.3 126.1h0.6M52.9 127.1h0.6M55.4 125.3h0.6M56.9 128.4h0.6M53.8 127.1h0.6M51.5 124.8h0.6M53.5 126.1h0.6M58.5 129.8h0.6M54.4 128.3h0.6M57.1 127.4h0.6M52.9 128.5h0.6M56.6 124.9h0.6M53.1 126.1h0.6M52.6 125.3h0.6M55.5 126.1h0.6M55.4 126.7h0.6M59.7 128.0h0.6M50.2 128.7h0.6M56.8 128.7h0.6M60.2 131.1h0.6M59.4 126.5h0.6M54.0 127.2h0.6M53.1 128.0h0.6M53.7 126.0h0.6M56.1 126.8h0.6M55.8 127.8h0.6M56.3 126.0h0.6M57.0 127.9h0.6M51.9 129.0h0.6M51.7 125.6h0.6M51.4 123.9h0.6M51.1 127.4h0.6M54.9 125.7h0.6M56.2 127.5h0.6M63.0 126.6h0.6M56.8 127.7h0.6M55.3 128.9h0.6M59.6 128.4h0.6M52.9 126.7h0.6M56.2 125.5h0.6M58.2 123.7h0.6M57.6 124.1h0.6M56.4 126.1h0.6M54.1 127.4h0.6M51.4 126.2h0.6M54.7 126.4h0.6M53.4 124.9h0.6M57.3 124.8h0.6M54.8 124.7h0.6M56.9 128.1h0.6M50.2 124.3h0.6M58.2 128.2h0.6M52.6 125.9h0.6M50.4 128.0h0.6M51.0 127.5h0.6M53.3 128.3h0.6M58.7 128.9h0.6M57.4 126.0h0.6M51.6 125.8h0.6M55.5 126.5h0.6M54.9 126.0h0.6M50.4 128.1h0.6M52.2 127.0h0.6M48.9 127.1h0.6M52.5 127.7h0.6M47.0 126.4h0.6M52.8 128.7h0.6M52.3 124.5h0.6M52.7 127.5h0.6M52.7 127.8h0.6M58.8 126.0h0.6M54.1 126.1h0.6M55.9 128.4h0.6M57.5 126.7h0.6M58.0 124.3h0.6M57.3 125.2h0.6M53.5 128.6h0.6M51.8 125.8h0.6M52.8 129.0h0.6M53.7 129.1h0.6M55.2 126.8h0.6M54.9 127.9h0.6M58.6 125.9h0.6M54.9 126.5h0.6M60.7 126.1h0.6M58.4 128.0h0.6M53.7 125.2h0.6M57.8 126.9h0.6M46.4 127.2h0.6M59.4 127.8h0.6M56.5 124.0h0.6M56.4 124.5h0.6M50.0 125.8h0.6M62.9 126.8h0.6M54.4 127.3h0.6M54.8 127.4h0.6M58.7 130.0h0.6M54.6 128.0h0.6M52.6 127.9h0.6M57.2 126.4h0.6M52.1 128.2h0.6M57.5 128.1h0.6M55.6 128.1h0.6M58.7 126.9h0.6M51.5 128.0h0.6M59.0 129.3h0.6M56.1 125.9h0.6M61.3 124.0h0.6M53.2 128.3h0.6M60.9 128.1h0.6M57.4 126.7h0.6M57.6 126.4h0.6M53.0 131.1h0.6M56.9 126.4h0.6M57.3 125.3h0.6M52.7 126.4h0.6M51.6 127.8h0.6M52.8 126.2h0.6M59.7 126.5h0.6M55.7 127.5h0.6M58.1 126.5h0.6M56.1 127.3h0.6M55.6 127.0h0.6M55.9 125.5h0.6M53.9 127.2h0.6M58.9 125.4h0.6M55.7 128.4h0.6M55.9 125.7h0.6M51.0 126.7h0.6M56.1 124.5h0.6M53.1 126.4h0.6M53.7 125.3h0.6M58.4 129.2h0.6M51.8 126.9h0.6M54.6 127.8h0.6M57.1 124.6h0.6M58.7 125.3h0.6M53.6 126.8h0.6M56.2 125.1h0.6M56.1 128.7h0.6M51.7 126.5h0.6M48.6 127.3h0.6M49.3 127.5h0.6M57.0 126.9h0.6M55.5 128.2h0.6M51.1 126.1h0.6M53.2 127.6h0.6M54.0 128.8h0.6M54.1 127.4h0.6M55.1 127.2h0.6M62.0 126.6h0.6M52.8 127.1h0.6M55.6 128.0h0.6M52.8 126.7h0.6M53.3 124.7h0.6M52.5 127.3h0.6M54.5 126.9h0.6M53.5 127.7h0.6M56.3 127.1h0.6M55.9 129.3h0.6M52.5 125.3h0.6M61.1 125.7h0.6M51.6 128.0h0.6M56.3 125.6h0.6M61.8 127.5h0.6M53.0 127.0h0.6M59.3 124.3h0.6M59.5 128.0h0.6M56.2 129.0h0.6M49.5 127.4h0.6M59.6 125.1h0.6M55.5 128.2h0.6M53.5 125.6h0.6M59.1 126.9h0.6M53.0 127.6h0.6M58.5 125.9h0.6M53.5 124.6h0.6M56.8 126.9h0.6M51.9 127.0h0.6M54.0 125.8h0.6M52.4 125.9h0.6M53.0 128.1h0.6M55.8 126.9h0.6M54.7 126.4h0.6M55.8 126.2h0.6M59.1 127.3h0.6M54.8 127.2h0.6M49.5 126.8h0.6M54.3 125.1h0.6M55.4 126.5h0.6M58.3 126.2h0.6M58.4 127.1h0.6M58.1 128.7h0.6M54.5 128.4h0.6M57.2 128.0h0.6M50.8 127.2h0.6M59.2 126.6h0.6M56.5 127.5h0.6M56.8 126.4h0.6M54.0 126.6h0.6M55.4 125.9h0.6M53.1 127.0h0.6M56.9 126.9h0.6M51.1 129.7h0.6M58.2 127.8h0.6M56.9 126.5h0.6M61.4 128.1h0.6M55.1 126.4h0.6M54.9 128.5h0.6M55.8 128.1h0.6M55.3 131.1h0.6M54.9 125.5h0.6M51.8 126.9h0.6M51.8 126.9h0.6M53.5 127.5h0.6M54.3 128.1h0.6M51.6 125.7h0.6M51.6 126.0h0.6M54.3 127.5h0.6M57.5 128.4h0.6M54.6 125.5h0.6M57.3 124.9h0.6M58.2 128.7h0.6M57.6 128.2h0.6M53.9 128.6h0.6M54.0 125.7h0.6M49.5 126.8h0.6M53.1 127.4h0.6M56.6 127.7h0.6M51.9 126.9h0.6M59.3 127.0h0.6M59.6 128.5h0.6M54.1 126.4h0.6M58.0 126.3h0.6M50.9 126.4h0.6M52.0 126.3h0.6M54.1 127.2h0.6M55.2 126.8h0.6M54.6 126.4h0.6M52.6 129.0h0.6M61.2 127.5h0.6M56.1 126.6h0.6M56.1 128.8h0.6M57.3 126.3h0.6M55.7 127.0h0.6M54.5 126.9h0.6M53.5 126.2h0.6M50.2 126.5h0.6M59.8 127.2h0.6M52.4 125.1h0.6M50.1 126.5h0.6M52.7 127.4h0.6M50.3 127.4h0.6M61.3 127.5h0.6M56.3 130.3h0.6M59.5 128.0h0.6M59.7 126.9h0.6M56.9 126.9h0.6M57.0 127.0h0.6M53.0 127.7h0.6M54.9 126.6h0.6M53.3 129.1h0.6M55.3 125.5h0.6M53.1 127.9h0.6M59.1 127.7h0.6M57.5 125.5h0.6M54.9 127.9h0.6M50.1 127.8h0.6M57.3 126.2h0.6M57.9 130.3h0.6M55.0 128.0h0.6M51.3 126.6h0.6M56.5 126.4h0.6M58.4 126.0h0.6M49.3 127.4h0.6M56.9 127.1h0.6M49.6 125.1h0.6M55.4 125.6h0.6M60.5 126.1h0.6M55.5 126.5h0.6M56.7 126.5h0.6M54.2 126.1h0.6M55.2 127.9h0.6M62.4 128.4h0.6M59.3 127.1h0.6M54.2 124.0h0.6M54.0 126.8h0.6M55.3 127.8h0.6" stroke="#000" stroke-width="0.6" stroke-opacity="0.6" fill="none"/>
<rect x="102.0" y="82.9" width="61.6" height="53.9" fill="none" stroke="#5a5a5a" stroke-width="0.8"/>
<path d="M101.1 87.4h0.9M107.1 137.7v-0.9M101.1 91.9h0.9M112.3 137.7v-0.9M101.1 96.4h0.9M117.4 137.7v-0.9M101.1 100.9h0.9M122.5 137.7v-0.9M101.1 105.4h0.9M127.7 137.7v-0.9M101.1 109.9h0.9M132.8 137.7v-0.9M101.1 114.3h0.9M137.9 137.7v-0.9M101.1 118.8h0.9M143.1 137.7v-0.9M101.1 123.3h0.9M148.2 137.7v-0.9M101.1 127.8h0.9M153.3 137.7v-0.9M101.1 132.3h0.9M158.5 137.7v-0.9" stroke="#222" stroke-width="0.8" fill="none"/>
<rect x="118.6" y="97.5" width="20" height="24.9" fill="none" stroke="#868686" stroke-width="0.65"/>
<text x="144.0" y="109.9" font-size="8.5" font-weight="700" stroke="#111" stroke-width="0.22" text-anchor="start">1.2</text>
<path d="M123.7 127.3h0.6M131.3 126.1h0.6M129.0 127.1h0.6M125.6 126.7h0.6M134.0 127.5h0.6M122.9 128.9h0.6M125.5 127.2h0.6M123.2 127.3h0.6M123.5 129.2h0.6M125.0 127.9h0.6M122.8 129.1h0.6M125.2 127.6h0.6M132.4 125.1h0.6M119.8 125.4h0.6M121.7 124.4h0.6M122.8 129.4h0.6M124.6 128.1h0.6M130.2 126.6h0.6M129.1 125.6h0.6M128.2 128.0h0.6M127.2 127.2h0.6M135.4 128.0h0.6M122.1 125.9h0.6M122.0 125.4h0.6M126.3 130.2h0.6M127.2 125.7h0.6M125.5 127.4h0.6M123.2 129.8h0.6M121.5 124.1h0.6M125.4 128.6h0.6M123.7 127.5h0.6M124.6 127.1h0.6M122.3 127.9h0.6M131.5 125.3h0.6M128.1 123.4h0.6M133.4 130.8h0.6M124.4 126.9h0.6M126.6 129.0h0.6M125.5 129.4h0.6M126.5 127.9h0.6M125.4 128.2h0.6M125.8 128.7h0.6M119.0 130.2h0.6M125.4 128.3h0.6M129.0 129.6h0.6M119.0 126.9h0.6M125.1 126.6h0.6M128.6 127.6h0.6M131.2 128.1h0.6M126.1 128.4h0.6M128.1 130.9h0.6M133.0 128.9h0.6M131.3 127.5h0.6M124.7 130.9h0.6M124.1 128.0h0.6M130.2 128.0h0.6M127.2 128.3h0.6M124.3 126.8h0.6M125.5 125.5h0.6M127.6 127.6h0.6M125.6 126.9h0.6M125.4 125.9h0.6M125.5 127.6h0.6M120.8 127.0h0.6M132.9 126.3h0.6M131.0 124.2h0.6M132.1 127.1h0.6M125.9 130.5h0.6M126.9 129.0h0.6M128.6 129.3h0.6M129.5 127.4h0.6M119.5 129.3h0.6M127.7 126.2h0.6M122.6 126.6h0.6M126.1 128.3h0.6M123.9 124.9h0.6M132.8 127.5h0.6M128.4 127.9h0.6M126.3 130.4h0.6M131.7 126.2h0.6M126.9 121.6h0.6M124.8 112.1h0.6M125.0 117.9h0.6M120.8 117.8h0.6M124.2 120.0h0.6M128.4 116.1h0.6M127.1 117.6h0.6M126.4 115.2h0.6M131.0 120.2h0.6M127.2 121.9h0.6M123.7 121.0h0.6M125.7 114.6h0.6M126.0 120.5h0.6M129.3 120.7h0.6" stroke="#111" stroke-width="0.6" stroke-opacity="0.62" fill="none"/>
<path d="M126.4 128.5h0.6M128.5 125.2h0.6M125.4 125.4h0.6M123.5 126.9h0.6M126.7 127.1h0.6M127.7 127.0h0.6M127.3 127.8h0.6M126.8 126.1h0.6M125.4 124.1h0.6M124.0 127.7h0.6M125.5 126.8h0.6M127.7 128.3h0.6M129.1 130.1h0.6M116.9 127.2h0.6M128.1 128.0h0.6M129.5 125.9h0.6M130.0 128.4h0.6M127.4 127.6h0.6M128.3 127.5h0.6M125.1 128.4h0.6M126.1 125.5h0.6M127.9 127.9h0.6M123.2 127.8h0.6M124.1 129.4h0.6M126.9 124.6h0.6M122.5 127.0h0.6M126.5 130.3h0.6M122.1 126.6h0.6M126.9 126.5h0.6M126.4 129.7h0.6M124.7 130.7h0.6M123.6 127.3h0.6M124.9 126.1h0.6M119.9 126.3h0.6M125.2 126.6h0.6M126.7 125.9h0.6M129.8 126.0h0.6M124.9 127.4h0.6M125.8 127.2h0.6M130.3 127.8h0.6M131.3 127.2h0.6M124.9 125.4h0.6M129.4 128.2h0.6M129.7 127.5h0.6M127.8 126.3h0.6M123.5 126.7h0.6M123.6 127.6h0.6M128.0 127.2h0.6M133.1 126.9h0.6M125.8 128.2h0.6M130.9 128.6h0.6M131.8 126.7h0.6M122.8 127.1h0.6M124.6 125.6h0.6M130.7 126.9h0.6M129.2 127.8h0.6M127.9 128.4h0.6M126.3 127.4h0.6M128.2 127.0h0.6M124.5 126.1h0.6M133.5 127.4h0.6M123.0 125.6h0.6M121.2 127.3h0.6M126.8 127.2h0.6M130.5 125.8h0.6M124.9 127.6h0.6M126.2 126.8h0.6M123.4 128.0h0.6M126.1 126.4h0.6M123.4 127.8h0.6M123.5 129.3h0.6M122.1 127.4h0.6M124.8 128.2h0.6M131.7 126.2h0.6M126.2 126.6h0.6M126.9 124.4h0.6M132.8 126.9h0.6M124.5 125.5h0.6M123.5 127.3h0.6M127.8 124.2h0.6M122.8 125.9h0.6M127.3 127.2h0.6M129.7 127.7h0.6M123.2 124.8h0.6M124.8 126.5h0.6M131.2 130.8h0.6M123.3 128.2h0.6M124.4 127.4h0.6M127.0 123.2h0.6M125.4 125.8h0.6M123.9 127.9h0.6M131.0 127.5h0.6M124.7 127.8h0.6M127.3 128.5h0.6M125.2 127.3h0.6M125.7 128.3h0.6M122.4 124.6h0.6M129.0 130.7h0.6M125.1 126.7h0.6M130.0 126.2h0.6M123.0 129.3h0.6M124.9 128.0h0.6M127.7 128.5h0.6M126.7 126.2h0.6M124.4 127.5h0.6M125.9 128.1h0.6M122.6 125.5h0.6M126.5 126.8h0.6M118.7 126.8h0.6M126.8 126.7h0.6M130.3 126.1h0.6M128.9 125.3h0.6M128.8 127.7h0.6M125.1 127.5h0.6M127.8 128.8h0.6M125.2 127.0h0.6M126.1 126.2h0.6M126.1 125.1h0.6M116.6 127.2h0.6M129.0 126.7h0.6M127.7 130.0h0.6M128.8 130.4h0.6M123.6 129.4h0.6M128.3 125.8h0.6M127.7 125.1h0.6M119.9 126.8h0.6M121.2 125.8h0.6M126.5 129.1h0.6M124.4 127.3h0.6M126.3 126.5h0.6M124.5 127.1h0.6M130.7 128.9h0.6M120.9 125.8h0.6M122.4 127.8h0.6M123.5 125.2h0.6M122.4 126.8h0.6M124.7 126.2h0.6M126.3 127.6h0.6M122.5 127.3h0.6M127.4 128.8h0.6M130.1 128.1h0.6M129.5 126.3h0.6M132.1 125.2h0.6M129.6 126.0h0.6M126.3 126.5h0.6M131.5 126.8h0.6M128.4 126.0h0.6M131.8 128.6h0.6M125.8 128.4h0.6M120.3 126.7h0.6M123.0 126.4h0.6M126.9 126.8h0.6M127.9 127.0h0.6M125.8 127.1h0.6M129.3 124.8h0.6M123.0 126.5h0.6M124.3 124.4h0.6M129.2 127.2h0.6M126.5 128.1h0.6M126.6 125.6h0.6M130.4 127.3h0.6M129.5 126.2h0.6M124.1 126.1h0.6M127.0 129.9h0.6M121.5 128.4h0.6M126.3 127.8h0.6M127.5 126.5h0.6M121.4 127.7h0.6M130.9 126.8h0.6M132.2 127.8h0.6M127.8 125.8h0.6M129.1 127.0h0.6M130.7 126.5h0.6M125.9 125.1h0.6M129.4 129.5h0.6M127.5 128.3h0.6M122.0 126.0h0.6M123.8 125.0h0.6M124.8 126.1h0.6M129.5 125.9h0.6M126.7 126.2h0.6M129.2 125.0h0.6M125.0 125.9h0.6M122.7 127.2h0.6M132.4 127.7h0.6M134.3 124.3h0.6M127.5 127.1h0.6M125.8 125.7h0.6M129.8 125.6h0.6M123.2 126.7h0.6M125.8 126.1h0.6M122.3 128.1h0.6M127.8 128.1h0.6M127.1 126.7h0.6M125.2 126.2h0.6M124.5 129.7h0.6M122.0 129.8h0.6M124.0 127.7h0.6M130.0 126.9h0.6M125.4 128.5h0.6M130.0 129.2h0.6M123.9 126.4h0.6M126.2 129.7h0.6M125.1 126.9h0.6M125.7 128.7h0.6M128.6 126.4h0.6M120.5 127.2h0.6M128.5 126.5h0.6M128.4 127.1h0.6M126.4 128.6h0.6M126.6 125.8h0.6M125.8 126.7h0.6M128.4 127.9h0.6M126.6 126.4h0.6M124.0 130.0h0.6M126.8 125.0h0.6M129.2 130.7h0.6M127.5 126.2h0.6M126.5 128.5h0.6M127.0 129.4h0.6M125.0 127.9h0.6M125.1 125.1h0.6M121.0 126.6h0.6M125.9 127.2h0.6M129.2 127.9h0.6M125.3 128.5h0.6M123.8 128.7h0.6M129.0 129.2h0.6M126.9 125.7h0.6M126.8 128.5h0.6M127.8 124.6h0.6M128.4 127.3h0.6M126.3 125.6h0.6M124.0 124.5h0.6M131.4 128.4h0.6M126.6 127.1h0.6M124.2 128.5h0.6M126.9 124.8h0.6M129.8 125.4h0.6M122.3 127.0h0.6M130.2 126.1h0.6M126.0 127.2h0.6M132.1 126.2h0.6M128.3 126.6h0.6M126.1 125.5h0.6M130.0 128.9h0.6M130.1 126.6h0.6M125.4 125.4h0.6M127.1 128.1h0.6M124.9 127.8h0.6M129.0 127.4h0.6M122.4 127.4h0.6M125.9 126.5h0.6M120.3 126.9h0.6M128.1 123.9h0.6M120.0 124.9h0.6M123.4 125.3h0.6M127.2 127.5h0.6M125.4 128.9h0.6M125.1 126.9h0.6M123.6 126.7h0.6M125.1 128.7h0.6M121.4 126.6h0.6M127.3 128.0h0.6M128.7 127.7h0.6M128.6 125.2h0.6M126.3 127.6h0.6M129.9 127.4h0.6M127.7 125.4h0.6M129.2 125.6h0.6M127.5 125.3h0.6M126.5 129.1h0.6M124.2 130.1h0.6M118.9 128.1h0.6M128.3 129.4h0.6M126.1 125.2h0.6M132.1 129.1h0.6M120.7 129.9h0.6M128.8 129.4h0.6M123.7 125.7h0.6M126.4 128.7h0.6M123.9 126.9h0.6M127.4 128.7h0.6M126.3 126.2h0.6M128.9 127.1h0.6M126.8 126.3h0.6M127.8 127.8h0.6M130.1 127.0h0.6M127.9 128.7h0.6M126.0 128.3h0.6M130.0 127.7h0.6M126.1 127.1h0.6M127.6 126.7h0.6M125.5 127.1h0.6M124.5 128.2h0.6M117.8 127.3h0.6M128.4 127.5h0.6M123.1 127.0h0.6M128.5 127.0h0.6M131.6 126.1h0.6M122.7 124.4h0.6M128.9 127.9h0.6M126.1 127.9h0.6M127.7 125.7h0.6M123.0 129.9h0.6M126.5 125.4h0.6M126.9 128.5h0.6M130.5 127.5h0.6M132.5 127.6h0.6M127.3 128.7h0.6M125.4 128.4h0.6M132.8 127.1h0.6M126.1 125.6h0.6M126.3 125.3h0.6M126.7 127.4h0.6M127.8 129.4h0.6M128.5 128.4h0.6M124.8 127.1h0.6M126.1 127.6h0.6M131.8 128.1h0.6M131.0 129.6h0.6M127.7 126.0h0.6M127.2 128.2h0.6M125.8 127.5h0.6M129.4 126.0h0.6M125.0 125.6h0.6M126.8 128.9h0.6M125.1 127.6h0.6M124.7 126.8h0.6M126.6 127.3h0.6M126.5 128.5h0.6M124.8 127.2h0.6M126.3 129.4h0.6M126.6 126.7h0.6M125.1 126.0h0.6M124.6 126.9h0.6M126.1 125.7h0.6M128.4 126.6h0.6M129.6 128.9h0.6M127.0 129.6h0.6M125.7 128.0h0.6M126.4 127.4h0.6M131.9 125.8h0.6M129.1 125.7h0.6M123.7 127.6h0.6M126.3 127.3h0.6M124.9 126.3h0.6M125.4 126.5h0.6M121.6 129.4h0.6M126.5 128.5h0.6M122.6 127.2h0.6M124.8 127.4h0.6M130.8 129.0h0.6M129.3 127.6h0.6M124.0 127.5h0.6M123.5 124.8h0.6M123.9 124.7h0.6M121.1 124.3h0.6M123.7 123.8h0.6M125.7 127.1h0.6M123.5 127.6h0.6M128.6 125.8h0.6M126.3 127.7h0.6M124.9 127.7h0.6M131.4 127.0h0.6M128.5 125.0h0.6M126.7 129.2h0.6M131.7 129.1h0.6M130.2 126.3h0.6M124.4 129.9h0.6M127.4 127.2h0.6M125.2 126.0h0.6M122.4 126.5h0.6M131.9 124.4h0.6M130.7 126.6h0.6M122.8 124.8h0.6M127.9 128.7h0.6M121.8 127.6h0.6M129.5 125.1h0.6M126.3 127.9h0.6M125.6 124.6h0.6M130.1 127.3h0.6M126.5 127.8h0.6M125.7 127.2h0.6M129.1 125.5h0.6M125.6 126.9h0.6M129.0 126.8h0.6M126.5 127.2h0.6M128.8 129.3h0.6M128.3 129.6h0.6M128.7 129.4h0.6M123.6 126.2h0.6M131.9 126.0h0.6M126.0 127.1h0.6M131.5 127.7h0.6M124.7 124.1h0.6M125.7 126.2h0.6M125.7 129.7h0.6M129.8 125.3h0.6M125.2 126.0h0.6M127.7 126.1h0.6M122.0 127.8h0.6M125.1 127.0h0.6M127.1 126.6h0.6M126.1 124.9h0.6M121.1 128.0h0.6M127.9 127.1h0.6M123.7 126.1h0.6M132.0 127.1h0.6M125.9 128.2h0.6M133.0 125.0h0.6M128.4 124.9h0.6M127.8 125.6h0.6M125.1 125.8h0.6M126.1 122.7h0.6M127.8 126.2h0.6M120.8 128.7h0.6M129.3 126.6h0.6M123.1 128.6h0.6M125.7 122.9h0.6M118.6 126.9h0.6M127.8 129.1h0.6M128.6 129.4h0.6M127.3 126.4h0.6M127.4 125.9h0.6M125.4 127.7h0.6M126.9 125.3h0.6M130.0 126.6h0.6M125.2 124.7h0.6M127.9 127.2h0.6M128.6 127.1h0.6M125.8 129.5h0.6M127.1 127.6h0.6M127.1 126.1h0.6M125.0 127.0h0.6M133.5 125.2h0.6M125.2 127.1h0.6M131.4 126.8h0.6M129.6 127.7h0.6M120.6 128.5h0.6M127.2 124.2h0.6M129.4 127.6h0.6M128.8 128.2h0.6M123.8 125.4h0.6M127.2 129.9h0.6M123.0 126.1h0.6M123.4 130.7h0.6M125.8 128.2h0.6M127.0 128.5h0.6M131.1 127.5h0.6M127.5 128.6h0.6M129.5 125.6h0.6M123.0 125.9h0.6M123.1 124.2h0.6M125.0 127.9h0.6M131.5 126.1h0.6M122.6 128.2h0.6M121.9 128.0h0.6M126.2 125.2h0.6M129.9 128.1h0.6M121.7 127.5h0.6M125.7 127.4h0.6M122.5 127.8h0.6M130.7 127.1h0.6M128.5 127.1h0.6M127.2 128.6h0.6M126.3 125.7h0.6M125.8 125.4h0.6M126.8 126.0h0.6M124.6 128.6h0.6M123.9 126.6h0.6M123.2 129.9h0.6M126.5 122.6h0.6M124.1 126.1h0.6M129.0 126.5h0.6M120.3 127.5h0.6M128.1 129.0h0.6M128.0 126.8h0.6M130.0 125.6h0.6M125.7 128.3h0.6M122.1 129.4h0.6M123.7 123.4h0.6M129.7 127.9h0.6M125.5 127.5h0.6M125.2 125.9h0.6M124.7 126.4h0.6M126.2 127.5h0.6M125.8 127.1h0.6M121.9 126.7h0.6M124.7 125.4h0.6M129.4 127.5h0.6M130.7 126.1h0.6M126.1 127.2h0.6M124.9 126.2h0.6M130.4 127.4h0.6M125.9 128.2h0.6M123.0 127.4h0.6M126.1 128.1h0.6M128.5 125.1h0.6M131.0 127.8h0.6M125.0 127.5h0.6M128.0 126.2h0.6M125.5 126.9h0.6M129.8 123.0h0.6M127.2 127.2h0.6M127.2 126.5h0.6M123.6 123.8h0.6M125.5 127.8h0.6M125.5 126.2h0.6M115.9 127.5h0.6M128.9 126.7h0.6M126.4 127.8h0.6M125.8 127.2h0.6M125.4 126.7h0.6M126.5 127.8h0.6M127.1 128.3h0.6M122.6 123.8h0.6M126.8 127.1h0.6M126.8 126.2h0.6M126.5 125.5h0.6M122.1 129.0h0.6M126.0 128.5h0.6M122.7 125.6h0.6M127.4 125.5h0.6M130.3 128.3h0.6M129.0 126.2h0.6M125.4 126.6h0.6M124.8 124.2h0.6M124.8 126.9h0.6M127.4 128.7h0.6M124.5 126.4h0.6M124.9 126.9h0.6M119.1 129.6h0.6M123.9 128.4h0.6M124.1 129.2h0.6M124.8 128.0h0.6M130.0 128.8h0.6M122.5 124.7h0.6M122.5 125.9h0.6M128.2 124.7h0.6M123.6 130.3h0.6M125.9 127.4h0.6M126.9 126.9h0.6M126.5 126.0h0.6M124.2 125.6h0.6M129.1 123.0h0.6M130.8 130.3h0.6M123.5 127.0h0.6M125.6 127.2h0.6M129.2 125.0h0.6M125.8 127.0h0.6M123.5 127.6h0.6M125.2 127.0h0.6M128.8 128.0h0.6M123.5 125.9h0.6M127.2 127.6h0.6M127.5 128.4h0.6M124.5 127.9h0.6M128.1 127.6h0.6M128.4 126.9h0.6M129.3 125.7h0.6M129.1 127.9h0.6M122.1 126.5h0.6M129.0 125.7h0.6M128.1 128.2h0.6M129.3 124.8h0.6M123.9 126.3h0.6M129.1 128.2h0.6M127.5 128.5h0.6M123.0 126.5h0.6M130.1 127.2h0.6M124.1 127.9h0.6M123.5 127.0h0.6M127.6 126.0h0.6M124.7 127.7h0.6M127.5 127.3h0.6M125.7 127.2h0.6M127.2 128.7h0.6M128.8 127.5h0.6M126.3 126.4h0.6M129.0 127.3h0.6M128.9 129.9h0.6M124.0 126.0h0.6M128.9 126.7h0.6M128.2 125.9h0.6M126.8 127.6h0.6M129.7 125.3h0.6M131.2 127.7h0.6M128.6 128.2h0.6M122.2 126.0h0.6M127.7 125.9h0.6M126.0 124.9h0.6M125.6 127.2h0.6M127.4 125.5h0.6M125.5 126.2h0.6M131.2 126.5h0.6M127.2 126.1h0.6M126.5 128.3h0.6M128.7 129.4h0.6M128.8 124.0h0.6M129.9 125.9h0.6M128.3 127.5h0.6M126.3 125.6h0.6M126.8 126.3h0.6M120.2 127.4h0.6M122.2 129.1h0.6M129.5 128.8h0.6M125.5 126.7h0.6M131.7 127.3h0.6M131.7 126.6h0.6M122.8 126.8h0.6M127.3 125.4h0.6M134.8 124.5h0.6M124.2 126.6h0.6M127.6 128.5h0.6M125.8 128.2h0.6M125.7 124.4h0.6M125.6 126.8h0.6M126.4 126.2h0.6M128.7 127.5h0.6M124.1 125.5h0.6M127.9 128.4h0.6M124.4 126.8h0.6M128.0 127.9h0.6M127.4 128.4h0.6M124.2 124.3h0.6M126.9 126.8h0.6M124.3 129.3h0.6M124.0 127.1h0.6M129.8 128.6h0.6M121.2 127.7h0.6M128.1 126.4h0.6M128.5 127.5h0.6M124.7 128.6h0.6M129.6 129.0h0.6M129.1 129.2h0.6M122.7 125.5h0.6M128.0 128.3h0.6M127.8 125.1h0.6M124.3 126.9h0.6M128.1 126.8h0.6M128.6 128.0h0.6M124.4 127.6h0.6M120.7 128.9h0.6M127.6 126.2h0.6M124.3 128.3h0.6M121.4 127.7h0.6M125.3 127.1h0.6M119.5 125.4h0.6M125.5 127.9h0.6M130.8 127.6h0.6M118.2 128.2h0.6M127.8 127.0h0.6M123.8 126.7h0.6M125.3 127.7h0.6M123.8 127.8h0.6M128.3 128.1h0.6M126.4 129.8h0.6M124.2 126.2h0.6M122.6 130.0h0.6M125.2 122.8h0.6M129.8 128.5h0.6M122.9 125.9h0.6M127.7 130.0h0.6M127.4 125.8h0.6M120.6 128.6h0.6M129.7 125.7h0.6M126.3 125.5h0.6M133.0 128.3h0.6M131.5 128.4h0.6M125.7 126.1h0.6M126.0 130.6h0.6M123.5 126.6h0.6M122.4 129.4h0.6M128.8 125.6h0.6M125.7 125.7h0.6M125.3 127.2h0.6M126.0 125.6h0.6M128.4 127.8h0.6M129.2 124.0h0.6M126.5 127.4h0.6M125.9 126.3h0.6M126.8 125.7h0.6M132.5 127.4h0.6M120.4 126.8h0.6M123.1 126.4h0.6M127.8 128.3h0.6M126.9 127.5h0.6M130.1 127.6h0.6M130.3 129.0h0.6M132.3 127.0h0.6M124.1 128.3h0.6M128.3 126.5h0.6M125.8 128.0h0.6M129.3 127.9h0.6M127.0 126.3h0.6M129.1 124.9h0.6M124.3 125.2h0.6M126.9 125.7h0.6M125.0 127.9h0.6M125.7 126.9h0.6M125.1 126.7h0.6M123.4 127.8h0.6M129.7 128.1h0.6M127.3 129.1h0.6M129.7 126.2h0.6M123.5 127.9h0.6M120.7 128.1h0.6M124.6 125.7h0.6M126.0 127.3h0.6M128.8 125.8h0.6M129.6 126.8h0.6M130.1 127.7h0.6M131.0 124.6h0.6M128.6 125.8h0.6M126.8 125.9h0.6M124.2 127.2h0.6M128.5 126.0h0.6M125.0 127.6h0.6M124.1 125.9h0.6M128.2 126.4h0.6M127.1 128.0h0.6M129.0 127.6h0.6M124.4 127.3h0.6M129.9 127.0h0.6M127.5 128.5h0.6M126.0 129.1h0.6M124.2 126.6h0.6M123.3 126.1h0.6M122.5 125.6h0.6M130.6 129.6h0.6M122.3 125.8h0.6M128.3 125.2h0.6M125.7 127.5h0.6M124.8 128.6h0.6M125.1 125.3h0.6M126.2 126.9h0.6M129.1 125.0h0.6M128.1 126.1h0.6M126.5 129.4h0.6M122.4 127.3h0.6M121.2 126.7h0.6M132.0 127.2h0.6M123.5 127.5h0.6M121.9 126.9h0.6M129.8 125.4h0.6M122.1 125.4h0.6M128.7 130.0h0.6M129.2 126.0h0.6M127.2 128.8h0.6" stroke="#000" stroke-width="0.6" stroke-opacity="0.6" fill="none"/>
<rect x="174.2" y="82.9" width="61.5" height="53.9" fill="none" stroke="#5a5a5a" stroke-width="0.8"/>
<path d="M173.3 87.4h0.9M179.3 137.7v-0.9M173.3 91.9h0.9M184.4 137.7v-0.9M173.3 96.4h0.9M189.6 137.7v-0.9M173.3 100.9h0.9M194.7 137.7v-0.9M173.3 105.4h0.9M199.8 137.7v-0.9M173.3 109.9h0.9M204.9 137.7v-0.9M173.3 114.3h0.9M210.1 137.7v-0.9M173.3 118.8h0.9M215.2 137.7v-0.9M173.3 123.3h0.9M220.3 137.7v-0.9M173.3 127.8h0.9M225.4 137.7v-0.9M173.3 132.3h0.9M230.6 137.7v-0.9" stroke="#222" stroke-width="0.8" fill="none"/>
<rect x="190.2" y="97.5" width="20" height="24.9" fill="none" stroke="#868686" stroke-width="0.65"/>
<text x="215.7" y="109.9" font-size="8.5" font-weight="700" stroke="#111" stroke-width="0.22" text-anchor="start">3.1</text>
<path d="M196.5 124.7h0.6M198.4 124.5h0.6M198.8 129.4h0.6M196.6 125.1h0.6M203.7 126.6h0.6M197.9 125.4h0.6M205.4 128.9h0.6M203.3 126.4h0.6M195.0 129.6h0.6M202.9 126.1h0.6M194.3 127.9h0.6M205.0 128.7h0.6M200.8 129.1h0.6M195.8 125.3h0.6M191.3 126.7h0.6M198.0 127.2h0.6M194.4 124.1h0.6M203.6 128.6h0.6M194.8 128.1h0.6M198.6 128.3h0.6M201.3 124.9h0.6M199.5 127.7h0.6M200.4 128.2h0.6M198.5 129.2h0.6M202.1 126.5h0.6M195.9 128.6h0.6M201.6 130.9h0.6M194.9 126.6h0.6M200.1 126.7h0.6M195.2 126.8h0.6M198.7 124.7h0.6M201.6 126.7h0.6M204.0 130.3h0.6M192.7 125.7h0.6M196.5 127.0h0.6M195.7 129.5h0.6M203.9 128.4h0.6M196.1 127.8h0.6M202.0 126.8h0.6M197.5 127.2h0.6M194.0 127.4h0.6M199.8 128.6h0.6M195.1 127.5h0.6M202.1 129.1h0.6M202.5 124.1h0.6M204.4 128.9h0.6M195.6 126.5h0.6M205.3 127.4h0.6M203.0 126.6h0.6M192.6 128.5h0.6M207.7 127.2h0.6M205.7 128.5h0.6M195.5 126.0h0.6M200.6 127.7h0.6M194.3 129.6h0.6M198.9 129.4h0.6M200.1 126.8h0.6M201.7 127.7h0.6M196.3 126.7h0.6M199.3 127.2h0.6M195.9 127.4h0.6M200.8 129.6h0.6M201.8 128.4h0.6M199.6 130.0h0.6M203.7 130.1h0.6M202.2 125.2h0.6M200.8 128.0h0.6M203.7 126.6h0.6M194.7 124.5h0.6M199.2 125.5h0.6M192.7 126.5h0.6M199.3 130.4h0.6M197.6 127.6h0.6M202.5 127.1h0.6M197.7 127.4h0.6M197.0 126.1h0.6M199.0 127.7h0.6M198.9 127.2h0.6M201.3 124.5h0.6M196.1 126.5h0.6M205.7 111.8h0.6M200.4 119.2h0.6M198.9 116.6h0.6M200.4 121.6h0.6M197.2 103.8h0.6M199.3 122.5h0.6M200.8 122.5h0.6M196.0 120.4h0.6M197.7 113.5h0.6M198.3 116.7h0.6M198.6 123.1h0.6M198.1 108.1h0.6M199.6 116.6h0.6M201.1 109.8h0.6M199.8 103.5h0.6M201.1 111.3h0.6M201.2 121.1h0.6M197.9 109.2h0.6M199.6 104.6h0.6M198.4 123.1h0.6M200.4 117.5h0.6M198.4 120.0h0.6M198.8 110.1h0.6M202.4 120.4h0.6M198.8 113.7h0.6M196.1 119.5h0.6M199.4 108.7h0.6M199.7 109.6h0.6M198.1 121.5h0.6M199.3 114.5h0.6" stroke="#111" stroke-width="0.6" stroke-opacity="0.62" fill="none"/>
<path d="M201.4 127.2h0.6M190.3 124.9h0.6M192.3 128.2h0.6M199.9 123.6h0.6M196.4 126.9h0.6M198.8 129.0h0.6M198.0 127.9h0.6M201.2 126.6h0.6M193.9 126.8h0.6M197.7 126.5h0.6M202.2 131.0h0.6M200.0 127.0h0.6M197.0 127.1h0.6M200.8 126.0h0.6M200.3 126.4h0.6M196.8 128.0h0.6M201.5 126.2h0.6M201.4 125.9h0.6M199.0 126.3h0.6M202.2 126.6h0.6M195.9 127.4h0.6M201.7 126.4h0.6M198.8 126.8h0.6M196.6 126.0h0.6M197.6 128.9h0.6M202.9 127.2h0.6M197.8 126.6h0.6M198.4 127.5h0.6M197.5 127.0h0.6M197.1 124.8h0.6M202.3 126.8h0.6M206.0 129.5h0.6M203.4 127.8h0.6M200.9 128.8h0.6M201.7 126.1h0.6M198.4 124.9h0.6M197.9 126.1h0.6M195.9 129.1h0.6M203.7 125.7h0.6M198.4 125.9h0.6M197.3 128.7h0.6M197.5 126.7h0.6M200.0 126.8h0.6M197.8 127.7h0.6M199.5 127.2h0.6M199.9 126.7h0.6M203.4 127.5h0.6M195.7 126.1h0.6M200.3 127.0h0.6M197.4 128.1h0.6M198.1 125.6h0.6M204.2 126.8h0.6M201.3 125.4h0.6M198.3 128.2h0.6M200.9 128.0h0.6M199.4 128.5h0.6M202.7 128.6h0.6M198.0 128.6h0.6M200.9 128.1h0.6M198.8 126.0h0.6M199.5 128.5h0.6M199.0 125.8h0.6M197.6 130.5h0.6M199.7 127.5h0.6M202.3 128.0h0.6M197.6 125.3h0.6M198.3 128.7h0.6M200.5 128.8h0.6M197.2 124.8h0.6M202.0 126.3h0.6M201.5 126.4h0.6M192.6 126.2h0.6M197.5 129.1h0.6M196.2 130.2h0.6M201.9 125.6h0.6M202.2 128.6h0.6M195.9 126.7h0.6M197.4 129.1h0.6M199.2 123.5h0.6M198.3 126.5h0.6M201.6 128.9h0.6M202.3 126.0h0.6M201.2 128.8h0.6M202.7 126.4h0.6M202.2 128.7h0.6M199.2 127.9h0.6M198.1 126.5h0.6M197.2 126.0h0.6M201.9 126.9h0.6M202.1 128.8h0.6M202.4 127.1h0.6M198.5 126.1h0.6M198.3 131.9h0.6M200.2 124.8h0.6M203.1 126.8h0.6M200.5 127.9h0.6M200.1 125.6h0.6M197.0 127.1h0.6M200.7 126.5h0.6M201.0 124.9h0.6M196.6 127.8h0.6M204.6 125.4h0.6M196.7 126.0h0.6M202.2 128.9h0.6M198.8 125.5h0.6M199.9 128.0h0.6M197.1 128.8h0.6M197.8 128.5h0.6M201.5 127.8h0.6M198.9 126.8h0.6M198.4 125.1h0.6M202.1 127.3h0.6M201.5 127.7h0.6M199.9 126.4h0.6M200.1 125.7h0.6M204.5 128.4h0.6M198.9 125.6h0.6M200.6 127.7h0.6M200.7 126.4h0.6M195.3 124.6h0.6M193.7 129.4h0.6M199.8 128.0h0.6M202.0 127.9h0.6M200.0 125.0h0.6M197.9 126.9h0.6M197.5 127.5h0.6M201.8 126.0h0.6M198.6 129.5h0.6M194.7 124.1h0.6M201.5 128.1h0.6M200.1 124.3h0.6M200.6 124.8h0.6M202.5 125.2h0.6M203.4 127.9h0.6M201.1 126.0h0.6M198.9 126.1h0.6M193.2 125.7h0.6M200.3 124.9h0.6M199.0 125.8h0.6M203.3 125.6h0.6M203.2 126.6h0.6M200.8 126.5h0.6M203.5 123.6h0.6M199.2 126.1h0.6M199.3 128.8h0.6M196.9 126.3h0.6M198.5 126.9h0.6M200.1 126.0h0.6M202.6 126.0h0.6M197.3 126.9h0.6M201.8 125.0h0.6M206.4 126.8h0.6M195.5 124.6h0.6M198.7 127.5h0.6M199.5 124.7h0.6M202.4 127.9h0.6M205.3 128.5h0.6M203.1 124.6h0.6M199.3 128.0h0.6M196.9 126.4h0.6M199.3 128.7h0.6M199.3 126.2h0.6M200.2 126.6h0.6M196.8 126.5h0.6M203.9 128.8h0.6M197.3 124.2h0.6M201.5 128.1h0.6M200.1 127.1h0.6M196.2 126.3h0.6M199.6 126.6h0.6M199.5 128.3h0.6M198.9 128.2h0.6M201.8 129.4h0.6M198.0 126.0h0.6M207.0 124.2h0.6M202.8 126.2h0.6M196.7 126.7h0.6M192.1 126.3h0.6M203.1 128.7h0.6M200.2 130.3h0.6M199.7 127.5h0.6M196.5 124.4h0.6M195.2 128.5h0.6M193.9 126.0h0.6M207.0 127.0h0.6M204.2 128.2h0.6M197.8 127.5h0.6M205.0 126.8h0.6M193.9 127.4h0.6M201.5 128.0h0.6M201.5 127.9h0.6M196.9 130.0h0.6M198.1 122.6h0.6M196.3 125.8h0.6M199.5 126.1h0.6M203.3 128.1h0.6M202.4 127.3h0.6M200.7 128.2h0.6M202.7 124.9h0.6M194.1 126.6h0.6M205.4 127.9h0.6M199.3 126.9h0.6M195.5 126.4h0.6M198.3 127.3h0.6M197.5 129.3h0.6M199.7 123.9h0.6M200.3 129.2h0.6M192.5 127.3h0.6M203.2 125.7h0.6M204.6 127.9h0.6M196.3 127.0h0.6M203.8 128.7h0.6M203.2 125.8h0.6M202.4 128.3h0.6M204.3 125.6h0.6M195.3 127.4h0.6M201.6 128.0h0.6M196.4 126.8h0.6M206.5 127.9h0.6M196.5 126.1h0.6M195.8 128.5h0.6M202.8 126.2h0.6M201.3 125.9h0.6M199.5 126.8h0.6M199.8 126.9h0.6M201.2 125.7h0.6M204.6 128.1h0.6M197.3 126.8h0.6M197.7 127.8h0.6M197.7 124.8h0.6M199.2 125.0h0.6M199.4 126.6h0.6M195.6 125.5h0.6M200.3 126.8h0.6M195.6 127.8h0.6M198.5 128.6h0.6M198.7 129.1h0.6M198.7 128.1h0.6M203.8 125.9h0.6M204.3 127.7h0.6M202.6 126.2h0.6M204.1 127.7h0.6M198.6 125.4h0.6M203.6 128.9h0.6M199.2 127.5h0.6M200.1 126.5h0.6M200.2 125.0h0.6M195.4 127.4h0.6M197.6 126.2h0.6M198.9 127.3h0.6M200.5 125.9h0.6M199.0 126.2h0.6M196.9 127.8h0.6M195.9 129.1h0.6M199.4 125.1h0.6M195.9 126.7h0.6M195.9 127.5h0.6M199.1 126.7h0.6M199.9 126.3h0.6M196.9 130.1h0.6M194.1 125.7h0.6M200.3 127.5h0.6M201.9 126.2h0.6M198.2 126.8h0.6M198.3 123.6h0.6M192.4 128.2h0.6M202.1 126.6h0.6M196.1 125.6h0.6M201.6 129.4h0.6M197.6 126.6h0.6M199.0 126.1h0.6M198.8 125.7h0.6M194.0 128.5h0.6M207.6 127.0h0.6M194.7 126.5h0.6M199.7 125.0h0.6M197.0 125.6h0.6M198.7 127.5h0.6M203.5 126.9h0.6M193.8 124.0h0.6M199.0 125.7h0.6M200.9 127.3h0.6M199.8 130.8h0.6M200.6 125.9h0.6M197.2 123.7h0.6M194.5 128.1h0.6M195.5 126.3h0.6M198.2 125.0h0.6M201.6 127.8h0.6M199.6 126.6h0.6M204.2 125.6h0.6M199.7 125.1h0.6M200.0 126.8h0.6M200.0 127.1h0.6M194.2 124.4h0.6M201.1 128.4h0.6M196.1 125.1h0.6M198.3 129.0h0.6M206.4 127.4h0.6M195.7 126.7h0.6M199.8 127.4h0.6M200.3 126.1h0.6M199.8 126.9h0.6M199.4 129.3h0.6M197.7 126.1h0.6M205.4 128.1h0.6M193.4 125.7h0.6M196.3 126.9h0.6M203.9 128.4h0.6M201.0 125.2h0.6M197.1 127.4h0.6M196.7 123.8h0.6M198.7 125.3h0.6M207.3 126.3h0.6M200.9 128.2h0.6M196.3 128.0h0.6M200.1 125.6h0.6M197.5 126.8h0.6M203.9 127.2h0.6M200.3 124.7h0.6M203.2 127.6h0.6M199.9 128.9h0.6M205.5 128.8h0.6M200.6 126.1h0.6M200.2 126.4h0.6M196.3 125.6h0.6M198.1 126.2h0.6M200.6 126.6h0.6M197.9 127.9h0.6M206.9 127.1h0.6M199.4 125.6h0.6M197.1 128.1h0.6M202.4 128.2h0.6M197.8 126.1h0.6M200.6 126.6h0.6M199.1 126.8h0.6M197.2 124.6h0.6M203.6 127.2h0.6M199.7 127.9h0.6M202.7 129.8h0.6M198.4 127.2h0.6M195.1 126.5h0.6M195.7 126.7h0.6M197.8 127.8h0.6M198.8 128.1h0.6M199.6 125.7h0.6M200.9 127.2h0.6M195.7 127.9h0.6M200.1 124.0h0.6M195.7 128.9h0.6M197.3 126.6h0.6M207.1 128.2h0.6M203.2 126.9h0.6M198.3 126.6h0.6M204.8 126.9h0.6M203.7 127.4h0.6M202.1 128.2h0.6M203.8 126.6h0.6M198.7 125.3h0.6M199.0 125.9h0.6M196.8 125.5h0.6M201.2 128.1h0.6M195.6 125.6h0.6M197.9 129.2h0.6M200.8 127.2h0.6M197.9 126.8h0.6M200.4 128.9h0.6M204.9 126.4h0.6M196.4 126.5h0.6M203.6 128.1h0.6M197.4 128.0h0.6M196.6 125.5h0.6M200.1 130.5h0.6M202.5 127.8h0.6M197.3 125.2h0.6M197.2 126.7h0.6M198.1 128.3h0.6M197.2 127.3h0.6M200.0 128.2h0.6M197.3 130.4h0.6M198.6 128.3h0.6M200.5 129.9h0.6M198.1 128.0h0.6M202.9 126.0h0.6M197.4 129.2h0.6M197.1 126.0h0.6M205.5 128.4h0.6M203.9 127.9h0.6M199.6 125.8h0.6M201.9 126.0h0.6M200.4 126.7h0.6M197.9 127.6h0.6M201.4 128.9h0.6M200.3 127.1h0.6M203.2 129.8h0.6M193.9 128.3h0.6M201.8 126.1h0.6M199.9 126.1h0.6M197.3 127.1h0.6M198.1 126.3h0.6M198.2 126.9h0.6M195.4 128.1h0.6M197.7 127.4h0.6M201.7 128.4h0.6M194.8 126.0h0.6M198.3 125.8h0.6M192.3 125.0h0.6M197.7 124.5h0.6M200.6 126.4h0.6M199.2 127.1h0.6M199.5 126.8h0.6M196.0 127.1h0.6M201.1 130.0h0.6M196.7 125.5h0.6M202.1 126.7h0.6M200.0 126.3h0.6M198.2 125.7h0.6M203.9 129.0h0.6M198.2 127.0h0.6M202.5 128.9h0.6M199.7 125.4h0.6M199.4 129.8h0.6M202.4 130.3h0.6M200.7 125.8h0.6M199.4 127.0h0.6M199.0 126.9h0.6M200.0 127.9h0.6M199.7 125.2h0.6M198.4 127.7h0.6M196.3 128.1h0.6M191.6 126.2h0.6M199.1 123.8h0.6M198.7 126.1h0.6M203.0 126.5h0.6M200.7 128.2h0.6M202.8 126.2h0.6M204.6 125.4h0.6M199.1 128.0h0.6M196.9 127.6h0.6M201.9 128.1h0.6M197.6 127.1h0.6M198.6 128.6h0.6M203.7 127.8h0.6M201.1 124.5h0.6M202.7 127.4h0.6M195.4 128.2h0.6M199.5 127.1h0.6M202.8 129.2h0.6M195.6 126.4h0.6M200.0 128.1h0.6M200.6 125.3h0.6M192.5 127.1h0.6M204.2 126.3h0.6M197.3 125.6h0.6M199.0 125.2h0.6M204.4 127.4h0.6M194.0 127.7h0.6M200.8 126.2h0.6M198.1 125.3h0.6M199.5 125.8h0.6M197.0 128.2h0.6M203.5 125.3h0.6M196.0 128.7h0.6M200.5 124.7h0.6M201.0 127.5h0.6M199.1 128.0h0.6M198.6 128.8h0.6M198.6 126.5h0.6M202.5 126.0h0.6M200.8 125.0h0.6M199.2 128.4h0.6M196.1 126.9h0.6M199.9 126.4h0.6M201.0 126.5h0.6M199.3 127.4h0.6M203.7 127.1h0.6M193.7 128.8h0.6M206.9 124.0h0.6M198.9 128.3h0.6M196.0 126.3h0.6M194.2 127.0h0.6M202.0 126.6h0.6M201.1 127.0h0.6M198.8 128.2h0.6M199.3 127.4h0.6M199.9 125.0h0.6M198.1 127.0h0.6M202.9 126.9h0.6M201.3 127.6h0.6M199.1 127.1h0.6M194.5 127.0h0.6M203.5 128.6h0.6M198.0 125.5h0.6M196.3 130.2h0.6M203.3 126.3h0.6M200.9 125.6h0.6M193.4 128.2h0.6M194.4 128.6h0.6M198.2 128.9h0.6M195.6 129.2h0.6M199.0 127.8h0.6M207.3 127.2h0.6M208.4 127.6h0.6M199.3 127.1h0.6M201.8 126.3h0.6M202.1 129.4h0.6M199.1 129.7h0.6M195.0 127.1h0.6M202.6 126.8h0.6M198.9 126.4h0.6M200.8 124.7h0.6M201.5 126.1h0.6M197.0 126.3h0.6M204.5 127.1h0.6M199.7 125.6h0.6M200.1 124.3h0.6M198.1 128.0h0.6M201.6 129.6h0.6M202.5 124.0h0.6M197.8 126.9h0.6M201.2 128.3h0.6M198.1 125.4h0.6M195.7 125.0h0.6M198.4 127.2h0.6M201.3 126.8h0.6M201.1 126.2h0.6M202.7 129.5h0.6M197.4 129.3h0.6M198.5 128.1h0.6M199.6 127.0h0.6M201.3 126.6h0.6M199.1 128.4h0.6M196.6 126.8h0.6M194.8 129.3h0.6M203.0 128.9h0.6M202.6 126.2h0.6M197.4 128.2h0.6M203.9 129.4h0.6M199.2 128.1h0.6M200.8 125.8h0.6M203.2 126.7h0.6M198.0 126.6h0.6M197.1 127.3h0.6M194.2 127.2h0.6M200.4 126.6h0.6M200.8 128.4h0.6M202.0 129.1h0.6M201.3 126.3h0.6M199.8 125.0h0.6M202.9 127.7h0.6M196.4 127.2h0.6M200.6 127.8h0.6M201.0 126.2h0.6M199.1 127.6h0.6M204.6 125.8h0.6M200.8 128.7h0.6M203.5 129.6h0.6M202.1 125.8h0.6M198.9 123.4h0.6M205.3 126.5h0.6M202.8 126.4h0.6M199.5 127.5h0.6M199.1 127.2h0.6M196.3 127.9h0.6M199.0 131.1h0.6M198.7 126.4h0.6M200.1 126.7h0.6M198.2 127.8h0.6M201.2 124.5h0.6M199.2 128.3h0.6M194.7 126.3h0.6M197.9 125.1h0.6M196.7 126.0h0.6M195.6 127.9h0.6M198.7 128.4h0.6M202.2 129.0h0.6M196.1 127.8h0.6M193.4 126.2h0.6M199.0 128.0h0.6M208.5 127.1h0.6M197.7 130.6h0.6M200.3 124.2h0.6M198.2 129.6h0.6M202.0 128.3h0.6M203.8 127.8h0.6M199.0 127.1h0.6M203.0 126.4h0.6M196.2 125.8h0.6M200.1 125.0h0.6M195.6 130.2h0.6M200.0 128.6h0.6M197.6 128.2h0.6M200.2 127.8h0.6M196.1 124.5h0.6M200.2 126.8h0.6M199.8 127.4h0.6M197.7 128.9h0.6M197.0 125.8h0.6M195.9 127.6h0.6M198.3 126.9h0.6M200.7 127.3h0.6M199.1 126.1h0.6M199.9 127.8h0.6M203.3 127.4h0.6M198.5 124.5h0.6M200.4 129.0h0.6M202.0 130.4h0.6M201.0 126.0h0.6M200.6 128.9h0.6M199.7 125.8h0.6M205.3 126.5h0.6M199.2 129.8h0.6M198.3 127.5h0.6M201.3 129.5h0.6M204.4 127.7h0.6M203.7 128.7h0.6M199.6 127.0h0.6M202.0 129.3h0.6M201.0 129.9h0.6M199.7 128.3h0.6M201.4 126.5h0.6M201.3 126.7h0.6M199.9 125.9h0.6M204.7 128.2h0.6M198.3 128.0h0.6M203.7 126.3h0.6M205.8 128.6h0.6M205.8 126.4h0.6M200.3 129.9h0.6M198.9 128.5h0.6M194.7 129.6h0.6M199.3 126.3h0.6M206.8 125.8h0.6M194.8 124.6h0.6M194.8 128.2h0.6M202.0 125.7h0.6M201.3 129.2h0.6M194.0 127.5h0.6M199.3 128.4h0.6M200.5 125.4h0.6M194.9 126.4h0.6M202.4 127.6h0.6M195.5 128.4h0.6M202.9 125.4h0.6M200.1 127.8h0.6M197.4 126.1h0.6M194.6 128.5h0.6M198.4 127.0h0.6M199.2 126.9h0.6M199.1 127.9h0.6M197.7 129.0h0.6M198.8 127.0h0.6M202.1 129.1h0.6M196.7 125.9h0.6M198.8 127.7h0.6M200.9 125.7h0.6M199.4 127.6h0.6M202.1 126.0h0.6M204.2 127.4h0.6M198.4 128.2h0.6M200.1 125.9h0.6M190.6 124.8h0.6M198.4 127.0h0.6M201.5 128.1h0.6M196.1 127.6h0.6M203.5 126.0h0.6M193.8 128.5h0.6M203.5 126.9h0.6M197.9 128.4h0.6M196.4 126.0h0.6M198.0 127.9h0.6M198.7 129.0h0.6M196.4 126.3h0.6M195.3 126.9h0.6M197.9 128.2h0.6M202.3 128.0h0.6M200.7 127.8h0.6M203.5 127.1h0.6M197.6 125.0h0.6M198.4 127.3h0.6M198.5 125.4h0.6M199.9 127.4h0.6M200.8 123.9h0.6M204.7 129.4h0.6M201.6 130.0h0.6M199.9 127.9h0.6M203.5 126.1h0.6M197.1 126.8h0.6M195.5 128.6h0.6M201.5 128.2h0.6M200.0 126.3h0.6M199.8 129.0h0.6M202.3 128.3h0.6M198.4 128.1h0.6M199.1 126.8h0.6M200.6 127.3h0.6M201.4 126.3h0.6M202.4 127.5h0.6M199.8 126.3h0.6M200.2 129.0h0.6M192.2 127.3h0.6M203.1 127.6h0.6M194.7 127.8h0.6M199.3 127.7h0.6M207.1 125.2h0.6M198.5 129.1h0.6M194.7 127.4h0.6M204.3 126.5h0.6M197.8 125.9h0.6M198.9 126.3h0.6M198.9 126.4h0.6M201.6 127.3h0.6M201.8 126.0h0.6M199.1 127.4h0.6M202.8 127.5h0.6M196.7 126.3h0.6M201.5 130.4h0.6M197.6 127.1h0.6M201.5 127.7h0.6M197.4 127.4h0.6M198.1 127.0h0.6M203.9 128.2h0.6M196.1 129.2h0.6M195.9 127.2h0.6M201.2 126.0h0.6M198.6 128.0h0.6M198.1 124.2h0.6M199.0 127.5h0.6M205.8 127.0h0.6M196.3 127.7h0.6M198.6 125.1h0.6M199.9 126.6h0.6M196.6 125.8h0.6M199.3 126.5h0.6M200.9 128.1h0.6M196.7 127.0h0.6M202.8 126.4h0.6M196.0 128.9h0.6M199.0 127.2h0.6M200.4 124.3h0.6M209.0 125.7h0.6M194.2 127.8h0.6M200.3 127.8h0.6M207.0 127.5h0.6M197.6 127.6h0.6M202.7 125.9h0.6M200.1 127.1h0.6M195.1 125.5h0.6M200.6 126.0h0.6M196.7 125.9h0.6" stroke="#000" stroke-width="0.6" stroke-opacity="0.6" fill="none"/>
<rect x="245.9" y="82.9" width="61.2" height="53.9" fill="none" stroke="#5a5a5a" stroke-width="0.8"/>
<path d="M245.0 87.4h0.9M251.0 137.7v-0.9M245.0 91.9h0.9M256.1 137.7v-0.9M245.0 96.4h0.9M261.2 137.7v-0.9M245.0 100.9h0.9M266.3 137.7v-0.9M245.0 105.4h0.9M271.4 137.7v-0.9M245.0 109.9h0.9M276.5 137.7v-0.9M245.0 114.3h0.9M281.6 137.7v-0.9M245.0 118.8h0.9M286.7 137.7v-0.9M245.0 123.3h0.9M291.8 137.7v-0.9M245.0 127.8h0.9M296.9 137.7v-0.9M245.0 132.3h0.9M302.0 137.7v-0.9" stroke="#222" stroke-width="0.8" fill="none"/>
<rect x="262.0" y="97.5" width="20" height="24.9" fill="none" stroke="#868686" stroke-width="0.65"/>
<text x="287.7" y="109.9" font-size="8.5" font-weight="700" stroke="#111" stroke-width="0.22" text-anchor="start">0.4</text>
<path d="M265.0 125.3h0.6M268.6 127.3h0.6M269.5 128.6h0.6M267.7 125.9h0.6M274.0 126.0h0.6M267.5 126.8h0.6M272.7 128.7h0.6M273.5 129.0h0.6M263.9 126.6h0.6M268.9 128.9h0.6M275.3 130.0h0.6M273.7 129.0h0.6M271.0 126.1h0.6M266.3 125.9h0.6M267.9 127.9h0.6M270.9 128.8h0.6M275.3 128.1h0.6M272.4 126.7h0.6M270.2 125.7h0.6M271.4 129.6h0.6M273.5 127.1h0.6M263.9 130.7h0.6M266.8 125.3h0.6M270.7 126.8h0.6M275.1 126.2h0.6M274.6 130.7h0.6M267.6 129.6h0.6M270.6 126.5h0.6M267.7 123.9h0.6M269.1 129.4h0.6M271.1 127.6h0.6M269.2 125.4h0.6M268.4 124.7h0.6M266.1 128.1h0.6M264.5 127.0h0.6M269.8 127.6h0.6M271.3 128.1h0.6M272.9 126.7h0.6M267.4 126.9h0.6M267.8 128.6h0.6M275.3 127.2h0.6M272.1 126.9h0.6M273.9 128.5h0.6M268.4 123.8h0.6M267.8 129.6h0.6M266.2 128.2h0.6M274.3 126.0h0.6M266.2 127.1h0.6M264.0 129.6h0.6M267.7 128.4h0.6M275.3 124.2h0.6M270.6 125.6h0.6M271.4 127.7h0.6M271.0 130.6h0.6M270.4 128.8h0.6M269.9 127.0h0.6M265.2 128.4h0.6M276.8 127.4h0.6M269.9 126.9h0.6M275.1 128.1h0.6M264.6 123.6h0.6M272.6 129.2h0.6M266.0 128.4h0.6M265.6 126.6h0.6M271.5 125.9h0.6M274.4 125.2h0.6M275.7 127.9h0.6M275.6 127.7h0.6M269.5 127.7h0.6M273.5 130.5h0.6M268.3 123.5h0.6M268.5 126.1h0.6M271.4 126.0h0.6M270.1 129.1h0.6M273.7 127.0h0.6M263.6 125.7h0.6M274.8 127.8h0.6M268.3 128.1h0.6M276.1 130.3h0.6M274.9 127.9h0.6M269.4 113.3h0.6M269.3 119.0h0.6M268.7 117.8h0.6M271.3 122.0h0.6" stroke="#111" stroke-width="0.6" stroke-opacity="0.62" fill="none"/>
<path d="M275.1 129.0h0.6M273.9 126.7h0.6M271.6 126.6h0.6M272.7 129.5h0.6M268.6 125.8h0.6M268.9 129.0h0.6M272.4 126.6h0.6M271.6 125.8h0.6M267.4 125.9h0.6M270.4 128.7h0.6M268.3 127.0h0.6M269.1 126.6h0.6M274.4 124.9h0.6M267.9 128.8h0.6M268.8 128.6h0.6M272.3 127.6h0.6M270.9 128.2h0.6M271.2 122.4h0.6M266.5 126.3h0.6M270.6 127.3h0.6M269.6 127.3h0.6M268.3 126.3h0.6M269.0 127.4h0.6M269.8 126.0h0.6M273.1 126.2h0.6M276.2 125.3h0.6M271.0 127.3h0.6M275.0 126.1h0.6M271.0 126.4h0.6M266.4 129.1h0.6M270.9 127.0h0.6M274.4 127.0h0.6M274.8 124.9h0.6M268.1 126.3h0.6M277.2 128.5h0.6M268.6 127.9h0.6M268.6 127.2h0.6M269.2 126.8h0.6M274.9 127.2h0.6M271.9 127.7h0.6M273.4 126.6h0.6M264.3 123.5h0.6M270.6 129.9h0.6M270.4 128.7h0.6M272.7 126.9h0.6M269.4 129.1h0.6M274.2 125.2h0.6M268.7 129.0h0.6M266.7 127.4h0.6M266.0 128.4h0.6M274.4 126.6h0.6M272.9 127.3h0.6M268.5 127.9h0.6M273.9 128.6h0.6M270.2 127.8h0.6M270.4 127.7h0.6M266.5 126.2h0.6M269.1 129.6h0.6M271.0 127.4h0.6M271.3 126.8h0.6M269.1 126.6h0.6M273.6 125.4h0.6M274.9 126.0h0.6M268.4 124.9h0.6M271.9 127.4h0.6M266.3 127.0h0.6M271.9 127.4h0.6M267.9 125.3h0.6M270.3 126.5h0.6M271.2 126.2h0.6M270.0 128.5h0.6M273.8 124.9h0.6M268.5 124.9h0.6M269.4 129.0h0.6M271.7 127.6h0.6M270.6 124.8h0.6M271.5 129.1h0.6M270.1 129.3h0.6M268.4 128.8h0.6M272.7 124.1h0.6M271.0 127.3h0.6M273.4 125.8h0.6M274.6 126.7h0.6M269.7 124.8h0.6M268.6 129.6h0.6M269.4 126.1h0.6M268.9 127.5h0.6M265.0 128.3h0.6M275.5 128.0h0.6M271.9 127.7h0.6M277.5 126.5h0.6M269.1 127.4h0.6M272.5 126.8h0.6M271.6 123.8h0.6M270.6 128.5h0.6M273.6 126.2h0.6M270.8 126.3h0.6M270.5 126.5h0.6M271.2 125.1h0.6M264.3 125.3h0.6M268.7 124.5h0.6M268.6 127.8h0.6M275.5 128.8h0.6M272.5 127.2h0.6M273.0 125.4h0.6M272.6 129.0h0.6M270.2 126.6h0.6M275.5 124.8h0.6M270.2 124.4h0.6M266.7 127.4h0.6M272.6 129.2h0.6M274.2 126.5h0.6M271.1 126.2h0.6M271.8 126.7h0.6M273.5 125.9h0.6M275.2 126.3h0.6M272.5 127.5h0.6M275.6 126.0h0.6M271.6 128.4h0.6M276.8 125.7h0.6M266.8 128.1h0.6M273.5 127.6h0.6M271.6 126.5h0.6M271.1 126.7h0.6M267.1 126.6h0.6M273.9 129.5h0.6M270.2 125.9h0.6M267.9 128.8h0.6M269.0 128.6h0.6M270.1 126.6h0.6M271.1 129.4h0.6M268.2 123.6h0.6M268.1 127.4h0.6M272.0 127.3h0.6M270.6 127.1h0.6M276.5 128.3h0.6M269.6 126.5h0.6M272.9 126.8h0.6M275.8 128.8h0.6M270.2 126.9h0.6M273.6 125.6h0.6M271.7 127.9h0.6M270.9 127.0h0.6M275.4 126.3h0.6M267.9 127.9h0.6M269.0 126.0h0.6M265.7 125.7h0.6M270.4 126.7h0.6M273.6 126.8h0.6M270.1 127.2h0.6M273.2 125.3h0.6M268.6 129.6h0.6M274.1 128.1h0.6M270.5 127.3h0.6M269.4 127.4h0.6M275.5 123.5h0.6M270.8 128.4h0.6M272.4 125.6h0.6M271.1 127.8h0.6M272.8 125.4h0.6M271.1 128.5h0.6M267.3 126.3h0.6M271.6 126.8h0.6M272.2 129.3h0.6M271.9 128.5h0.6M270.1 125.1h0.6M276.0 126.1h0.6M268.7 127.4h0.6M271.1 126.8h0.6M271.4 128.3h0.6M267.7 126.1h0.6M267.3 124.4h0.6M272.7 125.8h0.6M272.7 126.8h0.6M271.2 127.9h0.6M266.2 128.2h0.6M269.9 128.9h0.6M271.5 127.4h0.6M272.6 126.8h0.6M274.2 128.1h0.6M272.1 126.9h0.6M273.6 126.4h0.6M275.6 126.4h0.6M264.1 128.4h0.6M273.6 129.2h0.6M269.5 129.0h0.6M272.2 124.8h0.6M271.4 128.7h0.6M267.8 125.5h0.6M268.2 126.6h0.6M272.0 127.9h0.6M270.3 125.2h0.6M272.9 125.3h0.6M269.7 126.0h0.6M276.9 129.5h0.6M270.0 128.7h0.6M276.7 125.8h0.6M268.6 127.3h0.6M272.4 127.3h0.6M274.0 127.5h0.6M267.0 126.1h0.6M268.0 129.2h0.6M271.9 126.5h0.6M274.1 128.3h0.6M274.7 124.6h0.6M272.4 127.7h0.6M273.8 127.3h0.6M267.4 129.1h0.6M269.5 123.3h0.6M274.9 127.9h0.6M269.2 128.3h0.6M270.1 126.7h0.6M265.8 129.0h0.6M270.2 130.1h0.6M266.2 128.4h0.6M271.8 128.3h0.6M275.0 129.0h0.6M271.7 127.7h0.6M271.2 128.9h0.6M269.6 128.0h0.6M272.3 126.1h0.6M267.6 125.6h0.6M269.4 128.8h0.6M277.0 128.0h0.6M267.0 126.1h0.6M269.1 127.1h0.6M266.7 129.2h0.6M274.3 124.6h0.6M270.1 125.8h0.6M267.1 128.1h0.6M267.1 128.3h0.6M273.9 125.4h0.6M272.7 125.6h0.6M273.0 127.3h0.6M270.6 129.1h0.6M273.3 127.1h0.6M274.5 123.7h0.6M272.6 128.6h0.6M266.1 127.1h0.6M265.1 126.4h0.6M266.5 125.4h0.6M271.5 128.8h0.6M266.4 127.5h0.6M267.6 127.7h0.6M270.8 127.6h0.6M268.2 127.7h0.6M267.0 128.3h0.6M273.5 129.6h0.6M272.1 125.6h0.6M273.0 127.0h0.6M273.3 126.4h0.6M274.8 129.5h0.6M270.6 126.7h0.6M270.1 124.8h0.6M265.6 127.1h0.6M270.0 126.0h0.6M268.9 126.0h0.6M273.7 126.4h0.6M272.6 125.2h0.6M274.9 124.3h0.6M273.8 129.9h0.6M274.1 126.9h0.6M272.2 125.7h0.6M271.0 128.0h0.6M269.5 129.0h0.6M270.6 124.6h0.6M267.9 126.4h0.6M271.8 127.5h0.6M270.4 125.9h0.6M264.8 127.7h0.6M262.8 125.3h0.6M268.5 126.1h0.6M269.3 126.9h0.6M269.7 127.7h0.6M274.3 127.1h0.6M268.8 126.1h0.6M266.9 126.6h0.6M271.7 124.0h0.6M273.5 130.2h0.6M275.3 126.5h0.6M267.7 126.7h0.6M269.9 127.5h0.6M269.4 127.9h0.6M274.9 127.6h0.6M272.6 126.1h0.6M270.7 124.7h0.6M272.7 126.8h0.6M269.6 125.9h0.6M270.0 126.3h0.6M270.5 127.1h0.6M269.1 127.4h0.6M269.9 129.0h0.6M271.6 126.9h0.6M271.3 124.6h0.6M274.8 127.9h0.6M273.1 128.4h0.6M270.4 124.7h0.6M264.3 128.0h0.6M266.3 127.4h0.6M269.1 126.3h0.6M269.5 127.3h0.6M266.8 127.7h0.6M269.5 127.9h0.6M270.9 128.8h0.6M268.7 127.1h0.6M270.1 127.1h0.6M270.3 130.6h0.6M268.5 125.5h0.6M268.1 126.7h0.6M270.2 126.6h0.6M271.3 128.2h0.6M267.6 128.7h0.6M264.7 125.2h0.6M267.8 128.9h0.6M272.0 125.4h0.6M265.9 130.9h0.6M273.2 126.1h0.6M268.8 128.7h0.6M270.9 126.7h0.6M268.3 128.1h0.6M272.2 126.0h0.6M270.7 127.3h0.6M271.6 127.1h0.6M264.9 127.2h0.6M272.6 128.2h0.6M265.7 126.4h0.6M269.6 126.6h0.6M272.0 125.2h0.6M270.0 126.9h0.6M271.9 126.4h0.6M271.0 128.4h0.6M270.8 128.1h0.6M268.2 126.0h0.6M273.4 127.7h0.6M273.7 129.0h0.6M269.0 126.8h0.6M267.9 125.4h0.6M271.1 130.7h0.6M268.3 127.9h0.6M270.9 128.1h0.6M272.8 130.7h0.6M272.4 125.9h0.6M274.7 127.5h0.6M271.8 124.3h0.6M267.5 127.8h0.6M268.1 127.7h0.6M272.0 126.0h0.6M275.9 125.9h0.6M269.5 126.8h0.6M267.9 126.8h0.6M274.5 129.4h0.6M270.1 126.7h0.6M272.5 126.9h0.6M273.6 126.8h0.6M267.7 124.8h0.6M269.5 126.4h0.6M268.9 125.1h0.6M272.0 127.3h0.6M272.3 123.9h0.6M269.1 125.5h0.6M272.1 127.5h0.6M265.4 124.0h0.6M271.5 124.8h0.6M271.5 128.5h0.6M270.5 125.2h0.6M266.4 127.1h0.6M270.2 127.5h0.6M267.5 125.5h0.6M274.6 124.6h0.6M269.7 129.3h0.6M269.9 126.3h0.6M270.2 127.8h0.6M272.0 126.0h0.6M270.7 127.6h0.6M272.0 125.2h0.6M267.9 125.1h0.6M273.6 125.6h0.6M269.1 126.2h0.6M272.6 126.2h0.6M271.2 126.6h0.6M273.5 127.7h0.6M270.3 126.3h0.6M266.3 128.4h0.6M267.2 126.1h0.6M269.8 128.0h0.6M274.4 129.0h0.6M269.3 129.6h0.6M270.6 124.2h0.6M274.0 129.6h0.6M268.9 124.5h0.6M271.4 129.1h0.6M271.3 127.1h0.6M268.8 127.6h0.6M271.1 125.7h0.6M273.4 128.4h0.6M273.4 128.1h0.6M269.5 126.3h0.6M278.7 126.2h0.6M271.5 128.3h0.6M269.7 128.6h0.6M268.5 128.2h0.6M267.7 126.5h0.6M272.8 127.1h0.6M262.4 128.5h0.6M270.1 128.3h0.6M266.6 128.7h0.6M270.0 127.3h0.6M270.4 126.1h0.6M266.8 127.5h0.6M267.7 127.7h0.6M274.1 126.3h0.6M268.9 127.7h0.6M270.5 125.9h0.6M269.6 127.5h0.6M272.8 126.2h0.6M273.9 130.2h0.6M273.1 128.8h0.6M272.0 127.5h0.6M272.1 125.2h0.6M267.1 125.3h0.6M274.2 128.1h0.6M268.9 126.9h0.6M268.0 127.5h0.6M269.4 124.8h0.6M268.2 124.9h0.6M271.6 127.3h0.6M272.5 126.8h0.6M274.1 125.2h0.6M270.2 125.9h0.6M268.8 128.2h0.6M269.7 126.5h0.6M267.2 127.9h0.6M268.4 129.5h0.6M276.1 127.6h0.6M268.3 127.3h0.6M269.2 126.2h0.6M272.3 128.9h0.6M271.2 125.0h0.6M272.6 125.5h0.6M268.0 127.1h0.6M267.5 125.0h0.6M274.2 128.5h0.6M268.6 126.2h0.6M270.2 127.9h0.6M271.1 126.6h0.6M265.3 126.7h0.6M269.9 127.1h0.6M268.7 124.2h0.6M272.0 125.5h0.6M269.6 126.4h0.6M264.1 130.3h0.6M272.7 128.3h0.6M263.3 128.1h0.6M269.3 125.6h0.6M268.5 128.4h0.6M268.8 128.9h0.6M270.4 128.2h0.6M273.2 130.9h0.6M268.0 125.1h0.6M268.8 125.5h0.6M272.6 126.7h0.6M271.9 125.7h0.6M272.5 127.2h0.6M271.4 127.8h0.6M269.8 127.1h0.6M269.1 127.2h0.6M269.1 127.7h0.6M273.0 128.2h0.6M274.7 126.1h0.6M276.1 126.1h0.6M267.6 128.8h0.6M269.8 126.6h0.6M270.5 125.9h0.6M270.0 127.5h0.6M267.3 126.6h0.6M276.6 127.3h0.6M274.7 127.0h0.6M270.0 128.0h0.6M269.2 128.4h0.6M270.5 125.9h0.6M267.1 125.3h0.6M269.5 129.4h0.6M272.7 126.1h0.6M275.2 124.8h0.6M273.0 124.3h0.6M274.2 127.0h0.6M267.5 126.1h0.6M261.3 124.4h0.6M274.4 125.7h0.6M271.0 125.5h0.6M270.3 128.5h0.6M275.2 127.4h0.6M267.8 127.1h0.6M267.8 125.2h0.6M268.4 126.8h0.6M275.1 128.0h0.6M273.2 127.3h0.6M265.4 128.6h0.6M275.2 127.2h0.6M270.5 128.1h0.6M271.7 127.7h0.6M268.3 126.3h0.6M275.8 129.0h0.6M271.7 127.6h0.6M274.2 128.3h0.6M267.7 125.5h0.6M272.5 125.5h0.6M270.7 126.8h0.6M269.9 125.9h0.6M268.2 128.0h0.6M268.5 127.7h0.6M267.2 128.9h0.6M268.6 127.9h0.6M270.4 125.4h0.6M272.1 128.5h0.6M266.1 126.1h0.6M267.5 126.0h0.6M268.7 127.2h0.6M265.8 127.1h0.6M269.7 128.6h0.6M269.7 131.2h0.6M269.9 127.7h0.6M271.7 129.2h0.6M273.2 126.8h0.6M272.8 127.6h0.6M271.3 126.3h0.6M272.2 126.5h0.6M268.2 129.0h0.6M267.8 127.7h0.6M272.3 127.7h0.6M272.1 125.9h0.6M276.7 129.6h0.6M269.8 126.8h0.6M267.7 126.1h0.6M271.3 127.0h0.6M269.2 128.1h0.6M267.9 128.2h0.6M274.4 129.2h0.6M276.0 125.5h0.6M271.5 126.5h0.6M268.6 129.3h0.6M271.2 130.4h0.6M270.3 126.2h0.6M266.5 126.9h0.6M272.9 124.8h0.6M271.5 125.9h0.6M274.1 125.8h0.6M268.9 126.9h0.6M270.4 125.4h0.6M270.2 128.4h0.6M265.6 127.0h0.6M277.7 126.7h0.6M264.5 128.4h0.6M267.2 126.7h0.6M269.5 125.3h0.6M266.0 127.1h0.6M271.7 130.2h0.6M269.2 127.2h0.6M270.7 127.8h0.6M271.2 126.8h0.6M270.7 126.8h0.6M270.8 127.8h0.6M270.1 123.3h0.6M271.7 125.3h0.6M272.8 126.2h0.6M269.8 126.7h0.6M269.2 129.2h0.6M269.4 130.6h0.6M271.4 128.0h0.6M269.5 127.7h0.6M269.4 128.1h0.6M266.2 129.3h0.6M276.1 125.7h0.6M267.0 126.4h0.6M275.4 127.3h0.6M272.8 127.5h0.6M273.5 124.3h0.6M271.3 127.7h0.6M272.0 124.8h0.6M271.4 128.2h0.6M272.3 128.3h0.6M273.0 123.8h0.6M274.9 127.8h0.6M267.7 127.4h0.6M272.0 126.2h0.6M275.2 128.5h0.6M274.6 130.0h0.6M267.6 127.8h0.6M271.5 125.5h0.6M271.4 125.0h0.6M271.3 125.4h0.6M264.1 125.6h0.6M273.1 128.7h0.6M266.0 127.5h0.6M276.9 127.0h0.6M272.5 128.3h0.6M270.3 127.1h0.6M272.4 127.1h0.6M271.0 125.9h0.6M269.1 126.2h0.6M270.3 127.1h0.6M271.6 125.4h0.6M268.3 129.5h0.6M272.7 127.3h0.6M273.8 126.3h0.6M273.7 128.5h0.6M274.0 125.5h0.6M274.4 128.6h0.6M272.7 127.2h0.6M274.4 129.8h0.6M270.8 126.3h0.6M271.8 126.5h0.6M274.8 125.9h0.6M276.3 125.3h0.6M269.6 127.4h0.6M266.4 125.5h0.6M276.9 127.5h0.6M274.0 126.2h0.6M275.9 128.6h0.6M273.3 123.4h0.6M271.4 127.7h0.6M268.8 127.1h0.6M267.9 127.1h0.6M274.9 126.2h0.6M273.5 129.6h0.6M271.6 126.5h0.6M267.4 127.7h0.6M269.1 126.7h0.6M268.9 126.6h0.6M269.8 127.2h0.6M262.3 128.0h0.6M271.3 125.5h0.6M275.2 126.4h0.6M269.1 125.0h0.6M270.7 127.6h0.6M271.5 125.8h0.6M267.8 126.0h0.6M271.9 128.0h0.6M268.3 127.1h0.6M269.4 127.7h0.6M271.4 126.9h0.6M270.5 127.7h0.6M270.9 127.2h0.6M268.0 125.5h0.6M272.8 127.4h0.6M267.5 126.6h0.6M273.1 126.7h0.6M269.3 127.5h0.6M267.2 126.3h0.6M270.4 125.5h0.6M267.6 128.8h0.6M269.1 129.7h0.6M270.2 126.6h0.6M272.9 128.7h0.6M273.0 127.6h0.6M272.1 126.1h0.6M269.8 125.9h0.6M266.2 126.7h0.6M270.0 126.4h0.6M269.7 126.6h0.6M270.3 126.9h0.6M269.1 125.4h0.6M269.1 128.3h0.6M273.0 125.4h0.6M266.8 125.5h0.6M270.7 128.4h0.6M274.3 128.2h0.6M268.4 129.2h0.6M267.8 127.3h0.6M270.0 126.1h0.6M269.7 128.7h0.6M271.4 126.9h0.6M274.6 126.9h0.6M270.3 125.8h0.6M272.3 127.7h0.6M269.0 123.6h0.6M269.2 127.8h0.6M271.5 124.2h0.6M268.7 128.3h0.6M274.2 124.8h0.6M269.5 128.1h0.6M270.2 130.6h0.6M267.6 126.7h0.6M269.4 125.4h0.6M267.7 129.9h0.6M269.2 126.4h0.6M265.5 125.5h0.6M270.6 128.9h0.6M275.8 123.0h0.6M265.2 124.9h0.6M275.8 125.2h0.6M270.3 126.1h0.6M273.3 124.1h0.6M267.7 128.3h0.6M276.6 128.6h0.6M267.5 127.0h0.6M270.4 126.5h0.6M275.2 124.8h0.6M266.9 127.7h0.6M263.8 126.1h0.6M270.4 128.0h0.6M268.4 128.5h0.6M267.8 127.1h0.6M268.0 124.0h0.6M266.3 125.7h0.6M274.8 129.0h0.6M274.2 127.5h0.6M266.6 129.1h0.6M270.3 123.8h0.6M269.3 126.9h0.6M273.9 126.8h0.6M268.2 124.7h0.6M275.4 126.1h0.6M270.7 128.5h0.6M268.3 127.9h0.6M270.4 126.3h0.6M268.9 127.5h0.6M277.3 128.8h0.6M271.1 125.5h0.6M269.2 127.5h0.6M270.9 128.6h0.6M275.0 126.1h0.6M267.8 129.0h0.6M265.6 126.9h0.6M274.5 128.7h0.6M272.5 128.4h0.6M269.3 127.5h0.6M270.4 126.7h0.6M273.9 126.1h0.6M262.5 127.3h0.6M274.4 127.4h0.6M270.1 129.1h0.6M272.6 127.0h0.6M270.5 127.6h0.6M279.8 129.5h0.6M268.8 127.5h0.6M273.9 127.7h0.6M262.9 129.4h0.6M270.7 127.2h0.6M273.0 127.7h0.6M266.0 128.2h0.6M264.6 126.9h0.6M270.9 125.5h0.6M273.6 125.0h0.6M274.2 126.8h0.6M268.6 128.7h0.6M271.7 128.5h0.6M266.4 129.4h0.6M275.8 128.4h0.6M268.9 126.1h0.6" stroke="#000" stroke-width="0.6" stroke-opacity="0.6" fill="none"/>
<path d="M15.8 73V37" stroke="#111" stroke-width="0.9" fill="none"/>
<path d="M15.9 31L11.9 38H19.9Z" fill="#111"/>
<text x="10.2" y="67.2" font-size="8.6" font-weight="700" stroke="#111" stroke-width="0.22" text-anchor="start" transform="rotate(-90 10.2 67.2)" textLength="23.2" lengthAdjust="spacingAndGlyphs">CD107</text>
<path d="M15.7 108V145.3H291" stroke="#111" stroke-width="0.9" fill="none"/>
<path d="M15.9 102.4L11.7 109.4H20.2Z" fill="#111"/>
<path d="M297.6 145.5L290 141.8V149.2Z" fill="#111"/>
<text x="9.6" y="139.6" font-size="8.4" font-weight="700" stroke="#111" stroke-width="0.22" text-anchor="start" transform="rotate(-90 9.6 139.6)" textLength="18.4" lengthAdjust="spacingAndGlyphs">IFN-γ</text>
<text x="155" y="156.6" font-size="8.5" font-weight="700" stroke="#111" stroke-width="0.22" text-anchor="start" textLength="26.8" lengthAdjust="spacingAndGlyphs">NKp46</text>
</g>
<g id="panelB">
<text x="5" y="176.9" font-size="10.2" font-weight="700" text-anchor="start" stroke="#111" stroke-width="0.35">B</text>
<text x="83.8" y="183.8" font-size="8.6" font-weight="700" stroke="#111" stroke-width="0.25">CD107<tspan font-size="5.5" dy="-2.2">+</tspan></text>
<path d="M33.0 196.6V282.5" stroke="#111" stroke-width="1.3" fill="none"/>
<path d="M29.6 281.9H180" stroke="#111" stroke-width="1.2" fill="none"/>
<text x="29.3" y="285.0" font-size="8.8" font-weight="700" stroke="#111" stroke-width="0.22" text-anchor="end">0</text>
<text x="29.3" y="268.1" font-size="8.8" font-weight="700" stroke="#111" stroke-width="0.22" text-anchor="end">10</text>
<text x="29.3" y="251.1" font-size="8.8" font-weight="700" stroke="#111" stroke-width="0.22" text-anchor="end">20</text>
<text x="29.3" y="234.1" font-size="8.8" font-weight="700" stroke="#111" stroke-width="0.22" text-anchor="end">30</text>
<text x="29.3" y="217.1" font-size="8.8" font-weight="700" stroke="#111" stroke-width="0.22" text-anchor="end">40</text>
<text x="29.3" y="200.2" font-size="8.8" font-weight="700" stroke="#111" stroke-width="0.22" text-anchor="end">50</text>
<path d="M29.6 264.9H33.0M29.6 247.9H33.0M29.6 231.0H33.0M29.6 214.0H33.0M29.6 197.0H33.0M41.8 281.9v3.3M60.1 281.9v3.3M78.4 281.9v3.3M96.7 281.9v3.3M115.0 281.9v3.3M133.3 281.9v3.3M151.7 281.9v3.3M170.0 281.9v3.3" stroke="#111" stroke-width="1.1" fill="none"/>
<text x="14.1" y="267.2" font-size="9.2" text-anchor="start" transform="rotate(-90 14.1 267.2)" textLength="55.5" lengthAdjust="spacingAndGlyphs" stroke="#111" stroke-width="0.25">Frequency (%)</text>
<circle cx="41.8" cy="199.6" r="1.7" fill="#0a0a0a"/>
<text x="47.5" y="202.6" font-size="8.2" font-weight="700" stroke="#111" stroke-width="0.22" text-anchor="start" textLength="24.5" lengthAdjust="spacingAndGlyphs">huNSG</text>
<circle cx="41.8" cy="214.3" r="1.35" fill="#fff" stroke="#0a0a0a" stroke-width="1.1"/>
<text x="47.5" y="217.3" font-size="8.2" font-weight="700" stroke="#111" stroke-width="0.22" text-anchor="start" textLength="21.3" lengthAdjust="spacingAndGlyphs">PBMC</text>
<circle cx="41.5" cy="275.7" r="1.85" fill="#0a0a0a"/>
<circle cx="43.0" cy="275.9" r="1.85" fill="#0a0a0a"/>
<circle cx="37.5" cy="278.7" r="1.85" fill="#0a0a0a"/>
<circle cx="39.6" cy="278.4" r="1.85" fill="#0a0a0a"/>
<circle cx="41.8" cy="278.1" r="1.85" fill="#0a0a0a"/>
<circle cx="44.0" cy="278.4" r="1.85" fill="#0a0a0a"/>
<circle cx="46.2" cy="278.7" r="1.85" fill="#0a0a0a"/>
<circle cx="39.4" cy="280.4" r="1.85" fill="#0a0a0a"/>
<circle cx="41.8" cy="280.4" r="1.85" fill="#0a0a0a"/>
<circle cx="44.4" cy="280.4" r="1.85" fill="#0a0a0a"/>
<circle cx="40.8" cy="282.0" r="1.85" fill="#0a0a0a"/>
<circle cx="43.0" cy="282.0" r="1.85" fill="#0a0a0a"/>
<path d="M35.4 279.2H48.8" stroke="#111" stroke-width="0.9"/>
<circle cx="57.5" cy="280.2" r="1.35" fill="#fff" stroke="#0a0a0a" stroke-width="1.1"/>
<circle cx="63.3" cy="280.2" r="1.35" fill="#fff" stroke="#0a0a0a" stroke-width="1.1"/>
<circle cx="60.5" cy="280.7" r="1.35" fill="#fff" stroke="#0a0a0a" stroke-width="1.1"/>
<path d="M55.1 280.4H66.1" stroke="#111" stroke-width="0.9"/>
<circle cx="78.0" cy="272.6" r="1.85" fill="#0a0a0a"/>
<circle cx="78.2" cy="275.6" r="1.85" fill="#0a0a0a"/>
<circle cx="74.2" cy="278.8" r="1.85" fill="#0a0a0a"/>
<circle cx="76.3" cy="278.5" r="1.85" fill="#0a0a0a"/>
<circle cx="78.4" cy="278.1" r="1.85" fill="#0a0a0a"/>
<circle cx="80.7" cy="278.5" r="1.85" fill="#0a0a0a"/>
<circle cx="82.9" cy="278.8" r="1.85" fill="#0a0a0a"/>
<circle cx="76.0" cy="280.5" r="1.85" fill="#0a0a0a"/>
<circle cx="78.4" cy="280.4" r="1.85" fill="#0a0a0a"/>
<circle cx="81.0" cy="280.5" r="1.85" fill="#0a0a0a"/>
<circle cx="77.4" cy="282.0" r="1.85" fill="#0a0a0a"/>
<circle cx="79.6" cy="282.0" r="1.85" fill="#0a0a0a"/>
<path d="M71.8 278.6H85.2" stroke="#111" stroke-width="0.9"/>
<circle cx="93.9" cy="280.7" r="1.35" fill="#fff" stroke="#0a0a0a" stroke-width="1.1"/>
<circle cx="100.1" cy="280.9" r="1.35" fill="#fff" stroke="#0a0a0a" stroke-width="1.1"/>
<circle cx="97.1" cy="281.2" r="1.35" fill="#fff" stroke="#0a0a0a" stroke-width="1.1"/>
<path d="M91.7 281.1H102.7" stroke="#111" stroke-width="0.9"/>
<circle cx="115.0" cy="234.1" r="1.95" fill="#0a0a0a"/>
<circle cx="109.3" cy="239.5" r="1.95" fill="#0a0a0a"/>
<circle cx="115.0" cy="240.8" r="1.95" fill="#0a0a0a"/>
<circle cx="118.5" cy="243.7" r="1.95" fill="#0a0a0a"/>
<circle cx="115.0" cy="246.6" r="1.95" fill="#0a0a0a"/>
<circle cx="118.5" cy="248.5" r="1.95" fill="#0a0a0a"/>
<circle cx="109.3" cy="251.4" r="1.95" fill="#0a0a0a"/>
<circle cx="115.0" cy="252.4" r="1.95" fill="#0a0a0a"/>
<circle cx="112.2" cy="256.8" r="1.95" fill="#0a0a0a"/>
<circle cx="115.0" cy="260.1" r="1.95" fill="#0a0a0a"/>
<circle cx="118.5" cy="260.1" r="1.95" fill="#0a0a0a"/>
<path d="M108.9 248.5H121.8" stroke="#111" stroke-width="0.9"/>
<circle cx="133.7" cy="210.3" r="1.5" fill="#fff" stroke="#0a0a0a" stroke-width="1.1"/>
<circle cx="133.7" cy="226.2" r="1.5" fill="#fff" stroke="#0a0a0a" stroke-width="1.1"/>
<circle cx="133.7" cy="242.9" r="1.5" fill="#fff" stroke="#0a0a0a" stroke-width="1.1"/>
<path d="M126.6 226.2H140.2" stroke="#111" stroke-width="0.9"/>
<circle cx="145.9" cy="262.6" r="1.95" fill="#0a0a0a"/>
<circle cx="154.9" cy="259.7" r="1.95" fill="#0a0a0a"/>
<circle cx="151.3" cy="264.5" r="1.95" fill="#0a0a0a"/>
<circle cx="154.9" cy="266.0" r="1.95" fill="#0a0a0a"/>
<circle cx="151.3" cy="270.9" r="1.95" fill="#0a0a0a"/>
<path d="M144.9 264.9H157.8" stroke="#111" stroke-width="0.9"/>
<circle cx="170.0" cy="267.0" r="1.5" fill="#fff" stroke="#0a0a0a" stroke-width="1.1"/>
<circle cx="173.2" cy="272.8" r="1.5" fill="#fff" stroke="#0a0a0a" stroke-width="1.1"/>
<circle cx="170.0" cy="274.7" r="1.5" fill="#fff" stroke="#0a0a0a" stroke-width="1.1"/>
<path d="M163.2 271.2H176.3" stroke="#111" stroke-width="0.9"/>
<text x="56.2" y="296.2" font-size="8.2" font-weight="700" stroke="#111" stroke-width="0.2" text-anchor="end" transform="rotate(-45 56.2 296.2)" textLength="30.5" lengthAdjust="spacingAndGlyphs">medium</text>
<text x="93.0" y="296.6" font-size="8.2" font-weight="700" stroke="#111" stroke-width="0.2" text-anchor="end" transform="rotate(-45 93.0 296.6)" textLength="35.5" lengthAdjust="spacingAndGlyphs">+IL-12/15</text>
<text x="129.4" y="296.4" font-size="8.2" font-weight="700" stroke="#111" stroke-width="0.2" text-anchor="end" transform="rotate(-45 129.4 296.4)" textLength="24.5" lengthAdjust="spacingAndGlyphs">+K562</text>
<text x="165.2" y="296.8" font-size="8.2" font-weight="700" stroke="#111" stroke-width="0.2" text-anchor="end" transform="rotate(-45 165.2 296.8)" textLength="22.5" lengthAdjust="spacingAndGlyphs">+CEM</text>
<text x="268.0" y="179.0" font-size="8" font-weight="700" stroke="#111" stroke-width="0.25">IFN-γ<tspan font-size="5" dy="-2.4">+</tspan></text>
<path d="M211.8 190.8V282.4" stroke="#111" stroke-width="1.3" fill="none"/>
<path d="M208.2 281.3H369" stroke="#111" stroke-width="1.2" fill="none"/>
<text x="207.6" y="285.1" font-size="9.4" font-weight="700" stroke="#111" stroke-width="0.22" text-anchor="end">0</text>
<text x="207.6" y="262.5" font-size="9.4" font-weight="700" stroke="#111" stroke-width="0.22" text-anchor="end">5</text>
<text x="207.6" y="239.9" font-size="9.4" font-weight="700" stroke="#111" stroke-width="0.22" text-anchor="end">10</text>
<text x="207.6" y="217.3" font-size="9.4" font-weight="700" stroke="#111" stroke-width="0.22" text-anchor="end">15</text>
<text x="207.6" y="194.7" font-size="9.4" font-weight="700" stroke="#111" stroke-width="0.22" text-anchor="end">20</text>
<path d="M208.2 259.2H211.8M208.2 236.6H211.8M208.2 214.0H211.8M208.2 191.4H211.8M221.4 281.8v3.4M240.9 281.8v3.4M260.4 281.8v3.4M279.9 281.8v3.4M299.4 281.8v3.4M318.9 281.8v3.4M338.4 281.8v3.4M357.9 281.8v3.4" stroke="#111" stroke-width="1.1" fill="none"/>
<text x="191.8" y="266.2" font-size="9.6" text-anchor="start" transform="rotate(-90 191.8 266.2)" textLength="63.5" lengthAdjust="spacingAndGlyphs" stroke="#111" stroke-width="0.25">Frequency (%)</text>
<circle cx="221.4" cy="279.3" r="1.95" fill="#0a0a0a"/>
<circle cx="219.6" cy="280.4" r="1.95" fill="#0a0a0a"/>
<circle cx="223.2" cy="280.4" r="1.95" fill="#0a0a0a"/>
<circle cx="221.4" cy="281.1" r="1.95" fill="#0a0a0a"/>
<circle cx="218.2" cy="281.3" r="1.95" fill="#0a0a0a"/>
<circle cx="224.6" cy="281.3" r="1.95" fill="#0a0a0a"/>
<path d="M215.4 280.7H227.4" stroke="#111" stroke-width="0.9"/>
<circle cx="237.9" cy="280.2" r="1.35" fill="#fff" stroke="#0a0a0a" stroke-width="1.1"/>
<circle cx="244.1" cy="280.4" r="1.35" fill="#fff" stroke="#0a0a0a" stroke-width="1.1"/>
<path d="M234.9 280.4H246.9" stroke="#111" stroke-width="0.9"/>
<circle cx="260.4" cy="277.7" r="1.95" fill="#0a0a0a"/>
<circle cx="258.6" cy="279.5" r="1.95" fill="#0a0a0a"/>
<circle cx="262.2" cy="279.5" r="1.95" fill="#0a0a0a"/>
<circle cx="260.4" cy="280.4" r="1.95" fill="#0a0a0a"/>
<circle cx="257.2" cy="280.9" r="1.95" fill="#0a0a0a"/>
<circle cx="263.6" cy="280.9" r="1.95" fill="#0a0a0a"/>
<path d="M254.4 279.8H266.4" stroke="#111" stroke-width="0.9"/>
<circle cx="276.9" cy="279.5" r="1.35" fill="#fff" stroke="#0a0a0a" stroke-width="1.1"/>
<circle cx="283.1" cy="280.0" r="1.35" fill="#fff" stroke="#0a0a0a" stroke-width="1.1"/>
<path d="M273.9 280.0H285.9" stroke="#111" stroke-width="0.9"/>
<circle cx="299.5" cy="257.4" r="1.95" fill="#0a0a0a"/>
<circle cx="299.5" cy="268.7" r="1.95" fill="#0a0a0a"/>
<circle cx="296.6" cy="276.2" r="1.95" fill="#0a0a0a"/>
<circle cx="299.5" cy="274.6" r="1.95" fill="#0a0a0a"/>
<circle cx="302.3" cy="276.6" r="1.95" fill="#0a0a0a"/>
<circle cx="299.6" cy="277.4" r="1.95" fill="#0a0a0a"/>
<circle cx="298.0" cy="275.5" r="1.95" fill="#0a0a0a"/>
<circle cx="301.0" cy="275.0" r="1.95" fill="#0a0a0a"/>
<path d="M293.1 273.2H306.2" stroke="#111" stroke-width="0.9"/>
<circle cx="318.9" cy="194.3" r="1.5" fill="#fff" stroke="#0a0a0a" stroke-width="1.1"/>
<circle cx="318.9" cy="215.1" r="1.5" fill="#fff" stroke="#0a0a0a" stroke-width="1.1"/>
<circle cx="319.2" cy="232.1" r="1.5" fill="#fff" stroke="#0a0a0a" stroke-width="1.1"/>
<path d="M312.4 213.8H325.9" stroke="#111" stroke-width="0.9"/>
<circle cx="338.4" cy="260.6" r="1.95" fill="#0a0a0a"/>
<circle cx="332.3" cy="267.4" r="1.95" fill="#0a0a0a"/>
<circle cx="341.9" cy="267.0" r="1.95" fill="#0a0a0a"/>
<circle cx="338.4" cy="269.3" r="1.95" fill="#0a0a0a"/>
<circle cx="338.4" cy="276.1" r="1.95" fill="#0a0a0a"/>
<path d="M330.3 267.8H344.8" stroke="#111" stroke-width="0.9"/>
<circle cx="355.4" cy="266.0" r="1.35" fill="#fff" stroke="#0a0a0a" stroke-width="1.1"/>
<circle cx="359.6" cy="266.9" r="1.35" fill="#fff" stroke="#0a0a0a" stroke-width="1.1"/>
<path d="M351.3 266.5H365.5" stroke="#111" stroke-width="0.9"/>
<text x="239.8" y="291.6" font-size="8.2" font-weight="700" stroke="#111" stroke-width="0.2" text-anchor="end" transform="rotate(-45 239.8 291.6)" textLength="30.5" lengthAdjust="spacingAndGlyphs">medium</text>
<text x="274.6" y="291.6" font-size="8.2" font-weight="700" stroke="#111" stroke-width="0.2" text-anchor="end" transform="rotate(-45 274.6 291.6)" textLength="35.5" lengthAdjust="spacingAndGlyphs">+IL-12/15</text>
<text x="314.8" y="291.6" font-size="8.2" font-weight="700" stroke="#111" stroke-width="0.2" text-anchor="end" transform="rotate(-45 314.8 291.6)" textLength="24.5" lengthAdjust="spacingAndGlyphs">+K562</text>
<text x="351.8" y="291.8" font-size="8.2" font-weight="700" stroke="#111" stroke-width="0.2" text-anchor="end" transform="rotate(-45 351.8 291.8)" textLength="22.5" lengthAdjust="spacingAndGlyphs">+CEM</text>
</g>
<g id="panelC">
<text x="366.9" y="12.6" font-size="10.2" font-weight="700" text-anchor="start" textLength="7.2" lengthAdjust="spacingAndGlyphs" stroke="#111" stroke-width="0.35">C</text>
<rect x="365.7" y="22.3" width="9.9" height="8.3" fill="#0d0d0d"/>
<rect x="366.1" y="37.6" width="9.1" height="7.5" fill="#fff" stroke="#111" stroke-width="0.8"/>
<text x="377.5" y="30.5" font-size="7.8" font-weight="700" stroke="#111" stroke-width="0.22" text-anchor="start" textLength="20.8" lengthAdjust="spacingAndGlyphs">PBMC</text>
<text x="377.5" y="45.2" font-size="7.8" font-weight="700" stroke="#111" stroke-width="0.22" text-anchor="start" textLength="24.2" lengthAdjust="spacingAndGlyphs">huNSG</text>
<path d="M425.4 79.0V65.3M422.9 65.3H427.9" stroke="#1a1a1a" stroke-width="0.95" fill="none"/>
<rect x="421.0" y="79.0" width="8.8" height="61.9" fill="#0d0d0d"/>
<path d="M437.9 67.0V66.6M435.4 66.6H440.4" stroke="#1a1a1a" stroke-width="0.95" fill="none"/>
<rect x="433.9" y="67.4" width="7.9" height="73.5" fill="#fff" stroke="#111" stroke-width="0.8"/>
<path d="M458.9 42.7V31.0M456.4 31.0H461.4" stroke="#1a1a1a" stroke-width="0.95" fill="none"/>
<rect x="454.5" y="42.7" width="8.7" height="98.2" fill="#0d0d0d"/>
<path d="M471.2 104.8V96.6M468.7 96.6H473.7" stroke="#1a1a1a" stroke-width="0.95" fill="none"/>
<rect x="467.2" y="105.2" width="8.0" height="35.7" fill="#fff" stroke="#111" stroke-width="0.8"/>
<path d="M492.5 42.2V34.3M490.0 34.3H495.0" stroke="#1a1a1a" stroke-width="0.95" fill="none"/>
<rect x="488.1" y="42.2" width="8.8" height="98.7" fill="#0d0d0d"/>
<path d="M504.7 105.6V90.4M502.2 90.4H507.2" stroke="#1a1a1a" stroke-width="0.95" fill="none"/>
<rect x="500.7" y="106.0" width="8.0" height="34.9" fill="#fff" stroke="#111" stroke-width="0.8"/>
<path d="M414.6 25.9V140.9H515.5" stroke="#111" stroke-width="1.1" fill="none"/>
<text x="411.2" y="144.0" font-size="8.6" font-weight="700" stroke="#111" stroke-width="0.22" text-anchor="end" textLength="4.7" lengthAdjust="spacingAndGlyphs">0</text>
<text x="411.2" y="115.5" font-size="8.6" font-weight="700" stroke="#111" stroke-width="0.22" text-anchor="end" textLength="4.7" lengthAdjust="spacingAndGlyphs">5</text>
<text x="411.2" y="87.0" font-size="8.6" font-weight="700" stroke="#111" stroke-width="0.22" text-anchor="end" textLength="9.3" lengthAdjust="spacingAndGlyphs">10</text>
<text x="411.2" y="58.5" font-size="8.6" font-weight="700" stroke="#111" stroke-width="0.22" text-anchor="end" textLength="9.3" lengthAdjust="spacingAndGlyphs">15</text>
<text x="411.2" y="30.0" font-size="8.6" font-weight="700" stroke="#111" stroke-width="0.22" text-anchor="end" textLength="9.3" lengthAdjust="spacingAndGlyphs">20</text>
<path d="M412.4 140.9H414.6M412.4 112.4H414.6M412.4 83.9H414.6M412.4 55.4H414.6M412.4 26.9H414.6" stroke="#111" stroke-width="0.9" fill="none"/>
<text x="454.0" y="9.8" font-size="7.6" font-weight="700" stroke="#111" stroke-width="0.22" text-anchor="start" textLength="22.4" lengthAdjust="spacingAndGlyphs">p=0.01</text>
<path d="M453.9 14.2H474.6" stroke="#111" stroke-width="0.9"/>
<text x="487.2" y="19.8" font-size="7.6" font-weight="700" stroke="#111" stroke-width="0.22" text-anchor="start" textLength="22.6" lengthAdjust="spacingAndGlyphs">p=0.02</text>
<path d="M488.0 24.4H508.6" stroke="#111" stroke-width="0.9"/>
<text x="391.0" y="108.8" font-size="9.8" font-weight="700" stroke="#111" stroke-width="0.2" transform="rotate(-90 391.0 108.8)" textLength="50.6" lengthAdjust="spacingAndGlyphs">% CD107a<tspan font-size="6.5" dy="-2.6">+</tspan></text>
<text x="415.9" y="151.6" font-size="7.8" font-weight="700" stroke="#111" stroke-width="0.2">CD56<tspan font-size="4.7" stroke="none" dy="-2.7">bright</tspan></text>
<text x="452.8" y="151.6" font-size="7.8" font-weight="700" stroke="#111" stroke-width="0.2">CD56<tspan font-size="4.7" stroke="none" dy="-2.7">dim</tspan></text>
<text x="490.3" y="151.6" font-size="7.8" font-weight="700" stroke="#111" stroke-width="0.2">CD56<tspan font-size="4.7" stroke="none" dy="-2.7">-</tspan></text>
</g>
<g id="panelD">
<text x="372.2" y="156.9" font-size="10.2" font-weight="700" text-anchor="start" textLength="6.9" lengthAdjust="spacingAndGlyphs" stroke="#111" stroke-width="0.35">D</text>
<rect x="372.2" y="162.1" width="8.2" height="7.4" fill="#0d0d0d"/>
<rect x="372.6" y="173.5" width="7.4" height="6.6" fill="#fff" stroke="#111" stroke-width="0.8"/>
<text x="382.6" y="168.3" font-size="7.8" font-weight="700" stroke="#111" stroke-width="0.22" text-anchor="start" textLength="20.6" lengthAdjust="spacingAndGlyphs">PBMC</text>
<text x="382.6" y="179.8" font-size="7.8" font-weight="700" stroke="#111" stroke-width="0.22" text-anchor="start" textLength="21.4" lengthAdjust="spacingAndGlyphs">CBMC</text>
<path d="M425.5 236.6V228.0M423.2 228.0H427.8" stroke="#1a1a1a" stroke-width="0.95" fill="none"/>
<rect x="421.6" y="236.6" width="7.7" height="43.0" fill="#0d0d0d"/>
<path d="M436.7 233.7V220.3M434.4 220.3H439.0" stroke="#1a1a1a" stroke-width="0.95" fill="none"/>
<rect x="433.3" y="234.1" width="6.8" height="45.5" fill="#fff" stroke="#111" stroke-width="0.8"/>
<path d="M461.1 192.2V178.6M458.8 178.6H463.4" stroke="#1a1a1a" stroke-width="0.95" fill="none"/>
<rect x="457.1" y="192.2" width="7.9" height="87.4" fill="#0d0d0d"/>
<path d="M472.4 249.3V242.4M470.1 242.4H474.7" stroke="#1a1a1a" stroke-width="0.95" fill="none"/>
<rect x="468.9" y="249.7" width="7.0" height="29.9" fill="#fff" stroke="#111" stroke-width="0.8"/>
<path d="M497.0 202.9V184.7M494.7 184.7H499.3" stroke="#1a1a1a" stroke-width="0.95" fill="none"/>
<rect x="493.2" y="202.9" width="7.6" height="76.7" fill="#0d0d0d"/>
<path d="M507.9 241.9V231.9M505.6 231.9H510.2" stroke="#1a1a1a" stroke-width="0.95" fill="none"/>
<rect x="504.4" y="242.3" width="7.0" height="37.3" fill="#fff" stroke="#111" stroke-width="0.8"/>
<path d="M417.9 164.8V279.6H520" stroke="#111" stroke-width="1.1" fill="none"/>
<text x="414.5" y="282.5" font-size="8.0" font-weight="700" stroke="#111" stroke-width="0.22" text-anchor="end" textLength="3.9" lengthAdjust="spacingAndGlyphs">0</text>
<text x="414.5" y="259.7" font-size="8.0" font-weight="700" stroke="#111" stroke-width="0.22" text-anchor="end" textLength="3.9" lengthAdjust="spacingAndGlyphs">5</text>
<text x="414.5" y="236.9" font-size="8.0" font-weight="700" stroke="#111" stroke-width="0.22" text-anchor="end" textLength="7.7" lengthAdjust="spacingAndGlyphs">10</text>
<text x="414.5" y="214.2" font-size="8.0" font-weight="700" stroke="#111" stroke-width="0.22" text-anchor="end" textLength="7.7" lengthAdjust="spacingAndGlyphs">15</text>
<text x="414.5" y="191.4" font-size="8.0" font-weight="700" stroke="#111" stroke-width="0.22" text-anchor="end" textLength="7.7" lengthAdjust="spacingAndGlyphs">20</text>
<text x="414.5" y="168.7" font-size="8.0" font-weight="700" stroke="#111" stroke-width="0.22" text-anchor="end" textLength="7.7" lengthAdjust="spacingAndGlyphs">25</text>
<path d="M415.7 279.6H417.9M415.7 256.8H417.9M415.7 234.1H417.9M415.7 211.3H417.9M415.7 188.6H417.9M415.7 165.8H417.9" stroke="#111" stroke-width="0.9" fill="none"/>
<text x="456.3" y="170.0" font-size="7.6" font-weight="700" stroke="#111" stroke-width="0.22" text-anchor="start" textLength="23.0" lengthAdjust="spacingAndGlyphs">p&lt;0.05</text>
<path d="M457.3 173.8H473.6" stroke="#111" stroke-width="0.9"/>
<text x="493.3" y="176.2" font-size="7.6" font-weight="700" stroke="#111" stroke-width="0.22" text-anchor="start" textLength="23.0" lengthAdjust="spacingAndGlyphs">p&lt;0.05</text>
<path d="M494.0 180.5H510.2" stroke="#111" stroke-width="0.9"/>
<text x="393.8" y="250.5" font-size="9.8" font-weight="700" stroke="#111" stroke-width="0.2" transform="rotate(-90 393.8 250.5)" textLength="53.5" lengthAdjust="spacingAndGlyphs">% CD107a<tspan font-size="6.5" dy="-2.6">+</tspan></text>
<text x="417.4" y="290.9" font-size="7.8" font-weight="700" stroke="#111" stroke-width="0.2">CD56<tspan font-size="4.7" stroke="none" dy="-2.7">bright</tspan></text>
<text x="454.7" y="290.9" font-size="7.8" font-weight="700" stroke="#111" stroke-width="0.2">CD56<tspan font-size="4.7" stroke="none" dy="-2.7">dim</tspan></text>
<text x="493.2" y="290.9" font-size="7.8" font-weight="700" stroke="#111" stroke-width="0.2">CD56<tspan font-size="4.7" stroke="none" dy="-2.7">-</tspan></text>
</g>
</svg>
</body>
</html>
